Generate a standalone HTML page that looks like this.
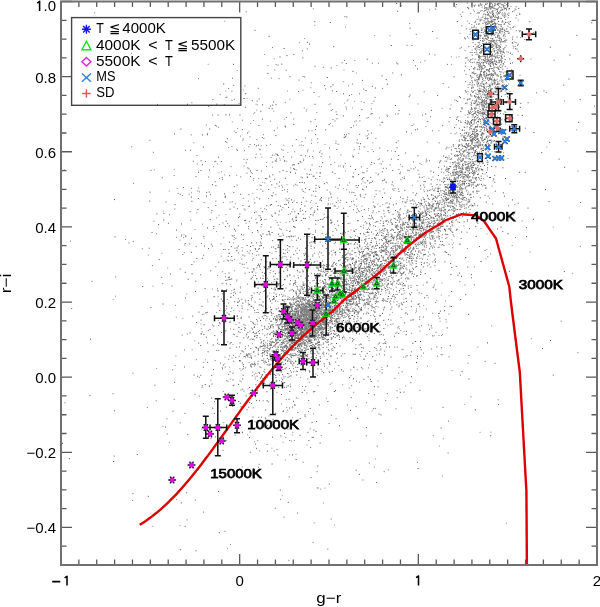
<!DOCTYPE html>
<html><head><meta charset="utf-8"><style>
html,body{margin:0;padding:0;background:#fff;overflow:hidden;}
svg{display:block;font-family:"Liberation Sans",sans-serif;will-change:transform;}
</style></head><body>
<svg width="600" height="607" viewBox="0 0 600 607">
<path d="M349.6 254.9h1M426.6 262.7h1M403.7 224.6h1M447.4 195.3h1M351.8 294.5h1M478.3 79.4h1M356.7 273.5h1M437.9 230.0h1M476.6 94.5h1M444.4 193.9h1M480.6 156.6h1M298.3 323.1h1M450.0 207.2h1M285.3 320.9h1M500.7 26.0h1M355.4 296.4h1M493.4 26.4h1M468.7 113.0h1M472.5 33.9h1M490.5 33.7h1M443.5 245.6h1M471.5 147.8h1M291.1 329.6h1M478.7 42.3h1M455.0 165.0h1M477.7 110.9h1M489.3 140.2h1M294.9 336.3h1M497.8 58.0h1M359.8 291.9h1M393.7 218.5h1M306.3 328.6h1M461.5 109.0h1M491.2 32.0h1M488.2 53.4h1M364.8 268.4h1M342.1 297.9h1M436.2 204.9h1M499.6 38.4h1M463.6 221.8h1M332.4 295.5h1M500.3 53.2h1M510.0 63.4h1M449.0 179.3h1M465.9 133.7h1M421.8 223.6h1M356.1 297.4h1M346.5 299.6h1M388.9 268.0h1M395.0 249.1h1M502.0 20.9h1M492.2 94.0h1M374.1 252.9h1M385.3 260.1h1M364.6 284.3h1M380.6 264.3h1M339.3 297.7h1M390.5 267.4h1M317.8 334.7h1M346.6 310.2h1M462.0 168.4h1M382.4 225.9h1M485.9 70.1h1M484.5 139.4h1M477.8 112.6h1M345.0 266.2h1M332.9 312.3h1M294.9 338.3h1M354.0 312.1h1M466.6 176.5h1M302.5 325.8h1M479.6 102.7h1M383.7 269.2h1M302.1 314.3h1M349.4 300.2h1M490.7 68.6h1M501.8 28.2h1M320.7 325.5h1M292.8 319.7h1M282.5 342.4h1M419.2 225.0h1M303.7 305.1h1M325.6 310.6h1M498.6 45.6h1M275.2 375.4h1M283.6 306.6h1M390.4 271.8h1M358.3 281.8h1M401.4 228.7h1M296.7 318.4h1M313.5 325.6h1M296.6 327.9h1M463.7 140.7h1M480.5 149.3h1M306.8 356.6h1M484.1 65.7h1M489.6 7.9h1M331.5 311.7h1M387.3 257.8h1M467.2 166.9h1M455.4 166.7h1M450.3 229.1h1M489.1 177.5h1M465.6 144.0h1M485.5 18.4h1M334.1 331.2h1M490.0 63.7h1M336.1 296.8h1M444.2 229.1h1M451.1 209.8h1M501.8 58.2h1M360.1 275.7h1M329.0 310.8h1M379.2 258.1h1M453.1 196.1h1M492.2 55.7h1M277.1 324.9h1M482.4 68.9h1M303.4 329.7h1M401.2 274.1h1M322.1 314.3h1M381.8 240.4h1M454.5 208.2h1M303.4 310.1h1M499.6 12.4h1M400.1 263.5h1M352.4 288.6h1M391.7 256.8h1M489.5 16.2h1M410.6 235.8h1M379.0 277.8h1M374.4 297.6h1M491.5 11.6h1M348.0 310.7h1M358.7 264.1h1M401.9 245.5h1M386.2 246.8h1M487.0 121.5h1M419.6 237.2h1M476.2 75.9h1M330.4 310.3h1M446.9 199.5h1M372.0 268.6h1M450.9 149.9h1M308.4 319.4h1M455.4 173.2h1M328.1 289.0h1M312.0 315.4h1M484.2 90.4h1M482.8 84.3h1M492.0 47.2h1M474.7 152.1h1M493.8 51.6h1M466.7 3.1h1M492.2 38.7h1M478.5 97.5h1M487.5 110.8h1M360.5 285.0h1M476.8 117.8h1M436.5 184.7h1M421.5 242.9h1M362.1 268.3h1M477.2 97.3h1M458.0 120.8h1M469.6 98.9h1M436.2 203.5h1M360.3 318.0h1M386.5 285.7h1M315.6 288.5h1M313.8 346.9h1M448.6 193.5h1M285.7 328.7h1M461.8 192.7h1M459.5 189.6h1M506.7 31.3h1M395.7 257.5h1M470.4 194.2h1M490.4 38.6h1M513.6 10.9h1M493.8 50.4h1M385.3 260.9h1M457.0 195.1h1M336.7 292.2h1M487.0 51.9h1M492.5 112.2h1M295.2 282.2h1M392.8 263.4h1M330.2 310.4h1M483.5 87.8h1M497.6 17.7h1M321.8 287.1h1M465.1 169.0h1M468.2 207.0h1M464.1 37.9h1M325.1 284.0h1M475.4 93.2h1M292.2 313.2h1M497.0 86.8h1M454.7 189.9h1M466.7 152.3h1M407.5 255.3h1M304.5 317.3h1M439.6 202.3h1M490.6 73.9h1M339.8 311.6h1M480.5 48.8h1M320.8 311.6h1M475.4 151.6h1M323.1 268.8h1M472.3 72.5h1M329.4 302.0h1M392.3 237.3h1M481.8 101.5h1M438.8 216.5h1M472.9 148.3h1M487.0 148.7h1M487.1 53.3h1M368.4 289.6h1M489.2 33.5h1M402.2 230.4h1M352.0 263.4h1M294.9 338.9h1M288.3 322.2h1M296.9 351.6h1M497.7 30.1h1M338.2 260.7h1M361.4 281.5h1M488.9 74.3h1M490.2 104.6h1M393.2 273.6h1M495.8 48.0h1M480.8 32.4h1M394.4 266.2h1M297.6 326.8h1M466.5 57.8h1M492.8 63.0h1M313.4 321.8h1M454.2 196.5h1M474.1 172.7h1M309.1 341.5h1M464.8 66.2h1M375.0 319.1h1M296.5 335.6h1M479.7 63.8h1M425.4 213.5h1M322.5 329.7h1M479.6 38.2h1M282.0 347.8h1M267.5 348.4h1M480.4 56.6h1M373.8 248.1h1M485.5 38.7h1M342.7 287.7h1M489.2 7.2h1M352.0 298.6h1M298.5 314.6h1M303.2 341.7h1M473.4 27.2h1M431.5 226.6h1M308.2 323.3h1M484.0 6.0h1M422.2 228.0h1M280.5 347.2h1M469.5 34.2h1M480.8 104.4h1M298.4 348.4h1M477.3 105.0h1M371.8 275.3h1M308.1 330.2h1M487.4 121.6h1M243.7 356.5h1M460.7 187.7h1M486.5 36.3h1M295.5 344.8h1M279.8 340.1h1M444.2 194.7h1M341.2 296.7h1M369.3 293.6h1M488.5 34.8h1M497.1 84.6h1M398.2 264.8h1M356.9 293.1h1M357.0 281.6h1M443.1 219.2h1M456.7 172.1h1M503.2 114.0h1M299.7 316.6h1M301.5 336.3h1M493.7 61.4h1M393.2 256.9h1M485.6 110.2h1M470.7 122.0h1M498.5 40.4h1M264.4 348.2h1M461.8 146.1h1M390.2 301.1h1M454.2 198.2h1M502.5 51.1h1M301.7 335.5h1M331.9 306.9h1M491.8 34.8h1M366.6 270.4h1M475.0 49.1h1M458.5 148.4h1M461.4 188.6h1M398.9 258.4h1M433.8 209.8h1M464.7 181.7h1M475.9 177.8h1M497.1 52.9h1M499.5 3.0h1M471.7 152.4h1M484.4 49.2h1M316.0 319.0h1M475.4 136.4h1M302.2 343.9h1M380.7 267.2h1M483.0 117.3h1M375.2 238.9h1M445.4 194.1h1M489.3 52.1h1M491.1 55.6h1M313.6 280.4h1M462.9 155.9h1M431.2 194.9h1M399.2 248.4h1M474.2 95.7h1M330.2 283.5h1M452.9 213.3h1M281.9 336.7h1M443.0 215.1h1M284.9 333.9h1M356.6 281.6h1M320.2 291.3h1M479.8 91.4h1M440.1 241.4h1M448.7 168.6h1M518.2 8.4h1M494.3 19.3h1M438.0 191.6h1M420.2 213.5h1M480.0 137.8h1M492.0 14.4h1M484.1 139.3h1M467.4 146.4h1M496.2 32.8h1M327.8 304.4h1M337.8 273.5h1M340.7 286.7h1M490.7 32.1h1M310.7 309.4h1M449.3 229.0h1M503.1 35.3h1M399.5 264.0h1M400.4 250.3h1M420.5 228.5h1M337.3 303.2h1M471.2 108.3h1M479.8 197.9h1M278.3 338.9h1M306.1 294.2h1M417.8 217.2h1M482.2 133.6h1M286.5 337.3h1M437.5 203.1h1M491.8 44.4h1M472.8 184.0h1M478.8 88.9h1M471.1 122.5h1M476.7 62.3h1M350.5 304.9h1M459.9 186.6h1M367.4 248.3h1M481.5 10.6h1M352.4 311.1h1M483.3 133.8h1M465.9 143.7h1M461.3 171.0h1M496.4 67.5h1M409.2 258.0h1M481.3 103.1h1M321.0 332.4h1M367.9 313.3h1M351.3 296.4h1M360.7 309.0h1M434.6 243.7h1M474.6 59.2h1M475.5 177.5h1M306.9 330.9h1M460.3 193.0h1M280.3 331.3h1M283.7 350.6h1M485.4 152.8h1M437.1 215.0h1M284.0 325.8h1M266.4 352.2h1M457.5 214.4h1M486.4 24.4h1M437.0 203.1h1M295.0 336.5h1M474.7 161.8h1M323.1 298.0h1M474.0 108.1h1M483.8 87.9h1M306.6 314.9h1M325.4 275.6h1M486.0 102.3h1M451.7 203.6h1M500.9 91.4h1M352.3 331.1h1M330.6 297.6h1M275.7 356.1h1M464.4 179.8h1M472.6 42.6h1M430.8 179.8h1M495.0 57.9h1M275.4 341.2h1M291.4 307.0h1M490.4 13.2h1M480.5 126.7h1M504.1 119.8h1M415.2 195.2h1M306.7 333.5h1M492.5 41.4h1M329.5 313.1h1M385.9 240.3h1M377.4 259.5h1M441.7 224.4h1M481.4 86.5h1M273.7 342.6h1M337.0 308.8h1M294.8 315.1h1M400.4 265.5h1M492.3 119.7h1M460.3 168.3h1M292.4 347.4h1M423.3 216.1h1M300.7 330.7h1M487.1 120.1h1M372.0 264.1h1M450.4 180.9h1M341.0 325.7h1M461.9 195.4h1M242.8 364.6h1M341.5 316.5h1M448.3 168.9h1M273.1 374.1h1M469.5 113.5h1M495.8 45.3h1M349.1 300.2h1M341.9 281.9h1M497.1 113.0h1M455.5 197.6h1M261.6 375.2h1M328.4 311.3h1M400.7 275.3h1M346.7 304.2h1M461.9 129.9h1M488.0 90.8h1M465.3 138.2h1M493.8 104.5h1M456.7 174.5h1M410.2 218.5h1M295.2 343.2h1M487.6 60.0h1M487.9 92.3h1M342.5 301.4h1M371.9 252.8h1M482.2 104.9h1M310.9 319.7h1M343.0 320.5h1M307.9 296.3h1M294.6 347.6h1M446.4 147.2h1M499.8 60.4h1M414.0 213.5h1M330.8 316.0h1M497.1 36.1h1M379.2 283.3h1M469.3 163.3h1M366.4 244.8h1M490.3 43.4h1M462.3 165.2h1M423.4 254.6h1M391.5 235.8h1M313.4 306.4h1M351.5 330.4h1M502.7 5.0h1M436.6 218.9h1M496.6 94.7h1M485.2 33.1h1M290.6 307.9h1M461.7 185.0h1M480.8 28.1h1M282.3 313.6h1M420.9 243.4h1M311.9 302.1h1M257.6 361.3h1M498.7 60.6h1M348.1 316.9h1M444.8 196.6h1M311.3 325.0h1M314.8 314.9h1M466.4 204.0h1M330.5 278.7h1M468.7 168.3h1M477.2 121.4h1M328.3 303.6h1M371.6 238.6h1M351.7 259.1h1M490.9 131.1h1M351.7 269.1h1M484.8 19.0h1M378.5 286.3h1M492.1 4.9h1M409.2 241.9h1M312.5 329.4h1M464.4 174.6h1M270.8 345.4h1M482.3 109.3h1M479.6 113.4h1M473.6 129.0h1M382.3 250.5h1M374.2 279.4h1M338.1 297.9h1M278.3 370.1h1M276.5 340.0h1M477.8 83.2h1M298.0 324.1h1M292.3 348.2h1M413.0 229.8h1M324.4 299.6h1M433.6 226.4h1M335.6 288.0h1M368.5 257.2h1M337.2 300.6h1M312.5 324.5h1M497.2 37.2h1M345.1 272.0h1M465.8 92.1h1M474.0 135.9h1M300.3 312.2h1M485.8 137.6h1M493.7 127.3h1M487.1 167.9h1M307.4 301.0h1M395.8 275.7h1M478.0 174.0h1M297.3 338.5h1M332.4 291.9h1M484.1 71.5h1M312.5 294.0h1M267.9 326.9h1M494.5 67.2h1M357.0 277.2h1M482.3 101.7h1M366.3 254.1h1M464.3 181.4h1M412.3 219.4h1M446.2 161.2h1M478.5 57.4h1M340.6 297.5h1M317.8 347.8h1M397.3 232.9h1M383.7 271.0h1M376.3 302.3h1M373.8 273.1h1M308.6 318.8h1M503.7 75.8h1M417.9 211.1h1M346.8 295.1h1M302.0 336.5h1M456.3 201.1h1M494.4 73.8h1M415.0 213.6h1M498.3 143.9h1M485.0 4.2h1M470.2 166.0h1M487.4 77.7h1M497.7 76.2h1M380.1 294.4h1M429.0 226.5h1M342.9 293.3h1M487.4 14.5h1M470.5 109.8h1M458.6 166.6h1M472.2 133.4h1M475.2 168.8h1M328.6 296.7h1M376.2 255.3h1M305.9 355.8h1M475.5 155.7h1M300.5 332.7h1M323.6 305.5h1M385.1 239.4h1M462.1 168.8h1M494.1 80.2h1M413.0 228.5h1M448.4 203.0h1M442.2 244.6h1M500.3 64.7h1M480.5 85.4h1M462.8 159.8h1M310.3 337.0h1M456.3 199.7h1M322.1 297.4h1M505.2 40.0h1M323.8 328.9h1M474.1 73.9h1M336.1 296.0h1M317.4 337.7h1M371.4 270.9h1M342.3 285.6h1M306.2 308.9h1M264.1 326.3h1M481.7 112.4h1M473.9 129.7h1M471.0 120.4h1M419.7 203.8h1M321.1 334.3h1M381.6 280.2h1M346.0 288.2h1M485.6 4.3h1M459.1 151.6h1M434.8 208.2h1M344.7 294.6h1M467.4 117.3h1M315.7 306.5h1M483.9 102.1h1M354.1 265.9h1M470.1 162.1h1M487.0 12.6h1M293.2 323.1h1M492.6 93.9h1M461.9 168.7h1M333.5 284.7h1M481.5 140.1h1M295.3 367.3h1M482.4 43.4h1M479.6 155.8h1M371.2 289.2h1M316.0 307.6h1M490.2 41.3h1M468.2 163.7h1M368.9 269.8h1M423.5 207.1h1M443.4 207.3h1M468.3 143.5h1M482.5 163.2h1M389.8 260.8h1M277.8 342.4h1M489.2 96.7h1M481.9 150.5h1M341.2 301.1h1M381.3 265.9h1M312.4 310.3h1M504.7 59.6h1M415.7 205.2h1M457.4 163.0h1M302.1 320.0h1M479.2 126.8h1M324.6 328.6h1M314.4 334.8h1M484.2 91.1h1M452.8 208.2h1M464.9 38.9h1M484.9 31.0h1M354.2 248.2h1M360.6 259.5h1M384.7 274.4h1M491.5 80.1h1M416.1 240.1h1M328.1 339.4h1M349.7 322.6h1M471.7 141.9h1M468.5 167.2h1M318.3 342.4h1M398.1 234.0h1M477.6 185.3h1M468.8 180.7h1M512.5 27.5h1M392.9 252.2h1M408.5 262.0h1M490.5 27.8h1M340.3 295.1h1M342.1 288.9h1M379.9 269.2h1M495.2 73.9h1M472.4 138.6h1M450.6 201.4h1M358.7 282.9h1M369.8 272.0h1M413.5 227.7h1M498.5 35.8h1M486.8 96.7h1M390.8 284.4h1M464.5 197.4h1M309.2 329.1h1M291.3 321.1h1M487.6 124.7h1M310.2 309.6h1M387.6 267.5h1M421.9 227.2h1M338.6 307.1h1M483.8 67.9h1M475.6 101.8h1M441.4 204.6h1M467.2 194.4h1M405.2 241.0h1M481.6 118.4h1M304.6 354.5h1M323.6 322.5h1M345.4 300.7h1M339.4 326.0h1M279.3 335.0h1M313.8 315.0h1M439.0 236.7h1M489.7 56.2h1M331.8 323.7h1M322.3 337.1h1M480.1 74.8h1M330.9 291.5h1M488.2 70.9h1M471.0 107.8h1M450.3 185.5h1M450.1 200.6h1M319.2 337.8h1M486.5 9.1h1M430.3 218.0h1M447.4 187.3h1M498.4 69.6h1M390.2 281.7h1M463.6 197.6h1M413.4 220.7h1M290.4 350.2h1M374.7 251.5h1M439.7 161.2h1M343.4 288.9h1M477.2 135.1h1M497.5 94.7h1M376.8 268.9h1M362.2 299.3h1M436.4 237.0h1M499.8 49.9h1M488.6 93.5h1M302.0 339.9h1M291.5 350.6h1M485.1 14.7h1M337.9 284.6h1M488.4 117.1h1M476.5 46.5h1M447.5 169.3h1M474.2 96.3h1M326.4 284.3h1M303.8 321.9h1M278.8 340.7h1M502.4 21.9h1M371.6 264.8h1M377.8 259.8h1M461.8 183.7h1M448.7 209.9h1M379.9 265.4h1M478.9 67.7h1M279.2 319.2h1M412.2 228.1h1M322.4 310.0h1M305.7 321.9h1M486.7 162.3h1M449.1 223.4h1M478.9 76.4h1M347.2 303.1h1M345.8 306.4h1M501.0 56.4h1M466.9 219.8h1M279.8 336.6h1M471.7 114.6h1M498.8 37.1h1M309.4 296.5h1M284.3 341.8h1M389.8 252.7h1M469.0 173.5h1M323.8 310.8h1M321.6 333.4h1M497.0 57.1h1M378.3 270.0h1M451.0 195.3h1M448.3 228.9h1M381.5 269.0h1M491.8 33.3h1M429.3 226.0h1M282.7 332.4h1M464.9 90.9h1M474.7 44.3h1M466.0 198.8h1M286.1 329.3h1M345.5 254.6h1M498.1 12.7h1M301.1 346.6h1M472.6 138.1h1M497.0 4.3h1M489.2 78.2h1M375.0 265.1h1M323.1 307.1h1M335.9 306.3h1M478.8 145.2h1M502.3 15.7h1M300.3 344.2h1M330.3 291.8h1M308.0 327.2h1M360.7 273.8h1M490.9 20.7h1M398.5 231.8h1M420.7 226.4h1M297.4 338.0h1M435.1 216.3h1M439.6 223.9h1M489.5 31.9h1M345.0 258.2h1M371.8 288.3h1M470.7 172.7h1M403.7 272.0h1M477.9 45.9h1M289.7 331.3h1M475.6 185.8h1M328.1 344.8h1M447.6 206.1h1M414.0 254.6h1M415.5 223.5h1M293.0 363.1h1M448.3 172.5h1M301.1 332.8h1M469.1 185.7h1M515.0 48.8h1M346.2 285.2h1M476.7 136.3h1M433.5 221.5h1M490.9 21.9h1M432.5 226.3h1M483.4 112.3h1M491.0 47.3h1M424.7 235.7h1M261.0 376.9h1M285.6 341.3h1M398.7 246.5h1M377.0 233.5h1M478.2 140.4h1M490.7 22.0h1M336.7 322.3h1M352.7 299.5h1M485.1 45.2h1M341.4 278.7h1M313.9 313.5h1M286.4 328.5h1M478.3 57.0h1M291.9 332.7h1M485.9 126.2h1M472.2 92.3h1M317.9 283.5h1M491.0 110.7h1M302.2 335.5h1M262.5 306.2h1M489.1 85.5h1M423.7 254.6h1M506.7 73.7h1M337.3 310.1h1M473.1 172.7h1M347.4 292.4h1M365.4 238.8h1M476.8 146.5h1M312.1 325.0h1M287.3 338.6h1M253.1 352.0h1M319.3 304.3h1M366.8 321.6h1M364.5 258.7h1M295.1 314.7h1M303.3 320.2h1M471.9 82.2h1M458.2 176.7h1M490.1 92.6h1M286.1 309.9h1M355.1 267.8h1M437.2 220.0h1M485.7 137.0h1M463.9 133.2h1M500.7 124.5h1M480.7 69.9h1M322.3 318.6h1M487.1 141.5h1M436.9 191.4h1M286.9 299.4h1M477.8 147.4h1M427.1 191.0h1M330.7 319.5h1M494.1 60.0h1M483.5 106.8h1M504.1 30.7h1M323.3 317.6h1M415.4 214.0h1M452.5 203.1h1M423.6 229.3h1M451.7 190.3h1M457.9 175.1h1M358.7 269.0h1M458.8 141.2h1M453.2 216.7h1M358.0 275.7h1M257.9 349.1h1M471.4 109.3h1M450.3 197.1h1M310.0 322.4h1M306.6 315.2h1M300.7 322.7h1M308.7 333.7h1M348.3 294.9h1M341.7 328.2h1M479.1 75.7h1M431.1 194.9h1M491.3 6.8h1M396.1 239.9h1M477.8 101.9h1M498.2 107.4h1M429.0 205.8h1M483.2 127.0h1M323.0 301.4h1M283.4 330.1h1M437.3 224.2h1M296.2 375.0h1M287.1 336.8h1M365.2 304.0h1M492.6 15.2h1M483.2 84.1h1M316.1 311.5h1M375.2 277.7h1M479.5 21.0h1M340.5 311.2h1M270.5 344.7h1M459.0 191.8h1M467.0 140.6h1M496.8 14.0h1M481.6 100.6h1M323.6 288.2h1M470.1 135.6h1M271.0 358.8h1M482.2 173.7h1M335.0 313.0h1M419.6 203.2h1M412.5 230.1h1M497.4 55.2h1M373.0 256.3h1M288.7 340.8h1M381.0 235.4h1M411.8 242.4h1M410.9 260.8h1M494.8 63.4h1M459.4 175.5h1M352.1 285.5h1M473.1 155.8h1M496.0 98.7h1M473.6 69.0h1M310.2 316.4h1M275.8 322.3h1M299.7 341.5h1M461.0 192.3h1M336.0 353.9h1M488.9 92.6h1M422.2 233.1h1M491.9 62.6h1M482.9 105.4h1M345.6 298.8h1M478.7 49.7h1M321.6 318.0h1M309.5 316.6h1M374.5 268.7h1M481.0 127.1h1M491.3 97.0h1M335.0 304.2h1M480.9 51.9h1M503.2 87.3h1M502.8 63.5h1M491.4 107.7h1M481.0 169.8h1M287.7 325.4h1M251.9 364.2h1M321.9 339.2h1M501.7 85.5h1M320.6 329.4h1M288.4 316.3h1M482.7 45.9h1M497.3 51.8h1M405.2 232.0h1M332.5 294.2h1M307.5 297.3h1M432.9 217.5h1M492.5 83.9h1M285.5 346.2h1M493.1 93.3h1M471.1 141.1h1M305.9 332.5h1M312.0 319.5h1M399.6 237.3h1M297.6 314.8h1M493.0 15.8h1M472.4 119.5h1M334.0 326.2h1M490.6 30.0h1M325.5 274.2h1M328.9 320.9h1M455.6 148.8h1M430.3 216.2h1M487.3 78.7h1M486.0 73.2h1M388.4 276.6h1M390.3 261.8h1M318.5 326.6h1M476.7 133.6h1M446.4 200.2h1M390.5 248.3h1M509.2 58.9h1M437.9 213.5h1M387.8 268.2h1M475.1 116.7h1M292.8 355.8h1M305.4 350.7h1M413.2 247.9h1M435.6 230.9h1M361.5 278.6h1M477.1 174.5h1M416.4 258.2h1M425.6 210.1h1M350.0 264.7h1M406.6 257.6h1M330.0 320.7h1M279.8 324.6h1M300.0 323.2h1M492.7 129.5h1M407.3 231.1h1M388.1 252.0h1M469.3 124.4h1M498.2 99.3h1M475.5 171.3h1M304.5 306.0h1M459.6 194.6h1M328.9 307.3h1M493.2 141.1h1M488.7 127.9h1M254.8 364.7h1M462.3 173.1h1M459.9 157.7h1M462.7 165.7h1M464.2 127.4h1M501.0 96.3h1M287.6 377.2h1M468.1 8.7h1M493.9 120.0h1M325.1 313.5h1M315.2 338.1h1M254.2 363.6h1M484.5 71.8h1M393.2 240.0h1M288.4 350.8h1M291.0 342.0h1M490.3 129.5h1M413.0 269.2h1M484.0 129.1h1M278.6 314.5h1M476.2 168.9h1M489.7 6.5h1M411.3 258.5h1M472.8 163.6h1M287.6 321.4h1M474.7 155.5h1M494.3 17.2h1M287.2 334.7h1M273.2 346.1h1M488.1 131.3h1M451.0 154.0h1M439.5 200.7h1M307.8 349.2h1M301.5 334.6h1M289.0 324.6h1M489.8 17.6h1M426.8 209.2h1M417.5 227.2h1M481.0 45.6h1M391.4 250.5h1M341.9 309.9h1M484.3 29.9h1M349.4 264.7h1M349.2 287.0h1M415.5 229.2h1M499.8 46.7h1M378.9 248.0h1M493.2 33.6h1M501.4 4.6h1M429.2 226.9h1M356.3 270.3h1M503.8 56.2h1M489.2 44.5h1M310.0 306.0h1M474.0 6.1h1M330.1 310.3h1M481.7 81.6h1M500.9 39.4h1M481.6 138.1h1M334.1 307.4h1M449.3 194.0h1M354.2 293.6h1M466.3 169.0h1M350.4 283.1h1M429.4 204.6h1M390.4 258.5h1M351.7 328.8h1M416.7 204.7h1M371.9 270.4h1M472.0 173.6h1M440.7 214.3h1M453.6 188.8h1M488.2 74.6h1M300.9 328.9h1M269.9 374.1h1M275.2 344.3h1M285.7 345.7h1M506.4 4.6h1M474.1 26.0h1M359.8 309.6h1M476.4 191.0h1M474.5 22.4h1M335.8 288.9h1M482.8 50.2h1M482.2 169.5h1M392.2 272.3h1M486.5 74.4h1M482.7 64.0h1M403.1 272.7h1M461.5 166.8h1M478.3 24.4h1M473.5 39.1h1M483.7 130.8h1M325.7 330.6h1M432.1 247.9h1M484.5 122.8h1M493.3 45.1h1M490.1 21.8h1M373.5 280.7h1M475.4 96.9h1M388.5 263.2h1M454.1 127.6h1M377.7 261.1h1M465.7 212.2h1M326.0 295.8h1M323.5 321.8h1M477.4 110.4h1M280.7 372.1h1M460.7 136.0h1M368.4 288.9h1M427.9 203.0h1M477.0 139.3h1M355.4 298.9h1M333.3 295.2h1M342.0 290.5h1M494.7 126.4h1M263.6 344.7h1M478.0 121.5h1M494.5 56.6h1M485.4 122.8h1M313.4 321.2h1M470.7 102.2h1M490.3 66.4h1M467.6 177.3h1M471.1 134.6h1M317.6 342.8h1M422.7 197.8h1M280.6 329.8h1M478.5 13.1h1M356.5 304.9h1M381.6 279.7h1M470.9 165.3h1M448.9 190.5h1M493.8 40.3h1M497.0 11.6h1M459.5 154.8h1M463.8 184.8h1M482.0 113.7h1M476.8 126.6h1M352.5 258.8h1M487.4 59.3h1M489.6 140.1h1M487.8 151.8h1M292.0 341.2h1M366.9 248.4h1M278.9 357.7h1M471.2 88.3h1M443.9 166.1h1M411.8 260.3h1M325.8 300.4h1M483.7 118.5h1M386.8 284.1h1M498.0 21.5h1M494.5 82.1h1M477.5 165.7h1M291.3 341.2h1M338.4 308.0h1M505.0 22.6h1M464.9 146.5h1M322.8 291.3h1M334.5 320.6h1M471.4 182.6h1M497.3 47.4h1M492.1 21.6h1M306.9 292.6h1M412.4 236.9h1M512.1 39.2h1M443.0 156.1h1M483.2 86.3h1M358.2 268.9h1M339.8 298.7h1M358.8 301.8h1M299.6 356.1h1M246.4 355.3h1M482.0 38.2h1M464.0 137.1h1M304.5 340.5h1M330.7 295.0h1M318.5 325.0h1M458.9 96.6h1M484.5 122.7h1M495.4 53.8h1M339.4 308.9h1M493.7 35.2h1M486.7 26.8h1M425.0 239.1h1M295.3 337.4h1M499.6 51.2h1M368.5 262.8h1M279.1 361.7h1M420.7 228.7h1M391.9 257.6h1M348.0 280.8h1M456.9 181.2h1M502.3 82.2h1M418.9 224.7h1M400.4 267.0h1M425.9 214.5h1M463.9 183.5h1M269.9 333.8h1M485.8 35.5h1M301.0 335.2h1M474.6 173.0h1M495.7 27.8h1M460.0 97.7h1M491.6 63.9h1M345.5 280.0h1M489.1 92.1h1M464.5 162.9h1M462.5 214.5h1M483.4 112.4h1M456.1 119.4h1M339.9 297.3h1M400.4 227.9h1M466.9 168.3h1M347.3 309.2h1M404.9 251.3h1M482.2 132.7h1M397.6 235.4h1M478.6 168.8h1M371.7 274.5h1M469.2 184.2h1M512.8 78.0h1M281.2 350.1h1M299.2 344.8h1M490.9 51.8h1M500.4 24.6h1M364.3 303.2h1M478.8 77.3h1M447.8 193.0h1M493.5 28.0h1M350.6 290.6h1M343.1 286.6h1M468.0 185.8h1M266.3 329.1h1M330.1 302.8h1M282.1 379.8h1M489.1 148.7h1M393.1 250.7h1M490.2 126.2h1M481.3 50.3h1M496.7 9.4h1M374.3 238.3h1M444.0 229.5h1M350.1 293.0h1M431.0 229.6h1M471.8 55.1h1M290.8 357.4h1M275.8 370.7h1M454.2 177.8h1M398.2 214.9h1M416.5 285.5h1M390.5 236.7h1M365.2 241.1h1M478.4 62.6h1M474.6 112.2h1M456.6 200.9h1M346.7 307.8h1M512.2 36.9h1M479.7 66.6h1M328.6 310.0h1M407.0 241.3h1M410.2 243.8h1M478.4 113.9h1M469.5 29.3h1M491.1 79.0h1M480.0 73.8h1M424.9 235.9h1M492.4 28.6h1M463.3 137.5h1M476.7 84.8h1M292.5 339.4h1M327.3 323.7h1M305.4 330.1h1M346.1 303.5h1M303.8 324.8h1M402.2 258.9h1M362.7 300.5h1M462.6 177.0h1M447.2 234.6h1M291.0 319.9h1M472.9 91.7h1M482.6 41.4h1M492.4 10.9h1M507.6 3.1h1M410.1 217.6h1M492.9 16.4h1M327.5 298.3h1M466.8 100.0h1M411.9 215.2h1M486.8 27.0h1M373.7 269.3h1M507.0 96.9h1M389.4 241.6h1M258.5 372.6h1M453.7 179.1h1M486.0 75.7h1M456.3 155.3h1M285.0 323.9h1M500.5 51.7h1M490.5 46.3h1M499.2 32.8h1M432.8 218.6h1M486.2 50.6h1M284.9 352.3h1M484.1 103.3h1M479.7 36.1h1M334.5 299.0h1M448.3 192.4h1M317.6 331.5h1M493.5 117.6h1M415.8 232.4h1M333.8 311.0h1M399.6 214.8h1M287.5 318.1h1M323.6 327.7h1M327.4 296.6h1M363.9 300.2h1M330.5 296.4h1M469.4 122.8h1M285.9 348.1h1M480.5 158.1h1M305.9 355.3h1M507.2 14.2h1M448.7 218.7h1M432.7 231.4h1M477.5 104.5h1M422.8 223.1h1M491.1 89.1h1M295.7 333.7h1M453.5 192.2h1M432.1 199.2h1M486.2 142.7h1M482.0 40.8h1M292.7 315.3h1M486.3 8.0h1M357.1 305.0h1M339.2 293.6h1M290.1 321.5h1M492.4 30.1h1M315.1 311.2h1M269.2 349.3h1M487.4 53.6h1M287.1 316.5h1M456.2 151.3h1M350.2 301.3h1M278.9 328.4h1M475.8 105.1h1M336.5 311.2h1M357.9 282.3h1M490.1 140.6h1M363.9 280.9h1M300.0 324.2h1M489.6 145.8h1M488.7 69.4h1M477.9 96.3h1M334.4 323.7h1M316.1 317.2h1M479.1 52.7h1M480.6 91.3h1M329.8 302.7h1M335.5 297.5h1M477.7 47.5h1M318.1 297.9h1M402.6 233.7h1M340.9 314.7h1M405.1 238.9h1M292.1 316.5h1M326.3 311.1h1M388.4 240.4h1M480.9 71.2h1M368.3 253.4h1M318.6 347.7h1M453.8 177.9h1M427.0 226.7h1M468.3 183.6h1M495.4 80.3h1M326.1 290.2h1M427.4 211.5h1M473.9 164.3h1M491.7 88.7h1M341.8 315.3h1M361.5 256.1h1M491.9 83.9h1M311.0 345.4h1M380.6 252.0h1M490.7 40.6h1M276.7 339.2h1M286.8 310.8h1M297.4 328.4h1M450.1 166.8h1M473.2 165.5h1M335.7 307.4h1M435.6 207.8h1M475.8 160.8h1M481.1 69.1h1M286.0 346.7h1M363.6 270.6h1M473.1 68.8h1M386.5 239.2h1M456.0 197.9h1M386.3 234.3h1M299.3 330.4h1M483.0 72.7h1M423.3 185.0h1M431.4 205.9h1M478.4 98.6h1M388.2 222.0h1M469.8 111.6h1M495.8 61.2h1M479.1 47.4h1M306.0 324.5h1M490.7 75.6h1M476.6 133.6h1M488.6 106.2h1M300.3 351.2h1M470.5 140.2h1M444.9 231.0h1M411.5 253.4h1M494.3 5.6h1M323.4 286.6h1M445.8 187.5h1M494.3 123.2h1M370.8 249.7h1M434.7 240.7h1M468.8 99.0h1M474.4 52.5h1M391.1 236.6h1M361.0 283.9h1M474.4 119.5h1M285.1 363.7h1M444.9 186.7h1M500.9 62.7h1M497.9 3.7h1M262.1 374.7h1M380.1 264.7h1M481.2 76.9h1M330.5 306.2h1M459.6 195.2h1M445.1 213.5h1M356.4 314.8h1M469.2 201.3h1M304.1 335.2h1M490.1 127.4h1M284.6 353.9h1M483.5 20.8h1M309.2 310.2h1M394.3 258.9h1M496.1 64.6h1M419.3 234.5h1M273.9 351.4h1M410.7 237.0h1M447.1 179.5h1M485.4 7.8h1M495.9 99.8h1M428.9 212.3h1M476.7 145.3h1M482.6 89.6h1M482.6 92.8h1M488.6 70.9h1M449.0 187.4h1M325.0 279.9h1M311.7 319.9h1M273.0 361.0h1M499.7 28.6h1M491.7 34.5h1M482.4 23.3h1M348.4 322.1h1M412.8 233.2h1M481.4 4.8h1M352.4 298.2h1M361.9 253.7h1M332.6 277.3h1M285.3 351.0h1M303.2 320.5h1M469.4 127.4h1M494.4 23.5h1M409.9 271.9h1M336.4 273.4h1M480.8 148.3h1M477.4 54.7h1M314.8 329.6h1M489.2 78.8h1M383.4 265.5h1M449.0 179.2h1M497.4 103.7h1M507.6 31.7h1M492.7 106.6h1M368.8 255.2h1M318.2 314.9h1M313.3 317.5h1M273.1 335.7h1M344.0 280.9h1M349.1 290.2h1M396.1 225.7h1M296.3 321.1h1M492.9 64.9h1M309.5 310.8h1M365.7 278.7h1M331.8 303.6h1M335.6 305.5h1M457.0 155.0h1M479.0 91.1h1M457.2 197.7h1M344.5 259.1h1M475.6 28.0h1M471.4 96.0h1M483.5 87.0h1M474.4 90.3h1M295.2 328.4h1M396.6 257.7h1M359.1 291.7h1M318.3 327.7h1M329.7 308.2h1M396.7 238.4h1M388.8 291.9h1M478.0 35.8h1M483.0 62.7h1M473.5 138.0h1M429.1 248.8h1M423.3 229.6h1M368.3 284.3h1M357.6 296.9h1M416.4 233.3h1M464.7 122.4h1M475.3 111.6h1M485.8 107.4h1M380.5 279.1h1M376.7 255.4h1M475.9 131.6h1M453.6 210.6h1M480.8 134.6h1M421.2 225.7h1M375.2 275.0h1M429.0 215.4h1M495.6 46.5h1M488.0 60.8h1M412.1 228.9h1M364.5 254.7h1M482.3 48.8h1M459.6 172.2h1M466.6 123.9h1M498.7 62.2h1M434.7 208.1h1M485.2 57.7h1M479.1 118.8h1M501.5 86.4h1M338.7 305.6h1M497.9 88.3h1M432.3 235.7h1M486.0 82.7h1M368.3 269.6h1M401.6 248.6h1M325.8 304.1h1M454.3 183.9h1M299.7 321.5h1M376.5 284.1h1M284.4 345.6h1M403.9 251.6h1M445.6 234.4h1M353.0 296.1h1M339.1 306.1h1M313.6 318.3h1M318.4 315.1h1M269.5 345.4h1M392.9 238.5h1M425.2 232.2h1M396.4 236.5h1M455.8 169.3h1M354.9 310.5h1M301.6 311.0h1M358.5 260.9h1M478.1 91.1h1M468.3 112.8h1M458.7 145.1h1M395.4 227.4h1M277.8 347.2h1M272.0 342.0h1M488.4 97.4h1M267.3 346.1h1M469.2 169.1h1M440.7 216.2h1M471.0 140.1h1M479.3 75.0h1M481.5 83.1h1M367.6 292.6h1M354.1 289.5h1M495.8 84.7h1M490.9 142.0h1M401.8 273.7h1M490.8 43.0h1M418.3 226.2h1M381.6 263.6h1M247.4 332.5h1M277.6 370.6h1M497.5 67.1h1M483.7 114.0h1M294.9 325.9h1M327.1 310.0h1M492.3 33.4h1M476.1 129.8h1M487.2 69.7h1M369.6 244.9h1M398.6 254.0h1M506.9 71.7h1M484.8 114.3h1M490.4 46.8h1M283.6 326.5h1M296.6 331.9h1M290.1 354.0h1M308.4 307.4h1M471.2 90.9h1M444.3 178.3h1M509.0 8.4h1M498.9 100.3h1M480.6 52.3h1M326.0 328.0h1M389.5 254.1h1M505.2 8.5h1M478.5 59.8h1M302.7 283.9h1M485.0 23.1h1M498.5 111.3h1M463.5 204.6h1M284.6 333.6h1M395.5 226.4h1M403.9 252.5h1M483.3 122.5h1M495.7 12.8h1M383.7 300.1h1M470.8 123.3h1M297.8 304.2h1M340.2 298.2h1M511.9 62.9h1M350.9 295.4h1M313.9 309.4h1M304.1 345.0h1M465.8 150.1h1M315.8 329.9h1M355.6 311.8h1M461.6 181.5h1M379.2 247.6h1M425.8 234.0h1M492.3 103.1h1M488.3 157.2h1M348.8 301.4h1M484.2 74.8h1M412.7 226.7h1M476.5 191.3h1M470.1 60.0h1M495.8 62.3h1M431.3 231.9h1M496.6 9.1h1M474.1 146.0h1M407.1 252.6h1M467.4 164.2h1M444.9 198.5h1M478.5 92.3h1M467.6 122.6h1M471.4 80.7h1M472.3 163.3h1M491.5 41.3h1M491.7 68.5h1M311.0 350.7h1M293.3 321.3h1M410.5 238.0h1M347.3 305.5h1M289.8 304.3h1M307.3 321.9h1M447.3 185.1h1M361.0 263.4h1M361.0 309.5h1M471.4 144.0h1M476.2 139.3h1M483.0 150.6h1M481.5 148.6h1M298.6 344.2h1M291.7 323.8h1M335.3 306.0h1M504.4 3.1h1M473.4 131.6h1M484.7 36.1h1M330.3 317.9h1M322.1 289.9h1M499.1 6.9h1M276.2 355.7h1M352.7 286.3h1M424.5 241.9h1M474.4 137.2h1M286.5 337.9h1M336.3 313.9h1M378.9 266.6h1M470.1 94.3h1M483.9 106.8h1M437.4 207.9h1M502.4 138.4h1M445.1 209.7h1M458.8 222.4h1M457.1 181.1h1M255.2 347.3h1M482.1 127.9h1M481.7 99.7h1M300.0 329.9h1M337.5 314.6h1M280.8 353.7h1M352.0 315.5h1M445.7 194.0h1M410.1 247.9h1M476.5 142.1h1M323.5 283.0h1M491.8 84.9h1M475.0 140.5h1M302.5 332.9h1M331.7 266.5h1M306.2 314.2h1M401.7 225.8h1M489.5 44.4h1M356.6 304.5h1M300.1 329.8h1M480.0 72.0h1M480.5 154.5h1M394.0 258.2h1M337.3 284.4h1M349.4 301.7h1M356.5 291.3h1M360.3 294.5h1M262.8 345.6h1M334.0 290.9h1M430.1 232.0h1M302.9 309.5h1M379.6 231.1h1M484.5 56.3h1M339.1 282.8h1M490.4 89.5h1M474.5 146.1h1M490.7 56.4h1M497.1 100.4h1M515.5 42.7h1M405.0 222.4h1M386.0 250.1h1M425.8 205.6h1M420.5 230.8h1M504.7 41.9h1M474.9 108.9h1M422.3 222.4h1M432.0 206.0h1M314.9 308.3h1M510.0 53.2h1M390.0 254.2h1M445.5 148.8h1M456.0 214.3h1M498.3 18.1h1M358.5 268.1h1M363.7 292.6h1M360.2 280.4h1M464.1 150.8h1M454.5 180.1h1M469.2 61.2h1M332.9 312.1h1M367.8 285.8h1M353.3 270.9h1M279.1 316.9h1M488.9 61.3h1M359.3 277.7h1M494.5 27.5h1M461.2 161.0h1M461.6 172.3h1M443.2 200.9h1M392.0 258.9h1M445.9 200.4h1M488.4 86.5h1M345.6 284.4h1M418.1 232.9h1M445.8 186.8h1M478.2 56.9h1M449.9 173.8h1M382.4 235.9h1M490.8 60.3h1M494.6 151.9h1M297.2 338.4h1M458.7 181.1h1M508.5 22.0h1M488.9 103.5h1M300.4 315.3h1M348.8 315.9h1M319.5 308.9h1M471.2 185.0h1M334.6 269.7h1M480.8 66.1h1M473.5 113.5h1M483.4 142.3h1M308.3 316.1h1M384.3 216.2h1M323.8 307.0h1M495.7 56.1h1M315.5 357.7h1M354.6 272.6h1M410.6 256.3h1M324.3 317.1h1M475.3 73.6h1M468.5 156.0h1M460.7 172.6h1M453.6 76.8h1M502.5 88.3h1M450.2 190.8h1M394.8 268.4h1M290.9 341.4h1M322.2 297.6h1M316.2 316.8h1M246.8 355.0h1M401.1 241.1h1M303.7 325.6h1M499.2 32.2h1M489.8 66.1h1M286.3 322.8h1M502.9 41.7h1M503.2 6.3h1M479.6 35.2h1M494.9 23.3h1M293.6 355.5h1M472.4 167.4h1M500.3 72.0h1M467.2 7.5h1M479.5 58.4h1M505.6 8.0h1M304.6 337.2h1M311.7 312.4h1M351.8 304.3h1M444.2 209.6h1M493.4 41.0h1M373.2 266.2h1M478.2 177.6h1M440.9 219.6h1M477.0 157.2h1M355.1 292.2h1M291.8 306.1h1M456.5 229.3h1M402.7 223.1h1M479.7 111.6h1M282.4 356.1h1M478.1 78.7h1M456.8 191.7h1M435.0 216.3h1M283.9 313.5h1M473.0 187.9h1M283.7 353.0h1M390.8 298.6h1M422.6 233.6h1M299.2 351.8h1M487.9 21.3h1M492.9 13.4h1M488.3 23.2h1M343.3 317.7h1M499.9 47.3h1M437.6 189.9h1M462.6 151.5h1M491.2 7.2h1M462.8 158.5h1M328.6 314.3h1M491.1 166.6h1M297.7 314.4h1M280.9 331.5h1M454.7 175.0h1M489.8 61.7h1M478.8 56.1h1M325.1 286.7h1M472.1 131.8h1M407.4 212.7h1M315.1 301.3h1M485.6 24.4h1M489.8 52.6h1M453.2 194.9h1M487.2 18.4h1M504.4 47.4h1M469.6 194.3h1M491.3 62.6h1M492.0 54.2h1M485.4 45.5h1M391.9 278.1h1M418.7 234.6h1M454.4 169.6h1M328.0 322.4h1M488.0 38.0h1M463.7 206.1h1M289.9 346.9h1M485.4 92.6h1M325.5 271.7h1M415.9 257.9h1M285.8 312.1h1M487.7 91.4h1M472.6 192.1h1M465.5 74.3h1M434.8 196.3h1M503.5 48.9h1M287.9 333.1h1M432.1 238.2h1M485.9 42.7h1M454.0 155.7h1M272.5 363.2h1M314.1 345.9h1M421.1 204.2h1M285.3 359.2h1M444.9 215.3h1M504.2 13.0h1M485.5 112.0h1M307.1 330.3h1M404.4 236.9h1M476.9 141.9h1M284.0 328.1h1M452.8 146.1h1M372.1 261.0h1M470.1 159.3h1M422.7 212.6h1M501.2 10.1h1M431.2 208.3h1M404.8 241.3h1M474.1 117.4h1M330.6 285.2h1M467.6 140.7h1M493.9 119.0h1M447.7 199.2h1M482.9 140.2h1M322.1 288.4h1M465.9 191.0h1M492.4 70.8h1M493.0 124.5h1M264.5 346.5h1M499.2 107.1h1M301.4 343.9h1M385.0 249.1h1M491.8 38.9h1M335.5 319.5h1M428.1 218.7h1M386.3 236.7h1M519.8 107.4h1M467.9 149.9h1M472.0 170.1h1M400.2 268.8h1M339.7 314.5h1M490.3 89.0h1M354.7 288.9h1M284.5 347.0h1M456.5 177.2h1M288.6 327.6h1M497.2 102.6h1M355.0 274.1h1M371.6 293.0h1M487.5 140.7h1M382.8 247.7h1M380.2 252.5h1M492.2 59.3h1M298.2 340.6h1M491.7 74.7h1M471.7 136.5h1M486.0 117.9h1M488.7 95.1h1M483.3 72.0h1M486.0 100.7h1M460.2 174.6h1M305.8 311.7h1M491.5 58.0h1M337.1 291.1h1M500.7 90.6h1M410.4 258.2h1M468.2 153.7h1M480.7 135.4h1M436.4 220.6h1M498.1 8.0h1M489.1 71.9h1M478.2 146.2h1M485.9 117.7h1M309.1 289.2h1M338.7 282.5h1M474.4 182.2h1M319.0 344.8h1M477.7 83.0h1M478.1 5.1h1M290.5 363.5h1M355.1 283.5h1M441.8 234.8h1M419.6 235.0h1M467.4 99.3h1M287.3 329.3h1M493.4 67.9h1M477.8 34.9h1M492.0 24.5h1M265.7 362.5h1M400.5 227.8h1M476.8 69.2h1M315.0 330.0h1M483.7 40.2h1M332.5 280.1h1M473.8 84.8h1M461.6 174.9h1M421.0 203.6h1M380.7 250.2h1M358.4 251.2h1M321.4 304.3h1M494.0 79.1h1M347.2 289.9h1M435.4 197.5h1M488.7 90.5h1M387.8 261.6h1M355.3 271.2h1M296.9 270.4h1M270.1 326.3h1M446.3 194.6h1M267.1 350.7h1M262.7 301.9h1M392.9 204.9h1M417.0 229.4h1M420.8 262.3h1M410.6 211.6h1M322.8 314.4h1M276.0 350.8h1M346.2 300.7h1M395.8 203.8h1M390.4 309.2h1M294.0 342.6h1M324.8 316.8h1M313.9 308.8h1M307.9 286.3h1M385.3 279.8h1M439.2 162.8h1M355.4 290.7h1M256.3 337.6h1M334.2 347.7h1M474.4 213.8h1M478.4 191.2h1M326.7 273.5h1M395.5 257.8h1M330.6 315.9h1M302.2 310.3h1M297.2 364.4h1M295.5 347.4h1M292.5 323.3h1M339.3 312.4h1M273.0 336.6h1M364.3 276.7h1M289.3 391.4h1M360.1 263.5h1M300.9 356.4h1M303.9 255.3h1M361.4 284.7h1M301.6 311.6h1M309.3 305.2h1M369.1 297.5h1M477.8 66.2h1M278.8 319.6h1M362.7 274.8h1M432.7 253.8h1M529.3 21.7h1M342.1 263.3h1M308.4 358.7h1M341.6 321.2h1M253.3 364.5h1M371.7 246.6h1M316.0 308.7h1M317.0 292.3h1M491.9 129.1h1M426.4 160.7h1M316.4 280.2h1M351.9 290.1h1M317.5 326.7h1M322.1 297.4h1M339.7 264.7h1M334.9 242.3h1M351.5 290.6h1M304.9 278.1h1M322.6 313.2h1M370.0 278.8h1M499.6 99.0h1M506.3 102.9h1M261.9 329.8h1M444.4 261.9h1M323.3 332.2h1M329.8 275.5h1M430.6 184.0h1M406.2 226.7h1M417.8 245.0h1M283.3 364.6h1M319.0 287.1h1M353.3 298.3h1M382.7 247.0h1M357.4 316.7h1M381.0 289.7h1M422.0 244.8h1M298.0 350.1h1M335.8 293.0h1M271.7 351.0h1M318.8 299.7h1M402.9 283.4h1M341.7 274.6h1M453.5 211.4h1M367.6 283.2h1M330.6 313.1h1M348.9 321.1h1M388.1 241.6h1M451.6 201.6h1M313.7 326.3h1M451.8 196.3h1M377.5 268.3h1M345.7 302.6h1M306.9 325.6h1M383.0 257.9h1M422.8 266.9h1M363.9 287.1h1M333.9 305.5h1M296.2 332.2h1M335.0 390.7h1M379.4 325.0h1M382.6 250.4h1M495.4 166.8h1M266.8 358.4h1M339.1 249.1h1M366.1 263.7h1M348.8 276.0h1M345.3 258.2h1M400.2 224.7h1M368.5 282.2h1M350.3 304.2h1M476.5 153.5h1M314.6 332.6h1M335.1 276.7h1M381.8 300.6h1M323.4 283.5h1M489.2 68.6h1M353.1 302.5h1M352.0 263.3h1M334.9 252.1h1M312.7 305.7h1M404.3 190.4h1M348.7 296.6h1M282.2 300.1h1M344.3 299.0h1M344.0 265.3h1M325.3 335.7h1M412.2 232.3h1M438.3 232.9h1M374.4 297.2h1M254.1 336.5h1M301.1 352.3h1M395.3 257.5h1M402.8 288.5h1M352.7 272.4h1M483.7 185.2h1M312.1 297.1h1M355.7 261.6h1M374.9 254.8h1M291.5 353.9h1M330.5 356.3h1M282.3 335.7h1M338.7 321.2h1M296.4 337.5h1M318.7 328.6h1M292.6 328.9h1M433.0 172.2h1M494.0 140.7h1M409.1 255.0h1M399.6 234.3h1M374.3 316.5h1M380.4 286.1h1M268.5 268.0h1M337.2 286.4h1M275.1 289.6h1M457.4 159.9h1M297.3 367.4h1M345.2 272.3h1M422.1 259.1h1M275.0 352.5h1M330.5 289.4h1M392.6 214.3h1M456.3 202.9h1M407.6 278.2h1M297.5 338.4h1M389.4 255.9h1M382.7 260.2h1M392.1 283.1h1M377.2 282.4h1M472.0 205.5h1M309.5 282.9h1M293.4 326.6h1M290.6 290.1h1M349.6 277.2h1M475.8 186.3h1M353.8 275.1h1M359.0 297.2h1M360.1 288.4h1M343.1 279.6h1M405.2 234.1h1M268.5 365.4h1M309.4 287.4h1M382.0 313.4h1M399.1 216.2h1M272.4 324.4h1M425.3 219.7h1M348.8 289.8h1M358.6 267.7h1M500.6 227.0h1M364.4 268.0h1M357.9 297.6h1M359.0 277.7h1M358.3 240.5h1M335.2 362.0h1M384.8 288.5h1M505.0 178.5h1M323.6 339.1h1M358.8 294.7h1M367.3 303.8h1M433.6 211.0h1M307.3 337.7h1M408.6 226.1h1M413.9 207.8h1M337.8 286.7h1M284.9 360.6h1M402.2 201.8h1M334.9 302.9h1M448.2 254.6h1M354.7 295.8h1M464.4 174.7h1M353.9 313.2h1M341.8 275.6h1M348.8 310.0h1M419.2 235.6h1M374.4 206.4h1M433.2 225.1h1M336.8 335.9h1M484.0 113.5h1M373.9 262.0h1M256.4 348.2h1M358.5 303.5h1M375.6 235.4h1M299.6 363.1h1M347.4 257.7h1M326.9 317.5h1M277.5 346.9h1M314.3 288.9h1M295.0 348.3h1M368.5 304.6h1M367.0 267.1h1M396.3 266.3h1M331.7 289.5h1M366.0 302.6h1M392.5 271.9h1M320.8 269.9h1M322.9 318.5h1M255.5 333.6h1M451.9 206.4h1M350.3 267.7h1M359.9 287.9h1M423.9 202.0h1M321.4 337.8h1M408.9 258.4h1M335.8 321.6h1M374.3 273.0h1M369.0 270.5h1M334.4 315.9h1M310.3 353.1h1M373.2 256.8h1M331.7 308.1h1M449.4 166.5h1M323.1 271.2h1M359.4 267.2h1M409.3 271.7h1M395.0 210.5h1M313.6 294.7h1M355.5 267.7h1M262.4 360.5h1M380.8 247.3h1M291.6 330.6h1M376.8 245.4h1M291.6 346.8h1M432.8 236.8h1M321.3 314.2h1M366.7 229.5h1M252.4 322.6h1M480.6 176.1h1M411.1 250.9h1M253.8 327.2h1M318.5 308.3h1M441.2 169.1h1M386.2 277.8h1M398.3 271.8h1M320.0 325.1h1M365.7 292.5h1M329.3 305.7h1M496.9 10.9h1M280.2 316.8h1M366.0 279.8h1M390.9 159.1h1M319.6 308.4h1M365.9 258.4h1M351.0 291.8h1M349.5 303.3h1M366.2 260.7h1M432.0 205.8h1M363.8 255.4h1M390.2 220.9h1M327.8 349.7h1M365.4 278.3h1M399.9 273.0h1M386.7 301.5h1M438.2 188.6h1M373.6 284.5h1M520.3 103.3h1M287.3 328.3h1M398.8 305.8h1M275.8 330.7h1M239.5 342.9h1M305.8 316.0h1M283.2 312.5h1M263.1 343.3h1M402.5 285.9h1M341.4 271.5h1M385.4 301.0h1M405.8 254.2h1M374.5 312.2h1M363.1 255.4h1M344.3 268.1h1M298.7 345.2h1M403.8 237.9h1M257.8 350.6h1M409.7 200.9h1M384.4 228.5h1M256.1 400.4h1M358.0 257.8h1M369.8 265.9h1M305.4 309.9h1M318.7 276.6h1M314.0 337.7h1M373.7 256.2h1M371.0 262.8h1M295.3 361.5h1M452.7 218.4h1M359.1 270.5h1M273.5 355.0h1M369.9 301.2h1M343.0 285.9h1M373.3 310.9h1M383.3 210.8h1M335.0 300.6h1M290.1 386.8h1M438.1 223.0h1M295.3 325.2h1M399.0 290.5h1M358.9 272.8h1M393.6 255.1h1M361.5 251.6h1M339.7 279.1h1M348.3 292.6h1M298.0 345.3h1M303.0 298.3h1M361.1 271.4h1M475.0 150.6h1M354.5 304.1h1M441.3 210.6h1M259.0 373.2h1M346.7 259.7h1M322.8 282.0h1M443.0 221.1h1M284.6 368.7h1M281.9 300.2h1M324.1 288.1h1M367.0 232.4h1M367.9 276.8h1M323.7 307.3h1M319.6 321.6h1M324.6 338.6h1M519.3 14.3h1M350.4 243.8h1M331.0 277.8h1M354.8 295.6h1M352.3 259.0h1M390.7 258.0h1M282.9 355.9h1M372.6 246.2h1M344.1 311.1h1M315.5 276.3h1M290.9 311.5h1M436.9 223.8h1M320.1 358.3h1M281.4 358.0h1M378.2 256.0h1M459.5 214.9h1M378.3 292.1h1M327.2 340.0h1M372.2 275.3h1M305.9 327.6h1M438.4 228.5h1M274.9 353.7h1M317.9 287.1h1M390.1 269.9h1M332.9 288.5h1M439.4 180.0h1M340.3 233.5h1M360.0 233.8h1M299.3 272.2h1M291.5 316.9h1M281.0 381.8h1M328.5 312.4h1M458.3 168.1h1M354.2 243.8h1M448.7 195.4h1M443.4 191.1h1M362.9 348.1h1M395.5 258.3h1M354.1 316.7h1M315.8 267.3h1M424.7 273.7h1M305.7 322.8h1M401.6 235.6h1M289.4 345.9h1M391.7 257.3h1M311.6 313.3h1M322.9 297.2h1M282.8 351.2h1M321.2 328.0h1M308.2 327.0h1M308.3 340.8h1M317.9 339.9h1M388.1 234.9h1M392.7 251.8h1M431.4 217.3h1M334.7 267.9h1M289.6 355.0h1M356.7 247.7h1M322.6 238.7h1M291.2 349.6h1M324.6 335.6h1M376.5 283.4h1M411.6 125.6h1M292.1 331.0h1M311.1 301.6h1M296.4 311.3h1M452.2 232.4h1M351.2 299.8h1M282.4 369.4h1M260.6 304.9h1M370.2 260.6h1M379.3 266.2h1M306.4 306.2h1M317.2 332.9h1M400.4 230.4h1M352.0 341.1h1M360.9 307.6h1M315.8 304.0h1M406.1 215.9h1M316.8 304.4h1M300.8 334.1h1M461.1 232.0h1M390.7 222.6h1M361.7 271.6h1M354.7 287.9h1M451.0 158.9h1M459.9 170.4h1M321.7 319.5h1M397.8 229.6h1M354.1 268.7h1M369.6 224.5h1M386.3 241.7h1M266.4 391.8h1M328.5 306.5h1M309.8 345.6h1M367.1 285.3h1M462.5 181.6h1M340.0 241.9h1M400.1 239.2h1M441.3 218.2h1M299.7 353.1h1M263.5 371.2h1M271.4 360.4h1M424.0 199.7h1M302.4 326.2h1M429.3 226.1h1M278.0 335.0h1M435.0 261.8h1M451.7 225.0h1M412.8 218.1h1M308.8 300.6h1M375.1 246.1h1M438.6 270.5h1M284.0 323.3h1M309.1 305.9h1M298.1 344.1h1M309.5 336.7h1M308.1 318.8h1M311.4 317.7h1M290.8 304.3h1M317.2 326.4h1M289.8 328.4h1M293.8 337.7h1M295.3 302.5h1M307.6 300.6h1M295.0 319.5h1M290.3 328.1h1M308.3 305.9h1M328.9 292.0h1M306.3 312.8h1M341.1 300.1h1M315.4 300.7h1M281.8 327.2h1M313.3 294.3h1M288.8 315.3h1M293.5 322.6h1M295.8 333.8h1M322.7 298.6h1M282.9 335.0h1M302.5 322.7h1M323.4 297.9h1M298.7 334.6h1M303.2 312.2h1M284.1 322.6h1M295.1 323.4h1M323.1 313.5h1M312.3 305.9h1M293.7 311.6h1M304.4 323.1h1M302.9 325.3h1M305.7 303.2h1M312.0 311.0h1M295.4 328.7h1M294.7 334.7h1M297.5 331.4h1M309.4 321.7h1M319.9 323.6h1M313.1 319.6h1M300.0 343.6h1M304.0 307.7h1M321.0 318.4h1M297.8 337.4h1M322.9 320.5h1M302.0 308.9h1M301.4 324.5h1M276.4 331.6h1M297.6 298.6h1M294.6 330.7h1M295.6 308.9h1M310.3 324.8h1M314.1 320.1h1M297.9 336.0h1M294.8 315.1h1M292.0 324.4h1M284.4 323.3h1M308.9 317.1h1M323.8 325.2h1M328.4 310.8h1M276.5 317.2h1M323.4 313.8h1M290.8 330.4h1M298.7 316.4h1M296.5 297.7h1M296.1 294.9h1M325.5 307.1h1M289.6 336.5h1M296.6 308.3h1M295.0 348.7h1M310.8 315.7h1M276.2 309.1h1M289.6 331.3h1M301.3 302.9h1M320.4 311.6h1M274.1 316.7h1M323.8 319.0h1M303.8 335.2h1M298.7 324.0h1M309.5 304.6h1M291.3 331.9h1M322.2 320.4h1M288.4 320.2h1M297.3 346.9h1M304.1 343.0h1M294.6 332.6h1M324.1 297.1h1M315.0 344.1h1M343.7 315.8h1M296.4 332.7h1M300.5 317.8h1M315.8 339.9h1M285.2 330.3h1M303.3 316.5h1M305.4 326.5h1M312.0 304.7h1M305.6 337.3h1M311.7 321.3h1M316.5 316.9h1M261.7 316.9h1M301.8 299.6h1M305.2 309.8h1M278.0 328.1h1M301.5 332.8h1M322.4 322.4h1M306.7 302.9h1M289.9 317.8h1M293.3 299.7h1M316.2 313.6h1M333.8 306.2h1M316.4 330.6h1M303.2 293.6h1M289.6 302.9h1M300.4 325.8h1M301.5 316.2h1M304.8 336.7h1M301.8 326.2h1M273.4 357.1h1M284.3 339.2h1M324.0 312.5h1M253.6 351.9h1M309.7 317.6h1M305.9 336.5h1M304.5 314.9h1M342.9 305.6h1M327.4 310.0h1M290.5 326.7h1M318.2 290.0h1M298.3 320.0h1M285.4 328.8h1M318.2 310.1h1M309.9 328.7h1M320.5 293.6h1M333.8 285.7h1M309.7 302.3h1M309.8 304.5h1M314.0 339.7h1M312.9 308.5h1M290.4 313.8h1M309.3 304.8h1M300.5 330.6h1M301.8 323.3h1M286.9 347.7h1M275.6 325.1h1M286.5 325.5h1M289.8 335.9h1M311.9 315.9h1M322.4 333.1h1M302.3 335.0h1M310.4 328.5h1M284.7 326.5h1M292.4 325.4h1M300.6 318.4h1M288.5 299.6h1M307.5 323.0h1M324.0 320.1h1M304.1 315.3h1M311.9 326.1h1M303.8 319.7h1M301.6 303.9h1M305.8 319.3h1M313.7 322.0h1M301.7 319.1h1M313.2 316.0h1M306.1 312.7h1M305.7 335.8h1M289.5 348.4h1M310.5 325.2h1M311.1 335.5h1M298.3 323.3h1M295.8 338.3h1M276.5 349.2h1M302.5 299.2h1M295.9 306.1h1M293.8 331.8h1M313.0 296.4h1M288.2 333.1h1M303.7 309.0h1M269.2 343.4h1M302.9 303.3h1M306.4 310.8h1M323.3 310.9h1M284.8 311.0h1M308.9 319.5h1M317.2 316.7h1M310.5 308.6h1M291.2 309.8h1M311.8 329.8h1M288.1 331.4h1M293.5 340.8h1M304.5 307.9h1M282.6 312.7h1M278.6 311.4h1M292.4 311.2h1M324.2 306.0h1M316.7 321.8h1M299.5 318.4h1M290.9 317.0h1M309.4 340.2h1M310.8 309.0h1M294.2 342.2h1M314.6 293.8h1M313.6 290.5h1M321.4 307.6h1M326.3 314.8h1M305.1 297.7h1M309.1 334.5h1M289.3 323.8h1M304.8 326.7h1M300.1 334.0h1M285.3 319.7h1M308.8 315.3h1M303.1 316.2h1M290.8 323.4h1M318.2 310.8h1M306.7 328.6h1M327.3 302.6h1M325.6 321.3h1M301.9 329.5h1M300.1 325.5h1M298.6 305.4h1M286.0 348.6h1M320.0 287.1h1M298.1 318.3h1M302.1 338.0h1M336.9 300.6h1M312.9 328.6h1M310.6 311.7h1M322.7 322.1h1M289.5 333.7h1M308.1 290.0h1M325.6 317.8h1M309.7 306.8h1M305.7 319.1h1M294.5 331.5h1M304.5 319.0h1M286.4 319.1h1M321.8 288.7h1M315.3 317.5h1M291.2 331.4h1M300.8 320.7h1M291.2 320.1h1M307.3 328.6h1M310.1 328.0h1M284.9 314.3h1M279.3 324.9h1M280.8 344.4h1M317.2 313.5h1M293.7 313.4h1M315.3 306.2h1M273.4 333.5h1M308.5 288.9h1M300.8 340.1h1M301.6 321.4h1M303.2 320.9h1M303.7 300.2h1M308.7 321.9h1M317.4 309.3h1M302.3 331.7h1M305.4 305.1h1M292.5 306.4h1M294.0 328.7h1M300.6 330.1h1M304.9 321.0h1M281.3 326.2h1M320.5 300.7h1M309.6 313.9h1M300.6 304.5h1M303.6 330.9h1M308.3 304.8h1M345.4 287.3h1M300.2 328.5h1M318.6 317.8h1M308.6 299.5h1M321.9 321.7h1M275.6 340.3h1M301.4 330.9h1M324.7 324.0h1M299.2 329.8h1M295.2 340.8h1M290.3 305.6h1M315.2 312.5h1M286.3 329.2h1M317.5 310.5h1M303.6 313.8h1M298.5 337.0h1M288.2 325.7h1M295.0 335.5h1M326.9 298.2h1M322.6 302.8h1M314.0 313.3h1M296.2 309.7h1M306.1 341.2h1M311.2 314.1h1M312.5 298.7h1M290.0 304.0h1M279.4 315.0h1M290.2 311.0h1M301.4 309.8h1M297.7 334.4h1M282.2 321.2h1M313.0 323.5h1M307.9 338.4h1M318.1 295.6h1M302.5 289.3h1M298.2 301.6h1M289.9 328.0h1M326.6 320.8h1M292.0 314.6h1M290.4 341.9h1M286.3 332.9h1M299.0 316.0h1M275.7 315.9h1M295.2 318.0h1M295.6 299.4h1M299.0 320.4h1M310.0 333.7h1M316.1 325.5h1M304.8 314.5h1M301.5 301.2h1M311.3 324.6h1M326.0 319.6h1M303.7 343.3h1M320.9 301.8h1M304.7 314.7h1M321.3 307.3h1M287.2 318.7h1M317.1 311.2h1M315.3 310.8h1M313.3 300.5h1M299.7 332.8h1M291.1 308.1h1M291.8 331.2h1M313.2 315.7h1M300.7 334.9h1M313.2 313.5h1M298.9 306.7h1M315.0 308.1h1M281.9 319.8h1M312.7 322.4h1M301.0 312.8h1M295.9 332.8h1M315.4 330.4h1M302.6 306.1h1M331.2 314.6h1M297.1 318.6h1M297.7 308.7h1M311.6 320.1h1M311.8 326.7h1M299.1 340.8h1M297.0 330.7h1M311.0 327.3h1M294.7 315.1h1M304.8 306.3h1M289.3 311.7h1M300.2 320.5h1M309.8 301.0h1M316.4 317.6h1M338.3 317.1h1M319.9 301.6h1M321.5 304.7h1M309.2 332.3h1M310.6 327.3h1M308.7 314.0h1M301.1 308.8h1M302.8 315.1h1M315.4 324.6h1M302.5 328.0h1M312.8 320.4h1M286.4 321.6h1M306.7 326.1h1M281.5 330.0h1M324.8 310.9h1M300.7 320.6h1M304.0 313.7h1M317.1 310.2h1M305.6 309.5h1M316.7 318.2h1M310.2 293.9h1M310.9 306.3h1M292.0 310.2h1M349.0 328.3h1M270.2 327.5h1M301.5 336.7h1M308.3 324.3h1M282.1 320.2h1M325.3 317.0h1M310.2 319.5h1M315.4 306.5h1M306.9 318.4h1M281.6 321.8h1M304.2 311.8h1M280.5 346.8h1M297.1 321.3h1M316.0 312.1h1M296.3 311.8h1M309.2 315.2h1M325.7 332.5h1M322.6 322.2h1M310.9 320.6h1M315.1 319.8h1M313.3 305.8h1M309.5 330.0h1M300.2 336.1h1M329.8 297.8h1M330.0 328.2h1M315.0 304.2h1M288.1 335.8h1M332.1 309.5h1M296.2 340.4h1M310.1 313.3h1M302.4 289.0h1M312.6 307.5h1M318.6 326.7h1M319.1 317.1h1M299.2 325.9h1M287.5 332.7h1M320.6 309.7h1M314.6 318.0h1M311.5 315.6h1M312.5 326.4h1M291.8 316.1h1M309.2 313.8h1M295.9 325.1h1M286.1 311.1h1M291.8 324.6h1M318.0 296.6h1M298.9 326.2h1M300.3 343.2h1M305.3 315.7h1M293.6 324.8h1M315.5 343.5h1M307.4 312.3h1M309.1 330.5h1M319.0 309.0h1M293.8 319.3h1M306.8 319.6h1M312.7 311.4h1M315.4 329.3h1M327.8 301.2h1M290.3 328.5h1M315.8 303.9h1M314.6 321.1h1M286.1 336.7h1M285.5 322.6h1M291.4 327.8h1M278.7 310.7h1M323.2 304.5h1M315.8 311.0h1M301.0 316.4h1M303.4 309.6h1M323.8 319.1h1M298.0 327.8h1M300.1 301.2h1M314.5 333.1h1M298.5 316.6h1M294.8 308.3h1M301.9 329.5h1M324.0 285.7h1M307.3 313.2h1M305.8 320.5h1M293.6 304.2h1M290.8 332.2h1M338.6 293.2h1M303.8 310.9h1M310.5 318.3h1M326.5 300.7h1M288.2 320.1h1M305.4 311.8h1M313.0 311.6h1M309.2 326.7h1M285.7 305.6h1M297.3 346.5h1M294.9 320.1h1M287.8 328.9h1M331.7 317.6h1M306.7 322.6h1M279.1 310.7h1M284.5 299.6h1M334.2 275.2h1M332.4 289.4h1M311.8 301.3h1M296.9 315.7h1M309.1 334.9h1M319.4 317.4h1M308.8 340.3h1M297.4 312.8h1M308.4 319.2h1M302.6 322.1h1M299.9 293.3h1M298.6 327.4h1M295.8 311.9h1M299.0 305.7h1M278.4 328.8h1M303.4 307.9h1M309.0 303.1h1M291.1 343.6h1M284.6 309.9h1M311.1 318.0h1M295.2 319.8h1M309.6 312.9h1M331.1 321.7h1M288.6 326.2h1M283.7 323.9h1M274.0 333.7h1M314.5 311.1h1M300.0 312.4h1M323.1 324.6h1M293.1 340.8h1M294.6 335.3h1M314.2 306.4h1M305.4 324.6h1M318.1 318.9h1M301.3 313.4h1M288.6 317.3h1M313.8 319.0h1M321.6 332.2h1M314.7 324.6h1M310.2 316.5h1M320.0 313.9h1M308.1 311.3h1M323.9 313.3h1M320.8 306.0h1M278.3 337.5h1M396.2 3.6h1M455.9 4.4h1M434.9 9.1h1M397.2 11.3h1M346.3 16.9h1M314.3 21.7h1M456.8 21.5h1M329.8 22.5h1M591.3 22.8h1M409.6 28.2h1M254.5 30.4h1M432.2 31.5h1M470.3 31.6h1M268.6 36.3h1M576.4 35.3h1M194.8 44.3h1M306.9 42.3h1M309.1 44.1h1M390.8 45.5h1M494.4 43.0h1M517.1 45.3h1M283.6 48.5h1M333.2 46.7h1M516.5 49.0h1M549.8 47.2h1M517.6 51.2h1M279.5 56.9h1M286.5 55.6h1M302.3 57.9h1M428.8 54.0h1M465.3 58.0h1M569.4 55.0h1M366.7 59.2h1M487.0 61.1h1M233.0 64.3h1M277.6 65.1h1M281.3 64.1h1M345.8 63.4h1M396.2 62.9h1M397.2 63.9h1M465.1 63.0h1M330.7 67.9h1M417.0 68.9h1M267.4 73.4h1M352.5 71.4h1M289.5 76.7h1M304.3 77.0h1M326.8 77.5h1M381.5 75.9h1M400.9 74.9h1M362.1 80.4h1M385.7 79.6h1M568.5 79.0h1M223.2 83.9h1M332.5 84.8h1M386.9 84.2h1M563.3 85.1h1M257.7 88.3h1M330.3 86.8h1M371.8 86.3h1M374.9 88.0h1M245.2 93.7h1M313.6 92.4h1M336.2 91.5h1M343.0 93.8h1M365.5 90.6h1M543.5 90.9h1M226.3 97.2h1M409.6 95.0h1M212.4 99.6h1M243.7 98.5h1M251.8 100.7h1M258.7 98.9h1M579.7 99.4h1M187.0 104.3h1M216.3 104.2h1M262.1 104.8h1M269.9 106.0h1M272.2 105.1h1M275.5 104.7h1M314.5 104.3h1M394.9 105.5h1M527.6 102.8h1M268.6 108.4h1M271.7 108.7h1M449.7 108.8h1M260.4 111.3h1M290.5 112.8h1M397.6 113.8h1M430.9 110.4h1M460.3 111.6h1M217.6 115.0h1M225.5 114.9h1M229.0 114.8h1M239.5 114.9h1M336.4 114.4h1M342.9 115.9h1M359.0 115.6h1M386.5 115.1h1M425.2 114.1h1M488.8 117.8h1M521.8 115.4h1M261.9 119.1h1M310.4 121.8h1M336.5 118.8h1M359.4 120.9h1M427.3 121.5h1M214.8 125.3h1M293.3 124.4h1M328.6 124.7h1M460.5 122.4h1M578.2 122.4h1M180.4 129.1h1M209.2 129.0h1M241.8 129.6h1M284.6 126.1h1M284.9 126.8h1M316.0 126.3h1M314.9 129.5h1M350.6 127.5h1M414.9 129.9h1M417.1 129.2h1M486.8 129.7h1M173.9 133.9h1M206.9 133.9h1M235.5 132.6h1M247.1 133.0h1M273.8 130.7h1M308.3 130.8h1M367.3 130.9h1M406.0 131.8h1M533.4 132.6h1M201.9 134.9h1M275.4 135.6h1M315.1 134.6h1M344.6 137.0h1M343.9 134.7h1M343.7 137.5h1M345.9 134.8h1M225.2 141.6h1M226.8 138.8h1M242.6 139.0h1M295.8 139.6h1M366.8 138.6h1M258.0 145.1h1M335.4 143.1h1M337.6 144.2h1M360.0 143.7h1M395.8 142.7h1M458.4 145.2h1M467.4 145.3h1M473.3 145.5h1M549.2 142.4h1M202.9 147.0h1M259.6 149.8h1M358.8 146.6h1M363.6 146.8h1M396.5 147.8h1M189.9 150.2h1M236.8 150.3h1M275.4 153.9h1M307.5 150.1h1M319.2 152.2h1M387.3 150.8h1M394.8 151.6h1M405.2 153.0h1M541.3 152.6h1M218.1 157.2h1M276.7 154.4h1M277.6 155.4h1M283.1 156.8h1M300.6 155.4h1M305.1 155.9h1M398.2 155.5h1M445.6 157.0h1M192.8 161.3h1M200.6 160.8h1M220.8 161.5h1M275.8 159.0h1M274.9 160.9h1M299.7 161.6h1M397.5 159.6h1M412.9 161.9h1M558.6 159.1h1M202.0 164.8h1M293.7 164.9h1M300.4 162.2h1M298.2 163.5h1M311.6 165.0h1M322.2 162.7h1M330.4 164.7h1M370.5 164.7h1M373.9 163.3h1M487.2 164.3h1M247.3 167.9h1M293.2 168.6h1M293.8 169.3h1M310.0 169.9h1M343.0 167.0h1M355.0 169.5h1M413.3 168.9h1M502.4 167.8h1M564.1 167.3h1M208.9 170.1h1M250.0 170.9h1M256.6 170.4h1M282.5 170.3h1M295.0 173.1h1M319.5 172.8h1M332.2 172.1h1M362.3 172.7h1M366.5 171.0h1M381.8 171.8h1M392.3 170.5h1M399.4 173.7h1M408.6 170.4h1M430.4 171.1h1M452.4 173.1h1M161.7 177.8h1M229.2 175.7h1M250.0 176.4h1M272.3 174.8h1M306.9 177.6h1M312.6 176.2h1M313.5 176.2h1M319.3 176.5h1M352.3 176.7h1M358.1 174.5h1M370.2 177.3h1M419.0 177.2h1M490.0 177.4h1M266.3 178.8h1M274.2 179.2h1M279.1 182.0h1M315.2 178.4h1M338.6 178.4h1M367.2 180.7h1M383.4 180.4h1M391.9 182.0h1M403.8 178.4h1M423.6 181.5h1M212.1 184.7h1M215.4 185.7h1M271.3 184.8h1M276.4 183.9h1M299.3 182.5h1M301.7 182.4h1M315.6 185.3h1M323.9 183.7h1M355.7 185.7h1M369.1 183.0h1M370.6 182.5h1M439.6 184.9h1M481.0 184.4h1M494.3 182.2h1M268.2 189.4h1M278.7 186.1h1M301.6 189.8h1M308.8 189.7h1M362.0 189.2h1M366.0 186.9h1M392.3 189.0h1M398.2 189.0h1M485.4 188.0h1M545.0 189.6h1M149.6 192.2h1M208.7 192.0h1M206.2 192.4h1M224.1 193.8h1M262.3 191.2h1M315.4 191.1h1M330.2 193.9h1M351.4 192.3h1M384.3 193.0h1M393.4 190.2h1M494.8 191.2h1M502.9 192.9h1M179.7 194.3h1M191.0 197.0h1M206.0 196.1h1M225.1 196.2h1M271.9 195.9h1M302.8 197.8h1M315.2 196.3h1M330.8 197.2h1M354.6 195.5h1M382.0 197.5h1M407.2 197.2h1M461.0 194.7h1M503.9 196.2h1M114.0 199.6h1M149.3 201.1h1M191.4 201.3h1M197.8 198.5h1M231.7 201.8h1M259.1 198.9h1M286.6 200.2h1M291.0 199.9h1M320.4 198.8h1M321.0 200.8h1M328.4 198.1h1M390.1 198.3h1M402.6 198.7h1M413.6 201.1h1M427.7 198.3h1M432.9 198.3h1M512.0 199.9h1M174.5 204.6h1M254.3 202.9h1M266.3 205.8h1M270.9 204.5h1M269.9 205.1h1M277.7 205.7h1M284.4 204.6h1M288.0 202.8h1M292.1 202.4h1M296.4 202.6h1M304.4 206.0h1M301.1 202.3h1M327.8 203.9h1M333.7 205.9h1M346.2 202.4h1M389.1 204.0h1M404.6 202.1h1M405.5 202.8h1M430.6 205.8h1M458.9 204.2h1M485.8 202.2h1M517.7 203.3h1M197.4 209.6h1M207.7 207.7h1M229.5 209.1h1M249.1 206.2h1M280.0 206.2h1M288.1 207.4h1M299.9 208.8h1M310.3 208.9h1M317.2 206.5h1M356.8 208.9h1M363.8 209.6h1M374.3 207.4h1M388.4 207.7h1M386.8 207.7h1M399.5 209.8h1M527.5 208.1h1M156.4 213.9h1M189.6 211.7h1M211.5 210.4h1M261.9 211.7h1M278.9 211.1h1M289.8 213.9h1M294.3 211.8h1M297.8 213.8h1M297.8 213.4h1M299.8 211.1h1M305.2 211.7h1M313.8 212.3h1M378.4 211.4h1M397.0 211.9h1M406.6 212.0h1M422.2 213.3h1M444.7 212.3h1M477.1 212.2h1M239.4 214.0h1M239.2 216.8h1M260.3 217.8h1M271.8 216.4h1M295.4 217.7h1M310.3 214.6h1M327.5 216.9h1M362.0 216.6h1M371.8 217.7h1M371.0 215.9h1M399.6 217.9h1M408.4 217.3h1M419.0 214.6h1M419.2 214.3h1M419.6 215.1h1M449.8 215.8h1M454.7 217.3h1M163.3 219.9h1M209.7 219.6h1M225.7 221.1h1M245.1 220.4h1M260.2 220.3h1M261.0 219.5h1M292.2 218.8h1M295.6 220.4h1M295.9 220.3h1M304.7 218.4h1M302.9 218.3h1M315.3 220.5h1M319.9 219.4h1M317.6 220.4h1M330.5 220.1h1M337.2 221.1h1M343.4 218.1h1M357.2 220.7h1M377.3 221.7h1M380.2 220.8h1M385.6 220.4h1M396.9 220.2h1M417.6 219.1h1M532.9 219.3h1M158.1 224.6h1M167.9 223.3h1M181.0 224.0h1M330.5 223.3h1M331.5 222.2h1M330.8 222.4h1M342.0 223.5h1M369.0 223.3h1M383.3 225.4h1M406.8 222.9h1M426.8 225.8h1M434.2 223.4h1M207.0 228.0h1M213.3 226.6h1M234.0 229.2h1M270.4 227.1h1M280.6 229.6h1M293.1 226.6h1M293.9 227.0h1M308.4 228.8h1M360.4 226.6h1M408.4 227.7h1M407.8 227.1h1M496.9 228.9h1M525.9 227.7h1M176.0 230.0h1M235.0 231.0h1M257.1 230.5h1M262.5 233.9h1M271.6 232.5h1M315.1 232.1h1M336.2 230.1h1M343.8 231.2h1M354.1 231.5h1M363.1 233.8h1M371.0 232.1h1M383.4 231.0h1M386.8 230.7h1M394.3 232.5h1M399.3 231.4h1M444.9 230.1h1M114.5 236.9h1M185.3 235.9h1M241.0 234.7h1M261.0 236.2h1M266.5 234.7h1M269.6 234.8h1M278.0 234.3h1M282.8 235.2h1M288.4 236.6h1M286.3 236.9h1M292.7 236.3h1M290.8 236.3h1M312.5 234.5h1M311.6 237.7h1M341.7 234.1h1M376.1 234.6h1M384.8 236.4h1M399.7 234.8h1M408.2 234.9h1M413.6 237.9h1M413.6 235.5h1M420.5 234.2h1M475.7 236.4h1M526.1 236.6h1M191.0 238.2h1M272.2 240.7h1M297.9 238.0h1M312.9 241.6h1M313.9 239.0h1M316.4 239.6h1M341.6 238.7h1M368.5 238.4h1M415.0 239.3h1M184.8 243.6h1M203.9 246.0h1M210.8 244.2h1M228.8 242.2h1M237.9 246.0h1M246.6 245.4h1M259.9 242.1h1M260.9 245.4h1M260.4 245.3h1M309.3 242.9h1M340.4 244.0h1M342.7 243.8h1M383.4 243.7h1M385.5 242.6h1M419.8 242.0h1M425.4 243.1h1M230.8 246.6h1M250.1 246.5h1M254.8 248.6h1M258.7 248.6h1M277.8 247.3h1M288.7 246.6h1M305.0 248.2h1M313.9 247.9h1M322.2 246.0h1M325.8 248.4h1M360.7 249.1h1M363.6 249.8h1M368.1 249.8h1M433.9 247.1h1M190.9 252.3h1M228.9 253.3h1M236.3 250.6h1M248.6 253.1h1M256.5 251.4h1M275.5 251.7h1M282.9 253.2h1M287.0 252.3h1M296.6 253.3h1M328.4 253.0h1M335.0 252.8h1M351.7 250.9h1M355.2 252.6h1M379.3 250.8h1M415.0 251.0h1M418.2 252.1h1M446.1 252.4h1M231.2 256.5h1M242.4 255.1h1M258.4 254.8h1M279.3 255.7h1M290.3 257.2h1M305.4 254.2h1M307.4 256.2h1M328.4 254.3h1M331.5 254.9h1M365.5 256.1h1M376.1 254.4h1M465.2 257.5h1M158.7 259.6h1M228.1 260.9h1M231.7 260.7h1M260.8 259.7h1M272.2 258.7h1M279.8 261.8h1M300.4 261.0h1M309.8 259.3h1M322.1 261.2h1M355.1 262.0h1M385.6 260.1h1M396.0 258.7h1M480.6 261.5h1M191.4 264.5h1M241.8 264.2h1M258.7 265.5h1M258.1 264.3h1M257.2 265.7h1M274.7 264.6h1M288.5 265.9h1M286.9 265.7h1M299.5 264.2h1M299.9 265.4h1M304.0 265.4h1M313.6 265.2h1M319.6 263.0h1M324.1 265.7h1M335.0 264.2h1M360.8 264.8h1M403.5 264.8h1M421.0 264.7h1M450.2 263.5h1M253.6 269.0h1M259.1 266.9h1M263.9 267.7h1M268.1 266.7h1M285.6 267.3h1M322.8 267.1h1M326.5 269.8h1M350.8 269.5h1M353.5 269.6h1M353.8 267.8h1M388.9 266.3h1M388.1 266.2h1M416.2 266.5h1M451.3 267.5h1M455.7 266.4h1M467.3 267.0h1M184.7 272.3h1M191.6 273.8h1M210.2 270.8h1M228.5 273.0h1M264.0 273.3h1M274.8 273.8h1M307.0 271.2h1M305.8 270.0h1M314.0 273.8h1M320.5 271.6h1M319.5 273.6h1M318.0 270.1h1M317.3 273.6h1M327.2 271.3h1M332.9 273.3h1M334.4 271.6h1M382.8 271.1h1M397.0 273.1h1M409.2 270.0h1M459.1 273.1h1M508.9 271.4h1M563.9 271.6h1M228.6 277.4h1M228.2 277.6h1M251.8 277.3h1M254.9 275.6h1M293.6 276.0h1M298.1 277.8h1M315.4 277.5h1M327.9 277.2h1M338.2 277.4h1M376.9 275.6h1M420.2 274.4h1M450.4 274.4h1M457.4 275.2h1M461.0 276.3h1M470.9 274.6h1M91.4 281.3h1M187.7 279.3h1M228.5 279.4h1M226.6 280.1h1M230.7 279.0h1M229.5 279.4h1M262.5 278.4h1M277.3 279.1h1M284.0 279.7h1M294.7 280.6h1M319.6 280.3h1M322.1 281.0h1M346.0 282.0h1M350.8 278.2h1M378.4 279.3h1M382.6 279.0h1M400.7 278.1h1M255.5 285.6h1M255.1 285.7h1M264.3 284.5h1M264.3 285.6h1M261.3 285.0h1M261.2 285.0h1M276.1 282.3h1M277.7 283.6h1M278.1 284.1h1M293.0 283.8h1M302.5 285.0h1M303.0 285.3h1M317.1 284.1h1M344.8 284.8h1M346.8 284.2h1M353.3 285.6h1M358.6 283.3h1M357.2 282.3h1M381.9 283.8h1M388.0 283.6h1M404.6 285.8h1M142.2 286.6h1M204.6 288.6h1M226.3 289.6h1M234.1 289.2h1M257.6 288.1h1M271.2 288.4h1M303.9 287.7h1M325.2 289.6h1M331.7 288.4h1M337.0 287.0h1M360.9 287.5h1M410.5 287.3h1M432.7 287.7h1M217.4 290.7h1M222.4 293.8h1M239.6 292.3h1M256.8 292.6h1M264.0 290.9h1M292.9 290.6h1M295.6 293.5h1M304.7 291.6h1M308.2 292.7h1M316.7 290.5h1M338.7 293.5h1M341.5 293.9h1M354.5 293.5h1M375.9 293.6h1M418.6 292.9h1M451.2 291.5h1M184.9 297.9h1M230.4 297.2h1M251.4 295.6h1M266.5 297.1h1M276.0 296.4h1M273.1 296.5h1M275.6 294.2h1M282.2 296.3h1M293.0 296.7h1M308.5 295.5h1M322.6 296.7h1M351.3 296.9h1M357.9 295.8h1M375.5 295.7h1M387.9 296.5h1M393.6 296.3h1M409.9 294.8h1M424.1 297.8h1M426.5 295.5h1M465.2 294.7h1M222.7 301.5h1M222.3 301.0h1M234.2 301.8h1M239.0 301.0h1M247.8 300.6h1M259.3 299.2h1M270.0 301.0h1M271.9 299.7h1M275.0 301.0h1M273.2 298.6h1M273.4 299.5h1M291.6 299.0h1M315.6 300.5h1M330.1 300.0h1M359.0 299.4h1M367.6 300.9h1M460.2 299.6h1M162.5 304.0h1M237.1 305.6h1M237.1 302.3h1M242.3 303.2h1M249.1 304.4h1M254.6 302.1h1M258.8 304.9h1M284.5 303.4h1M284.8 304.4h1M325.3 305.6h1M337.5 303.3h1M342.5 302.5h1M367.5 304.6h1M403.3 302.4h1M401.3 303.9h1M401.9 304.8h1M201.6 306.3h1M226.1 306.1h1M231.2 308.0h1M241.7 308.3h1M241.5 306.0h1M252.9 308.1h1M250.7 306.4h1M271.1 309.7h1M270.4 309.8h1M270.0 307.2h1M280.9 308.5h1M300.7 308.1h1M319.1 306.0h1M358.5 306.9h1M383.8 307.8h1M410.9 306.7h1M450.8 306.5h1M198.4 312.1h1M206.7 312.3h1M205.3 312.8h1M219.2 310.5h1M264.1 311.1h1M270.9 312.8h1M281.3 311.5h1M307.3 310.1h1M313.8 311.8h1M342.4 313.5h1M353.9 313.2h1M363.1 313.9h1M405.6 312.9h1M415.8 311.0h1M438.7 313.3h1M439.9 311.1h1M192.3 316.0h1M236.7 315.8h1M236.7 316.4h1M240.8 317.3h1M248.5 317.0h1M287.0 318.0h1M294.2 317.3h1M332.1 315.6h1M379.7 315.5h1M379.4 316.0h1M419.3 316.9h1M422.9 317.0h1M468.0 314.3h1M200.6 320.1h1M227.1 318.7h1M240.5 318.3h1M256.2 319.6h1M260.0 320.6h1M263.2 318.4h1M270.3 321.4h1M286.9 320.5h1M288.0 319.6h1M306.6 319.2h1M321.1 321.9h1M349.8 318.4h1M353.3 319.1h1M383.3 320.4h1M388.1 319.4h1M410.5 320.2h1M439.3 318.1h1M219.1 322.6h1M219.6 323.7h1M223.3 322.3h1M254.5 324.3h1M286.5 324.6h1M310.0 322.9h1M335.8 322.0h1M360.7 322.8h1M359.7 323.1h1M404.1 322.9h1M430.9 325.8h1M209.5 329.4h1M213.2 326.0h1M241.0 329.4h1M252.1 329.0h1M253.9 327.2h1M264.2 328.1h1M305.3 328.7h1M311.0 326.7h1M320.7 328.6h1M331.7 327.8h1M356.7 327.4h1M364.2 329.0h1M365.5 328.8h1M383.4 328.6h1M397.4 327.9h1M429.0 329.2h1M446.7 327.9h1M189.6 332.9h1M200.7 333.6h1M221.1 332.4h1M225.4 330.8h1M252.6 332.2h1M253.0 332.2h1M279.3 333.7h1M287.5 331.0h1M290.1 330.5h1M305.6 331.5h1M356.1 332.3h1M373.8 333.6h1M379.8 331.3h1M203.4 334.6h1M205.9 337.2h1M214.3 335.6h1M236.5 336.4h1M246.2 334.3h1M248.0 336.9h1M307.4 337.0h1M311.9 335.0h1M321.2 334.9h1M333.0 336.6h1M337.5 335.4h1M342.2 337.5h1M382.9 335.0h1M394.1 336.2h1M405.7 334.7h1M431.9 335.9h1M90.0 339.2h1M260.3 339.4h1M291.8 339.0h1M298.8 341.7h1M297.8 338.4h1M313.3 338.0h1M353.2 339.8h1M414.9 341.5h1M420.0 341.5h1M550.0 340.5h1M200.2 345.6h1M198.2 343.1h1M207.1 342.9h1M212.7 345.0h1M217.2 343.2h1M230.5 342.5h1M260.5 342.9h1M261.0 342.0h1M274.5 345.8h1M306.2 346.0h1M311.1 342.5h1M327.3 342.3h1M336.0 343.5h1M360.5 344.4h1M379.1 343.0h1M384.3 343.1h1M412.3 343.3h1M449.8 345.7h1M487.0 342.9h1M229.5 348.2h1M250.3 348.6h1M259.5 347.0h1M266.5 347.6h1M270.3 347.7h1M282.4 348.9h1M297.1 346.4h1M303.5 347.9h1M355.4 348.5h1M361.3 347.6h1M374.2 347.6h1M389.0 347.0h1M420.7 349.7h1M419.9 347.6h1M207.6 351.8h1M242.1 351.1h1M248.4 353.6h1M245.9 354.0h1M284.6 352.4h1M301.4 350.1h1M303.5 353.4h1M326.1 353.3h1M361.2 351.7h1M366.7 353.4h1M232.9 355.3h1M235.3 357.3h1M247.2 356.9h1M250.7 357.4h1M266.5 355.6h1M280.1 356.3h1M288.6 354.8h1M286.8 357.3h1M304.7 355.8h1M319.7 356.7h1M323.2 354.1h1M372.2 356.7h1M383.9 355.0h1M390.5 357.0h1M406.6 355.7h1M410.2 355.6h1M417.0 356.3h1M468.5 355.5h1M239.1 360.5h1M239.3 361.1h1M268.0 361.2h1M288.3 358.7h1M289.5 361.3h1M319.8 361.3h1M363.4 359.2h1M374.7 360.8h1M207.1 362.3h1M222.9 365.0h1M241.8 362.9h1M251.3 363.9h1M266.7 364.7h1M280.9 362.6h1M290.4 362.3h1M323.6 363.9h1M386.9 366.0h1M416.0 362.6h1M202.8 367.2h1M222.0 368.9h1M243.1 366.6h1M250.4 366.4h1M260.4 367.4h1M305.1 369.9h1M323.9 366.2h1M341.0 369.8h1M353.1 367.1h1M361.2 367.7h1M232.5 373.2h1M267.9 372.4h1M271.9 373.5h1M309.2 372.0h1M323.2 372.6h1M328.8 372.0h1M331.8 371.4h1M381.6 373.0h1M461.5 371.7h1M193.6 375.0h1M211.2 375.3h1M242.7 375.2h1M256.6 376.2h1M265.5 374.8h1M270.1 374.2h1M275.4 377.3h1M290.4 375.8h1M349.1 377.6h1M367.6 376.8h1M411.0 376.7h1M552.8 375.1h1M232.5 379.9h1M242.2 379.0h1M275.7 381.8h1M276.3 380.8h1M353.0 378.9h1M370.7 381.5h1M369.9 379.4h1M468.4 378.9h1M174.2 382.4h1M204.7 384.6h1M211.6 384.1h1M237.9 384.4h1M262.0 384.9h1M262.7 383.2h1M272.1 382.9h1M284.2 382.6h1M410.4 382.7h1M242.2 389.2h1M249.1 387.5h1M278.1 387.3h1M284.1 387.3h1M373.9 386.7h1M377.6 386.9h1M236.9 393.4h1M256.4 392.8h1M304.2 390.3h1M301.7 392.5h1M314.2 391.4h1M313.1 391.8h1M333.8 391.5h1M399.9 392.3h1M89.5 395.7h1M245.6 396.0h1M211.1 398.0h1M238.2 401.4h1M266.6 400.7h1M267.7 401.9h1M288.5 399.3h1M293.0 401.3h1M327.4 401.5h1M318.8 405.0h1M498.1 404.4h1M212.3 408.2h1M225.9 407.1h1M240.5 406.9h1M292.2 407.0h1M309.7 408.6h1M355.7 406.4h1M442.6 407.3h1M474.9 409.8h1M114.1 410.8h1M172.5 411.2h1M213.8 413.4h1M265.1 410.0h1M275.3 413.2h1M350.0 410.4h1M252.5 417.0h1M304.6 416.8h1M304.5 415.0h1M330.8 415.2h1M380.4 414.8h1M260.1 420.4h1M264.9 418.0h1M272.5 419.4h1M271.6 421.3h1M294.0 421.9h1M299.7 418.6h1M316.0 421.6h1M357.2 418.4h1M273.7 425.3h1M282.7 423.9h1M311.6 422.4h1M339.0 425.8h1M165.0 427.0h1M365.9 427.6h1M440.6 428.0h1M235.8 431.0h1M241.9 432.7h1M249.5 432.0h1M283.9 433.4h1M307.4 432.3h1M315.5 431.4h1M313.3 430.0h1M380.4 433.4h1M208.9 436.2h1M214.9 436.9h1M249.0 437.6h1M272.0 437.2h1M280.3 435.9h1M299.5 435.3h1M311.7 437.4h1M312.8 437.4h1M490.2 435.7h1M225.5 440.6h1M308.4 440.6h1M62.0 443.3h1M319.6 443.1h1M256.0 448.3h1M266.9 451.1h1M113.7 456.1h1M136.8 454.6h1M219.3 455.7h1M292.0 455.0h1M68.9 458.7h1M113.1 461.5h1M204.8 458.2h1M295.6 459.5h1M271.6 464.0h1M317.3 466.0h1M417.6 468.6h1M355.7 470.2h1M288.7 477.0h1M310.5 477.6h1M358.9 474.3h1M328.8 484.1h1M376.1 482.6h1M279.8 490.0h1M317.6 488.0h1M132.4 493.7h1M177.7 490.7h1M186.2 492.8h1M218.2 491.5h1M147.8 496.3h1M194.8 500.1h1M180.8 502.9h1M287.7 502.3h1M184.7 526.3h1M218.8 532.7h1M195.4 550.8h1" stroke="#505050" stroke-width="1" fill="none"/><path d="M450.0 203.0h1M483.4 91.2h1M391.1 277.2h1M436.6 228.5h1M292.2 315.2h1M339.7 329.0h1M494.7 8.7h1M384.9 290.7h1M299.1 305.0h1M318.8 341.4h1M473.8 154.1h1M480.4 83.3h1M424.4 216.3h1M471.7 142.9h1M458.8 202.2h1M330.2 326.7h1M459.5 48.3h1M489.9 59.9h1M353.6 299.3h1M348.2 331.0h1M307.9 341.1h1M492.9 42.0h1M291.9 364.9h1M495.0 86.7h1M501.0 57.9h1M353.1 258.3h1M351.8 303.5h1M480.1 64.2h1M429.6 243.6h1M254.5 356.1h1M509.4 24.4h1M487.0 46.9h1M382.7 260.0h1M330.5 312.2h1M412.2 231.6h1M263.3 379.3h1M315.3 308.1h1M382.0 250.9h1M492.7 96.3h1M476.5 135.7h1M345.3 293.7h1M327.1 283.8h1M344.2 292.2h1M478.9 104.1h1M475.9 122.8h1M318.2 322.8h1M391.8 256.7h1M386.3 234.6h1M352.1 280.8h1M357.4 276.8h1M457.9 178.1h1M500.0 113.5h1M314.7 339.1h1M450.7 193.9h1M359.2 267.7h1M480.0 90.9h1M296.1 331.5h1M403.4 223.1h1M352.0 286.8h1M309.2 323.8h1M408.5 260.9h1M334.3 318.6h1M488.9 128.5h1M481.1 135.8h1M441.7 202.1h1M348.0 295.3h1M446.3 177.7h1M267.4 329.3h1M439.6 210.7h1M497.4 17.7h1M426.4 226.5h1M341.4 286.3h1M273.0 362.2h1M480.9 30.2h1M478.1 145.1h1M389.7 266.4h1M495.3 26.7h1M458.0 146.5h1M500.7 59.1h1M486.2 63.1h1M465.3 123.1h1M297.0 331.1h1M483.6 107.7h1M303.7 335.0h1M283.3 382.9h1M294.2 309.7h1M359.8 233.5h1M468.3 146.6h1M315.6 283.4h1M500.7 102.3h1M467.7 121.5h1M378.1 267.5h1M311.4 326.5h1M400.7 244.3h1M426.6 219.3h1M366.5 275.0h1M465.1 81.6h1M315.6 325.3h1M488.1 88.8h1M357.9 279.2h1M488.0 29.2h1M486.8 160.6h1M474.5 132.4h1M274.3 350.8h1M507.2 5.5h1M469.4 152.8h1M500.7 102.7h1M361.5 290.9h1M467.9 166.1h1M456.1 194.3h1M491.9 75.1h1M299.2 334.3h1M413.3 227.1h1M495.4 4.6h1M316.6 289.6h1M290.4 334.4h1M274.3 334.0h1M461.6 154.2h1M279.4 336.0h1M286.7 341.9h1M452.3 175.2h1M507.8 52.2h1M353.1 280.9h1M369.3 287.3h1M495.1 64.6h1M488.1 63.3h1M312.7 308.5h1M508.4 9.0h1M434.9 201.5h1M283.8 324.5h1M491.7 74.3h1M469.2 129.2h1M474.8 127.3h1M395.8 225.9h1M477.8 77.2h1M488.4 64.2h1M415.9 214.5h1M474.4 131.2h1M324.3 315.1h1M297.5 341.4h1M444.8 234.2h1M473.1 147.7h1M374.9 292.5h1M457.3 186.3h1M478.7 12.7h1M335.0 310.2h1M489.3 42.6h1M298.8 350.5h1M467.3 202.1h1M314.8 311.8h1M430.4 189.8h1M470.3 13.4h1M327.1 319.7h1M399.3 271.0h1M309.2 324.4h1M453.6 179.4h1M488.1 103.6h1M397.0 235.6h1M315.6 290.7h1M381.0 255.5h1M388.0 241.7h1M471.6 161.1h1M245.8 355.5h1M311.0 303.5h1M390.0 271.3h1M355.6 272.1h1M493.8 94.4h1M489.6 78.5h1M504.8 90.9h1M367.8 266.6h1M310.9 337.3h1M413.1 217.6h1M505.8 29.1h1M362.8 268.5h1M282.7 346.5h1M481.6 67.0h1M285.7 367.8h1M345.2 267.4h1M389.5 272.5h1M446.6 198.6h1M405.3 246.5h1M477.5 38.6h1M342.2 312.8h1M483.1 59.4h1M479.6 68.0h1M300.7 355.9h1M349.4 304.9h1M298.8 328.8h1M354.6 296.2h1M476.7 80.0h1M403.0 268.7h1M310.7 334.2h1M380.9 239.5h1M360.9 268.4h1M472.6 191.5h1M494.8 103.9h1M410.7 239.6h1M417.3 220.6h1M447.9 210.5h1M403.5 242.4h1M481.9 136.9h1M438.9 193.6h1M470.4 148.6h1M307.7 324.5h1M468.8 23.3h1M472.2 62.5h1M492.9 40.3h1M479.9 96.2h1M476.8 160.5h1M336.1 292.8h1M485.7 98.2h1M483.8 56.3h1M463.4 146.6h1M406.5 269.8h1M350.7 299.5h1M285.7 345.0h1M300.4 338.4h1M291.3 323.7h1M470.6 197.7h1M410.6 236.8h1M488.8 99.4h1M475.6 47.9h1M407.7 252.5h1M478.0 154.6h1M472.2 100.3h1M501.6 31.3h1M348.6 271.3h1M383.6 250.4h1M298.8 354.5h1M381.0 261.5h1M316.5 315.3h1M494.3 157.3h1M466.3 167.8h1M287.0 353.5h1M310.4 333.0h1M479.3 57.6h1M355.5 302.8h1M472.7 149.8h1M438.3 207.8h1M460.8 156.0h1M318.8 307.1h1M312.7 323.7h1M457.7 183.8h1M493.3 63.9h1M488.2 31.1h1M415.5 240.2h1M335.9 303.0h1M487.8 9.7h1M353.6 264.8h1M299.4 317.1h1M388.3 241.8h1M496.6 23.3h1M437.5 210.2h1M485.8 107.5h1M488.8 23.2h1M494.0 51.4h1M363.5 256.7h1M326.2 264.5h1M497.3 81.7h1M486.5 119.5h1M487.3 44.5h1M366.7 281.6h1M300.2 338.4h1M483.2 90.2h1M362.3 252.8h1M416.0 261.1h1M330.5 275.3h1M289.4 331.5h1M495.0 116.2h1M474.5 100.9h1M489.1 79.9h1M465.1 120.7h1M378.1 294.0h1M292.4 318.7h1M466.4 147.6h1M476.9 138.5h1M300.5 333.2h1M461.6 189.0h1M341.6 308.6h1M488.2 13.9h1M487.4 48.9h1M461.7 135.2h1M494.3 19.9h1M492.7 74.3h1M472.3 133.9h1M486.7 54.5h1M415.8 234.6h1M484.4 22.2h1M285.2 345.2h1M324.5 327.1h1M473.2 10.1h1M381.2 272.4h1M489.9 65.6h1M452.4 222.7h1M335.8 320.2h1M395.0 222.5h1M408.1 242.2h1M463.9 176.6h1M494.5 34.6h1M452.5 188.5h1M269.5 353.4h1M415.6 246.7h1M353.8 280.1h1M471.6 73.1h1M348.6 295.8h1M476.0 114.4h1M472.9 114.9h1M499.6 89.4h1M492.9 114.6h1M390.7 230.0h1M370.0 260.3h1M403.3 260.7h1M497.3 35.7h1M312.2 322.4h1M345.1 307.3h1M460.5 144.9h1M380.3 271.7h1M405.9 234.7h1M308.8 311.8h1M350.5 273.3h1M359.7 299.5h1M277.7 339.2h1M331.8 289.3h1M369.8 260.8h1M449.9 186.1h1M483.3 14.2h1M483.6 121.3h1M347.6 300.6h1M493.5 56.1h1M515.5 18.0h1M472.1 139.3h1M349.1 264.0h1M417.0 256.3h1M323.1 322.6h1M342.7 299.4h1M325.0 315.3h1M505.1 14.2h1M345.0 262.0h1M489.6 74.4h1M295.0 345.1h1M353.2 297.9h1M304.6 325.3h1M382.5 271.9h1M362.8 261.0h1M456.1 219.8h1M468.9 69.7h1M329.3 299.0h1M371.3 274.7h1M490.4 117.5h1M271.4 338.4h1M415.4 227.5h1M485.1 17.1h1M465.3 140.9h1M474.8 152.4h1M477.7 142.9h1M447.7 175.1h1M361.6 268.6h1M468.1 178.9h1M387.1 232.0h1M481.7 30.0h1M458.4 175.5h1M426.4 226.9h1M476.6 115.3h1M327.0 306.0h1M333.5 330.5h1M362.9 280.2h1M284.8 338.7h1M466.0 143.9h1M409.9 229.4h1M254.5 335.9h1M485.9 103.1h1M386.0 273.0h1M484.1 35.5h1M293.7 323.6h1M494.9 37.1h1M353.5 278.2h1M428.0 205.7h1M466.4 164.5h1M379.4 274.5h1M398.4 214.0h1M496.6 79.2h1M469.6 82.5h1M444.7 187.6h1M352.4 299.3h1M337.1 271.9h1M477.4 69.3h1M332.6 330.3h1M382.5 285.1h1M499.8 60.3h1M368.4 288.6h1M322.0 303.4h1M500.2 91.7h1M464.8 161.7h1M402.7 273.2h1M473.3 103.3h1M402.4 225.0h1M477.2 104.3h1M332.9 318.3h1M304.6 318.6h1M492.3 7.8h1M351.5 280.9h1M359.3 303.2h1M498.9 31.2h1M310.7 337.5h1M409.8 245.0h1M467.6 59.9h1M468.9 123.9h1M494.7 57.9h1M319.3 298.0h1M498.9 40.8h1M485.3 117.0h1M289.8 311.8h1M446.4 202.7h1M409.6 248.8h1M484.4 125.7h1M445.8 192.7h1M327.2 319.7h1M385.9 248.6h1M423.8 237.2h1M463.5 151.0h1M501.3 8.0h1M429.8 225.3h1M312.0 332.8h1M481.2 139.1h1M282.8 342.7h1M480.7 168.9h1M345.6 283.7h1M455.3 178.4h1M423.9 237.0h1M435.2 208.7h1M499.4 11.2h1M320.8 321.2h1M463.8 155.1h1M472.6 87.8h1M323.8 309.9h1M330.8 316.4h1M330.7 337.6h1M482.2 144.5h1M334.8 337.6h1M338.8 297.7h1M357.4 284.3h1M490.0 31.2h1M462.8 169.3h1M279.8 355.4h1M494.6 3.7h1M297.3 336.3h1M453.7 172.1h1M450.5 205.8h1M466.3 148.0h1M471.5 143.9h1M473.5 120.8h1M281.3 350.9h1M451.7 193.4h1M486.7 54.7h1M373.6 280.9h1M438.4 217.3h1M500.9 40.8h1M397.6 226.2h1M262.8 348.6h1M308.7 326.0h1M406.0 259.8h1M372.5 273.0h1M381.8 246.2h1M396.8 261.3h1M464.0 146.1h1M506.2 9.3h1M502.0 29.1h1M496.3 28.3h1M407.3 210.1h1M314.8 327.4h1M324.7 311.0h1M279.9 329.5h1M469.7 209.4h1M484.5 195.3h1M483.0 109.3h1M363.9 266.8h1M345.9 273.5h1M395.0 246.1h1M470.1 126.1h1M324.2 291.9h1M413.8 217.8h1M504.1 17.4h1M333.2 314.3h1M300.0 351.4h1M462.2 160.7h1M496.6 52.6h1M336.1 289.7h1M300.3 312.7h1M503.7 9.1h1M480.2 11.0h1M342.0 282.3h1M414.9 223.1h1M405.4 249.6h1M301.0 329.8h1M321.9 317.1h1M289.0 337.3h1M324.5 299.5h1M468.4 183.6h1M458.0 158.2h1M298.7 307.0h1M375.1 252.6h1M424.1 246.9h1M459.5 202.4h1M293.0 342.6h1M320.6 315.2h1M293.7 303.2h1M466.1 183.6h1M470.9 180.3h1M424.9 211.8h1M469.3 84.4h1M472.3 77.3h1M429.6 228.8h1M497.6 53.3h1M356.8 244.1h1M429.3 208.6h1M319.4 327.5h1M443.3 172.8h1M472.6 149.0h1M291.0 345.9h1M475.7 142.8h1M458.9 197.5h1M434.3 220.4h1M456.5 193.6h1M500.3 18.2h1M289.4 329.4h1M489.4 131.6h1M330.4 330.0h1M322.0 305.8h1M491.0 22.1h1M495.2 99.0h1M287.7 360.1h1M456.9 199.2h1M313.5 331.7h1M342.3 294.1h1M349.0 328.7h1M339.4 289.3h1M276.5 342.7h1M472.6 161.8h1M347.6 289.6h1M318.4 329.8h1M334.5 326.5h1M481.9 79.5h1M515.7 6.8h1M380.7 216.8h1M469.9 145.6h1M478.1 169.6h1M502.8 51.9h1M485.3 56.3h1M462.0 164.5h1M413.0 247.3h1M489.6 56.3h1M323.6 322.2h1M490.7 127.9h1M423.5 223.0h1M485.8 130.6h1M472.7 173.5h1M488.7 84.3h1M459.9 133.6h1M289.2 329.4h1M337.3 311.8h1M257.0 321.1h1M465.1 165.0h1M274.8 344.6h1M439.2 195.3h1M282.1 350.5h1M496.5 124.2h1M287.4 330.0h1M482.1 141.0h1M449.9 185.7h1M373.4 299.1h1M403.8 242.7h1M461.0 171.8h1M365.7 264.1h1M376.2 285.5h1M467.2 120.8h1M329.3 313.8h1M265.8 362.4h1M384.2 263.5h1M472.0 120.0h1M483.2 178.8h1M494.8 43.7h1M493.3 121.7h1M486.3 129.9h1M368.8 264.9h1M502.8 52.2h1M462.3 197.2h1M446.9 212.0h1M327.0 323.0h1M488.7 113.1h1M345.0 292.5h1M311.1 326.3h1M486.0 172.5h1M309.2 339.0h1M414.8 225.9h1M510.1 21.6h1M412.7 221.5h1M491.5 51.3h1M315.0 325.2h1M301.5 337.1h1M294.9 340.6h1M287.4 351.8h1M398.5 191.5h1M476.7 130.8h1M470.8 66.4h1M342.9 277.4h1M452.3 201.3h1M316.5 293.7h1M320.9 313.7h1M497.1 30.0h1M486.9 23.5h1M461.3 201.6h1M400.4 246.6h1M329.3 302.8h1M495.6 57.7h1M495.4 91.9h1M361.9 278.9h1M493.5 6.9h1M472.7 140.0h1M462.2 140.2h1M333.0 269.3h1M480.0 74.6h1M361.2 310.7h1M400.2 258.0h1M462.7 176.4h1M332.4 284.9h1M278.8 375.2h1M346.0 297.4h1M493.6 129.1h1M495.1 91.7h1M418.9 238.1h1M498.5 50.7h1M443.9 214.9h1M272.5 368.6h1M393.3 261.0h1M295.0 322.1h1M404.4 217.8h1M416.1 193.3h1M410.6 226.7h1M433.5 210.0h1M500.0 10.2h1M437.7 226.0h1M417.6 230.1h1M456.3 132.9h1M376.0 243.2h1M339.7 276.0h1M499.4 80.8h1M393.7 257.7h1M429.2 237.2h1M471.5 27.3h1M296.1 323.8h1M343.4 295.0h1M494.1 23.3h1M480.1 166.4h1M338.8 281.7h1M301.9 326.3h1M455.6 180.9h1M482.8 108.8h1M406.3 229.6h1M467.9 201.2h1M480.9 102.4h1M477.7 38.3h1M494.6 61.0h1M478.3 141.1h1M293.6 350.5h1M494.2 5.5h1M469.4 136.2h1M418.0 213.5h1M493.7 79.8h1M283.7 305.2h1M410.5 233.5h1M485.5 91.6h1M451.7 193.9h1M488.6 11.1h1M471.7 114.8h1M491.7 100.2h1M273.3 342.4h1M443.4 222.2h1M366.3 299.9h1M507.7 17.8h1M462.2 183.0h1M471.6 4.0h1M467.3 114.5h1M406.5 277.7h1M490.0 92.6h1M475.3 167.9h1M338.5 297.2h1M412.6 249.3h1M476.0 133.9h1M366.8 289.3h1M490.2 102.0h1M494.5 23.6h1M381.5 232.4h1M488.7 124.9h1M450.6 179.6h1M264.7 345.3h1M279.4 345.0h1M421.1 200.7h1M470.5 76.4h1M433.1 223.9h1M470.7 164.2h1M501.0 129.1h1M399.2 269.6h1M480.7 129.4h1M516.1 15.3h1M477.4 138.8h1M380.1 270.5h1M492.9 129.2h1M480.2 75.8h1M442.2 220.4h1M483.8 127.5h1M481.0 151.9h1M493.1 65.9h1M358.8 300.9h1M285.4 346.8h1M445.4 184.5h1M306.7 330.7h1M309.5 334.3h1M505.3 16.2h1M476.7 81.2h1M409.8 254.1h1M481.0 97.6h1M426.4 213.1h1M297.1 317.6h1M309.2 318.5h1M292.6 347.3h1M468.3 46.7h1M462.4 193.6h1M368.5 282.7h1M315.4 320.0h1M511.7 54.4h1M457.4 116.7h1M411.9 254.2h1M482.8 75.0h1M310.0 340.0h1M413.0 239.8h1M480.5 35.6h1M512.0 11.7h1M422.2 216.0h1M403.7 266.3h1M482.3 56.2h1M484.1 94.2h1M494.8 19.5h1M454.4 204.8h1M467.6 171.9h1M491.5 40.9h1M381.6 289.5h1M490.3 97.5h1M440.6 208.7h1M454.9 209.8h1M452.4 199.3h1M504.6 71.9h1M503.4 7.6h1M313.4 330.1h1M445.0 157.5h1M313.1 296.0h1M439.0 204.2h1M354.7 299.1h1M441.5 207.3h1M338.8 289.2h1M488.9 140.6h1M306.2 337.4h1M449.9 191.3h1M355.1 242.5h1M488.6 121.8h1M440.9 210.4h1M290.1 339.6h1M502.7 52.5h1M340.7 291.7h1M457.4 184.1h1M465.1 172.1h1M250.1 364.6h1M377.4 271.1h1M281.5 337.6h1M344.8 312.8h1M284.0 346.8h1M454.6 133.9h1M282.3 342.6h1M363.6 296.4h1M336.6 324.1h1M490.3 24.6h1M456.4 178.9h1M398.7 254.6h1M448.8 206.0h1M383.5 251.4h1M317.6 305.1h1M492.3 11.0h1M493.5 81.0h1M420.0 227.8h1M319.5 329.7h1M304.3 335.0h1M497.0 74.9h1M336.9 280.2h1M491.0 73.4h1M505.9 93.0h1M308.5 332.2h1M308.9 336.8h1M295.7 327.3h1M459.7 168.1h1M458.0 196.8h1M375.2 251.8h1M501.1 51.1h1M277.6 334.4h1M486.8 21.9h1M490.2 79.5h1M482.3 114.1h1M485.1 185.6h1M270.6 339.5h1M485.9 145.4h1M343.9 249.6h1M494.4 132.4h1M472.2 173.4h1M500.9 90.4h1M329.0 287.5h1M284.0 323.7h1M371.6 261.5h1M310.8 340.9h1M264.3 335.2h1M414.8 244.5h1M492.9 119.2h1M451.3 182.0h1M451.7 182.2h1M446.0 169.3h1M327.6 287.4h1M335.3 288.1h1M489.5 87.7h1M479.0 32.0h1M490.2 26.0h1M366.9 271.5h1M503.7 24.5h1M390.6 234.1h1M474.2 67.6h1M300.6 332.9h1M445.9 171.2h1M306.8 306.6h1M457.4 163.8h1M480.6 5.3h1M444.1 181.4h1M486.9 93.8h1M309.1 329.1h1M329.3 310.3h1M479.3 65.6h1M500.5 7.3h1M425.6 222.7h1M318.7 309.6h1M363.3 287.7h1M483.3 113.8h1M481.3 148.9h1M431.6 207.3h1M299.8 320.1h1M482.9 114.7h1M494.8 94.7h1M503.6 84.3h1M394.5 251.1h1M269.8 359.3h1M471.1 182.4h1M418.9 211.8h1M394.8 262.3h1M392.5 237.5h1M488.0 54.0h1M441.8 226.5h1M414.9 223.2h1M370.8 310.5h1M457.3 160.0h1M407.9 224.4h1M483.1 124.2h1M493.6 80.2h1M361.8 276.1h1M409.9 236.0h1M283.4 378.1h1M321.0 314.2h1M475.2 127.4h1M478.5 170.9h1M504.1 53.0h1M392.7 264.2h1M364.9 259.4h1M495.7 47.0h1M369.1 272.8h1M367.7 295.2h1M359.8 279.0h1M438.7 223.2h1M500.2 76.3h1M519.5 75.2h1M475.1 80.6h1M366.7 282.9h1M312.7 300.6h1M346.3 300.6h1M458.7 144.9h1M428.9 190.4h1M354.4 292.0h1M483.8 60.4h1M502.3 29.5h1M466.6 126.9h1M477.0 152.2h1M295.1 355.0h1M462.1 145.4h1M494.2 80.3h1M346.8 244.5h1M472.2 148.5h1M506.2 40.2h1M383.4 242.9h1M490.0 32.6h1M451.0 186.7h1M289.3 330.2h1M272.9 334.0h1M339.6 273.3h1M392.0 296.2h1M443.4 210.6h1M517.8 44.1h1M391.8 224.1h1M389.3 276.4h1M385.3 265.4h1M477.0 156.6h1M269.4 354.5h1M410.8 230.0h1M336.2 318.6h1M486.3 61.8h1M316.1 294.1h1M298.8 335.3h1M495.1 99.3h1M297.0 317.2h1M328.0 310.7h1M310.6 310.4h1M425.4 229.8h1M354.2 289.0h1M498.2 86.8h1M375.9 279.3h1M469.2 177.2h1M481.0 75.1h1M508.7 33.0h1M346.7 330.3h1M473.6 123.7h1M493.9 82.8h1M354.8 278.8h1M305.4 306.9h1M482.3 108.5h1M401.9 224.1h1M490.3 44.9h1M401.2 249.6h1M416.1 207.8h1M490.9 79.4h1M476.6 62.5h1M499.1 66.1h1M486.6 35.7h1M398.2 280.7h1M339.2 313.1h1M453.1 172.9h1M481.2 62.7h1M311.7 322.2h1M307.8 275.7h1M472.5 184.9h1M476.1 100.1h1M461.6 198.9h1M328.8 307.9h1M440.5 226.4h1M485.2 54.7h1M349.1 288.1h1M277.6 318.3h1M433.2 190.7h1M328.3 326.3h1M480.9 178.4h1M390.2 243.3h1M312.0 337.3h1M475.2 135.6h1M488.0 52.8h1M302.4 314.3h1M283.1 354.1h1M484.0 99.6h1M469.0 158.8h1M446.8 215.8h1M432.8 204.6h1M351.3 297.4h1M491.6 130.2h1M493.2 23.9h1M501.4 61.6h1M329.6 322.8h1M324.7 306.3h1M491.5 17.4h1M431.8 186.6h1M482.0 100.9h1M505.0 22.3h1M470.7 112.6h1M469.0 180.8h1M416.3 248.5h1M393.6 236.8h1M317.6 353.9h1M473.6 5.6h1M392.3 246.3h1M452.7 234.9h1M483.3 97.5h1M435.2 188.1h1M458.0 201.2h1M405.7 232.1h1M463.0 178.0h1M425.4 230.2h1M413.5 248.7h1M486.2 69.6h1M486.1 63.2h1M308.4 329.3h1M465.3 175.3h1M437.0 179.7h1M311.4 340.1h1M315.7 313.6h1M377.5 301.6h1M474.4 48.9h1M487.4 136.3h1M486.9 138.8h1M313.5 293.7h1M327.6 284.7h1M504.5 111.8h1M476.4 52.8h1M303.8 347.9h1M290.6 331.3h1M495.4 43.1h1M333.3 312.7h1M274.6 352.9h1M353.1 294.5h1M308.8 312.7h1M490.8 75.2h1M429.6 242.3h1M334.8 299.1h1M296.6 342.1h1M416.1 246.1h1M387.0 280.3h1M444.5 202.4h1M460.8 198.9h1M464.4 156.3h1M469.4 132.9h1M492.5 109.6h1M446.1 197.5h1M484.1 101.0h1M426.4 228.1h1M312.4 302.5h1M480.0 119.8h1M366.5 259.8h1M334.8 285.9h1M320.4 299.9h1M397.4 245.6h1M478.6 65.8h1M490.1 77.1h1M471.3 129.0h1M410.1 241.5h1M406.2 262.2h1M280.5 323.3h1M454.6 175.3h1M308.9 346.5h1M314.9 324.4h1M375.8 258.7h1M485.3 59.5h1M364.7 275.4h1M493.0 75.5h1M302.4 332.2h1M452.6 171.1h1M407.6 224.7h1M492.5 56.3h1M418.1 206.8h1M379.1 281.7h1M479.2 78.3h1M498.3 69.1h1M456.6 209.6h1M500.7 56.6h1M470.3 95.8h1M320.6 327.6h1M316.2 321.1h1M497.5 34.8h1M307.2 303.7h1M319.5 328.9h1M456.8 181.7h1M294.9 305.4h1M493.2 108.9h1M497.0 83.0h1M453.7 166.4h1M453.8 191.2h1M321.6 314.9h1M478.5 162.3h1M476.9 89.9h1M509.6 27.6h1M477.7 34.5h1M412.4 219.2h1M501.3 119.8h1M370.5 305.5h1M291.0 329.3h1M309.3 334.0h1M492.0 77.1h1M321.3 324.3h1M379.3 280.2h1M269.3 341.2h1M387.8 232.8h1M302.3 322.4h1M471.7 165.9h1M484.3 62.0h1M375.6 258.1h1M502.6 5.7h1M328.3 296.6h1M258.1 348.9h1M482.3 68.5h1M461.1 16.3h1M501.3 77.2h1M496.2 17.4h1M505.2 19.6h1M399.2 237.9h1M478.6 23.5h1M490.6 62.5h1M476.5 126.4h1M399.2 236.2h1M492.0 61.7h1M311.5 319.3h1M476.7 19.3h1M487.4 98.5h1M335.4 289.8h1M497.5 62.4h1M463.1 136.2h1M471.9 139.1h1M382.7 233.5h1M467.6 87.4h1M490.1 17.1h1M404.0 249.9h1M492.6 46.3h1M299.6 324.1h1M384.1 278.7h1M498.0 16.4h1M324.9 307.2h1M352.3 278.5h1M317.4 345.5h1M452.4 192.5h1M432.4 199.7h1M288.2 317.3h1M514.7 46.4h1M373.4 255.2h1M502.6 136.3h1M495.3 24.5h1M460.6 207.7h1M326.3 306.9h1M272.5 313.7h1M502.9 138.1h1M300.0 292.8h1M310.5 349.6h1M332.7 266.1h1M344.5 307.9h1M392.3 243.2h1M356.4 305.2h1M304.3 325.1h1M438.9 230.3h1M479.0 69.7h1M485.9 27.7h1M337.2 284.0h1M476.4 137.2h1M463.6 150.9h1M321.6 299.5h1M330.0 313.0h1M470.6 149.6h1M300.4 330.1h1M474.6 147.3h1M482.6 163.1h1M468.1 175.9h1M408.5 249.2h1M411.9 268.2h1M466.4 175.7h1M452.8 207.0h1M493.7 71.0h1M296.9 332.8h1M393.0 230.2h1M292.1 348.8h1M409.4 246.2h1M321.6 327.3h1M292.0 346.7h1M460.1 209.4h1M269.5 371.3h1M461.6 159.7h1M394.0 256.3h1M471.7 84.2h1M483.7 56.6h1M504.0 8.3h1M461.4 139.4h1M331.6 282.0h1M300.0 329.3h1M458.4 163.6h1M479.9 40.5h1M437.7 230.9h1M498.8 48.8h1M307.7 330.0h1M494.0 108.2h1M325.6 320.9h1M274.9 366.4h1M497.7 88.9h1M498.9 47.0h1M419.6 230.6h1M488.2 75.7h1M348.7 286.7h1M457.6 177.8h1M464.8 164.5h1M348.6 296.6h1M323.0 339.5h1M337.8 291.1h1M459.4 206.2h1M377.1 277.1h1M307.4 319.4h1M305.8 326.4h1M478.9 90.5h1M298.7 329.6h1M474.6 113.3h1M432.0 237.2h1M459.7 150.0h1M399.3 247.6h1M479.0 55.8h1M300.7 324.7h1M349.8 279.1h1M472.5 167.7h1M448.3 202.6h1M490.3 108.9h1M504.1 40.6h1M344.2 290.5h1M503.6 38.2h1M489.5 158.2h1M324.2 302.1h1M326.2 266.8h1M504.2 15.6h1M338.3 284.9h1M354.3 281.0h1M345.8 269.7h1M490.0 99.9h1M488.6 40.5h1M287.1 310.7h1M479.8 131.5h1M497.8 5.3h1M469.1 153.7h1M470.0 75.6h1M411.0 218.7h1M474.8 113.0h1M273.8 374.5h1M421.7 177.5h1M428.5 204.1h1M393.2 262.5h1M383.9 281.0h1M443.0 182.4h1M499.2 31.1h1M399.1 232.3h1M452.8 144.6h1M353.2 277.1h1M346.9 273.6h1M271.2 342.5h1M472.8 139.0h1M485.1 38.2h1M469.8 140.2h1M313.1 321.1h1M362.1 272.7h1M382.0 276.0h1M410.3 252.2h1M358.2 279.7h1M411.4 274.0h1M370.1 267.9h1M288.2 351.8h1M481.1 67.7h1M495.0 29.5h1M272.9 331.0h1M315.9 305.4h1M486.4 98.4h1M484.2 105.7h1M421.8 211.8h1M472.2 58.9h1M315.1 330.3h1M328.9 298.2h1M456.6 117.7h1M312.8 326.8h1M474.3 152.6h1M424.5 210.8h1M323.8 316.1h1M484.3 36.4h1M324.7 316.9h1M485.6 109.0h1M500.8 26.7h1M488.7 62.9h1M382.5 267.3h1M400.9 238.0h1M329.3 306.2h1M459.2 164.6h1M502.0 9.7h1M287.4 305.9h1M348.6 319.0h1M473.9 117.9h1M495.4 92.2h1M471.0 78.0h1M373.5 259.8h1M448.1 198.2h1M478.1 5.9h1M470.1 121.6h1M493.3 71.4h1M318.8 305.7h1M490.5 34.4h1M390.8 240.3h1M471.6 52.5h1M493.7 28.8h1M478.3 64.4h1M483.2 110.1h1M283.1 330.2h1M405.4 247.2h1M491.0 97.1h1M436.5 213.9h1M467.6 174.7h1M376.7 268.7h1M339.3 309.5h1M395.5 266.9h1M485.9 118.3h1M355.8 285.4h1M376.8 254.8h1M269.2 334.6h1M368.2 266.5h1M459.3 182.9h1M335.9 272.2h1M284.9 329.2h1M442.4 199.3h1M468.2 133.1h1M468.5 145.8h1M440.8 172.2h1M362.1 281.2h1M465.7 28.9h1M450.3 218.0h1M464.8 187.3h1M309.0 320.8h1M298.0 345.1h1M269.7 344.5h1M474.1 135.1h1M493.2 92.9h1M458.5 175.5h1M364.2 239.6h1M366.8 290.0h1M498.3 24.4h1M309.2 327.8h1M336.1 310.0h1M315.8 319.5h1M476.4 82.9h1M485.9 22.4h1M458.3 171.8h1M439.4 225.5h1M338.0 318.5h1M375.8 293.4h1M471.4 140.2h1M357.7 290.6h1M433.8 210.7h1M464.1 70.8h1M442.9 178.9h1M487.1 32.4h1M448.3 193.7h1M489.9 95.2h1M303.5 333.7h1M507.4 26.1h1M457.9 155.5h1M398.5 212.2h1M467.3 145.9h1M444.4 192.7h1M301.4 340.0h1M488.7 15.7h1M377.2 291.1h1M266.9 345.3h1M465.8 145.0h1M504.5 5.6h1M357.7 284.3h1M463.1 152.3h1M460.0 180.5h1M255.3 384.6h1M348.7 310.8h1M403.5 224.4h1M376.7 298.0h1M312.9 344.8h1M464.5 139.0h1M499.7 102.5h1M314.9 331.9h1M489.5 149.5h1M333.9 316.7h1M367.3 286.8h1M359.6 274.5h1M485.7 122.4h1M468.2 165.9h1M450.8 175.8h1M473.0 175.2h1M489.7 85.7h1M441.6 219.7h1M501.8 66.0h1M442.7 193.6h1M494.7 83.2h1M329.1 292.7h1M448.2 188.4h1M305.9 329.9h1M395.6 227.3h1M467.8 199.3h1M493.9 82.8h1M465.2 147.3h1M329.9 283.8h1M309.8 335.3h1M433.5 198.3h1M458.8 209.6h1M507.8 33.4h1M330.3 331.5h1M266.9 343.9h1M514.6 8.9h1M292.1 343.5h1M282.0 374.5h1M315.6 322.0h1M493.4 129.3h1M481.7 133.8h1M488.0 51.8h1M445.3 238.4h1M483.9 85.0h1M376.0 243.7h1M507.4 74.3h1M466.8 176.8h1M313.9 302.8h1M323.2 305.4h1M475.2 126.9h1M399.1 221.1h1M339.1 294.0h1M302.1 323.5h1M513.3 26.3h1M302.0 339.0h1M485.2 78.4h1M454.6 148.5h1M320.4 310.1h1M399.6 219.4h1M470.8 147.2h1M317.2 302.5h1M501.6 80.3h1M440.0 226.9h1M357.1 292.7h1M470.6 141.3h1M496.4 94.7h1M492.7 131.9h1M353.3 272.4h1M252.6 339.2h1M335.1 288.2h1M482.6 78.6h1M272.0 347.4h1M465.2 158.1h1M487.9 37.1h1M456.2 196.4h1M503.8 23.7h1M373.7 286.5h1M266.5 355.5h1M447.9 199.5h1M409.6 264.0h1M316.4 333.4h1M499.4 4.0h1M495.3 16.9h1M422.4 241.1h1M317.5 338.1h1M455.9 205.9h1M488.4 147.6h1M474.1 103.6h1M350.9 282.2h1M487.4 15.5h1M307.5 320.5h1M499.8 42.7h1M471.1 103.7h1M372.2 292.2h1M455.1 172.5h1M302.8 339.4h1M389.9 262.7h1M418.9 228.6h1M489.3 12.4h1M460.9 149.9h1M345.0 293.3h1M469.9 140.4h1M296.2 309.9h1M365.2 276.1h1M473.9 153.9h1M438.0 205.2h1M443.8 205.0h1M416.7 216.8h1M472.4 141.8h1M440.9 195.1h1M300.2 344.7h1M488.2 96.3h1M420.0 228.4h1M490.5 54.2h1M305.9 341.2h1M383.5 213.7h1M430.7 218.0h1M327.7 297.0h1M504.0 32.8h1M319.9 298.7h1M421.6 222.2h1M394.7 243.5h1M352.8 282.8h1M433.3 203.6h1M304.5 325.4h1M453.4 197.7h1M419.0 226.4h1M400.2 231.9h1M420.3 212.9h1M381.6 280.5h1M475.8 108.4h1M490.4 107.5h1M352.4 311.0h1M372.3 275.4h1M418.8 229.4h1M509.5 91.6h1M487.7 162.1h1M467.7 161.7h1M510.4 29.0h1M462.3 178.3h1M489.8 86.1h1M455.8 165.9h1M458.4 192.1h1M475.2 21.3h1M479.2 163.8h1M485.9 90.6h1M399.5 283.1h1M448.5 191.1h1M481.9 116.2h1M466.3 167.4h1M499.8 29.8h1M454.9 193.7h1M487.6 28.0h1M274.5 332.1h1M343.3 285.6h1M464.5 135.6h1M342.2 281.8h1M499.7 129.8h1M320.9 336.4h1M512.1 42.5h1M467.8 134.5h1M311.8 322.0h1M482.9 48.4h1M391.1 247.8h1M376.2 283.8h1M307.3 342.7h1M289.9 314.0h1M493.1 23.9h1M468.4 202.3h1M437.8 196.0h1M484.7 104.1h1M450.7 217.4h1M499.9 67.5h1M484.7 158.4h1M480.3 19.8h1M298.4 323.2h1M341.7 322.5h1M446.4 198.9h1M462.0 199.6h1M387.6 251.7h1M305.8 313.1h1M498.5 24.6h1M477.9 122.0h1M490.1 59.4h1M308.3 303.6h1M461.2 172.7h1M415.7 263.7h1M488.0 105.4h1M269.3 364.8h1M432.5 177.0h1M480.0 145.7h1M341.9 309.7h1M290.8 340.8h1M469.4 205.5h1M492.1 31.6h1M494.3 106.5h1M315.5 334.9h1M306.6 320.6h1M353.3 280.7h1M500.8 18.5h1M409.7 229.6h1M393.3 272.6h1M483.4 38.9h1M305.5 349.6h1M345.1 255.3h1M431.5 231.6h1M409.6 244.6h1M320.2 274.6h1M422.0 217.4h1M471.2 167.5h1M389.1 266.9h1M485.3 62.1h1M294.5 342.1h1M446.8 187.8h1M447.9 191.0h1M475.5 54.6h1M493.6 91.2h1M335.5 300.4h1M371.5 269.2h1M466.3 132.2h1M476.0 50.9h1M465.0 172.3h1M468.5 149.3h1M324.2 287.1h1M378.4 277.2h1M398.4 218.0h1M487.9 80.6h1M371.5 253.3h1M380.0 268.5h1M506.6 22.4h1M401.9 247.7h1M338.1 281.8h1M311.2 314.2h1M465.4 138.4h1M382.8 299.2h1M421.3 222.7h1M399.1 238.9h1M326.4 313.4h1M495.7 27.9h1M475.0 102.8h1M341.6 279.8h1M322.7 302.9h1M291.8 361.6h1M484.9 66.8h1M470.5 128.5h1M411.6 262.7h1M289.3 303.2h1M419.3 244.4h1M473.8 137.4h1M453.7 187.6h1M382.9 223.5h1M479.7 4.4h1M282.2 332.4h1M460.7 161.5h1M345.1 298.6h1M429.6 223.5h1M353.2 301.1h1M494.3 87.9h1M415.1 235.7h1M484.5 58.3h1M358.6 295.1h1M355.7 280.7h1M277.7 335.6h1M308.7 326.6h1M293.6 325.4h1M497.3 4.5h1M478.3 56.7h1M382.2 257.7h1M469.8 181.0h1M469.1 149.6h1M474.9 5.0h1M318.6 307.1h1M302.2 329.3h1M475.6 101.1h1M476.4 64.0h1M481.9 108.2h1M392.4 243.1h1M364.3 299.6h1M372.9 299.1h1M302.7 322.5h1M425.6 201.4h1M382.6 251.2h1M305.7 345.3h1M490.0 108.3h1M363.8 304.7h1M312.9 305.0h1M365.4 270.9h1M341.4 313.8h1M403.5 251.0h1M310.0 351.2h1M473.3 73.6h1M424.3 250.2h1M480.1 3.7h1M472.6 206.0h1M482.5 134.8h1M479.6 113.0h1M485.4 97.2h1M373.8 307.7h1M459.5 188.6h1M472.2 177.1h1M293.8 317.6h1M303.3 322.1h1M482.5 103.1h1M306.1 322.8h1M488.1 14.2h1M466.7 177.7h1M360.8 261.3h1M441.9 241.5h1M482.7 32.5h1M328.7 279.6h1M478.1 119.8h1M483.6 11.6h1M475.0 178.7h1M484.8 83.4h1M480.8 74.5h1M475.9 32.9h1M311.8 317.4h1M277.6 373.9h1M368.0 264.8h1M485.0 104.2h1M360.9 257.4h1M491.2 16.3h1M342.4 285.5h1M486.0 51.1h1M479.7 142.8h1M319.7 329.1h1M391.5 265.9h1M476.1 100.9h1M276.8 342.3h1M477.7 42.6h1M463.3 183.4h1M445.0 189.7h1M483.5 50.4h1M453.2 162.9h1M480.3 145.2h1M496.3 47.3h1M346.9 315.1h1M300.7 339.4h1M491.4 61.8h1M489.0 103.0h1M455.0 179.7h1M271.1 354.8h1M375.8 248.5h1M454.0 169.8h1M460.3 184.7h1M302.7 323.5h1M438.4 227.8h1M387.0 243.4h1M478.4 79.8h1M470.6 59.4h1M493.4 19.7h1M314.2 301.4h1M357.9 312.7h1M488.9 130.1h1M425.9 234.1h1M466.4 180.2h1M280.9 323.1h1M494.8 24.2h1M516.5 37.0h1M478.6 19.2h1M484.8 10.3h1M294.3 330.0h1M496.4 9.2h1M330.0 318.4h1M470.4 197.3h1M308.2 338.5h1M332.0 264.8h1M486.2 39.2h1M314.6 317.5h1M344.7 317.3h1M319.5 308.2h1M381.1 289.2h1M437.1 229.9h1M321.9 337.4h1M318.7 310.3h1M487.2 79.2h1M419.9 233.1h1M428.2 222.4h1M364.3 264.1h1M478.4 94.0h1M480.4 144.4h1M494.8 15.7h1M340.5 279.1h1M346.0 281.8h1M338.3 299.9h1M445.4 217.0h1M452.9 206.5h1M496.3 40.2h1M505.7 45.7h1M339.0 310.0h1M481.0 102.3h1M470.1 137.5h1M485.1 97.9h1M493.1 48.6h1M491.2 45.7h1M426.2 245.3h1M292.7 342.1h1M330.9 283.1h1M363.0 272.4h1M504.7 36.2h1M491.5 141.0h1M322.3 300.6h1M305.8 308.2h1M486.1 104.1h1M503.1 76.1h1M460.5 172.4h1M313.9 330.3h1M369.1 266.9h1M403.7 227.4h1M483.2 65.5h1M486.2 50.7h1M254.0 366.0h1M493.1 28.2h1M295.6 323.6h1M467.4 168.6h1M452.8 191.3h1M376.1 270.6h1M359.2 298.7h1M343.3 310.2h1M312.6 324.8h1M367.1 243.2h1M490.5 84.1h1M491.0 25.2h1M481.2 71.6h1M397.6 241.7h1M486.9 3.7h1M474.2 103.2h1M465.5 200.7h1M417.2 254.3h1M351.1 293.5h1M488.6 60.1h1M331.0 333.3h1M369.0 267.2h1M306.0 279.9h1M447.7 168.8h1M342.7 274.2h1M491.9 20.0h1M415.9 225.1h1M437.7 215.6h1M368.4 303.6h1M455.3 195.5h1M427.4 209.3h1M316.5 335.9h1M477.0 184.4h1M494.6 10.2h1M346.2 281.9h1M305.2 328.0h1M468.4 158.8h1M302.0 349.9h1M376.6 265.6h1M489.2 51.3h1M420.3 220.4h1M495.5 26.3h1M439.4 218.2h1M289.3 340.9h1M462.2 167.7h1M504.8 66.7h1M306.1 306.3h1M363.5 272.4h1M489.1 21.8h1M433.9 214.0h1M480.4 180.5h1M479.7 93.9h1M324.7 293.2h1M484.7 61.2h1M365.3 258.5h1M348.6 299.8h1M457.3 151.6h1M322.0 316.3h1M434.6 241.4h1M359.9 266.5h1M300.6 326.4h1M487.4 91.8h1M283.8 301.8h1M314.6 322.6h1M487.0 32.7h1M497.5 68.5h1M478.2 83.9h1M487.8 105.5h1M499.3 40.2h1M289.4 345.1h1M473.9 182.0h1M305.6 347.8h1M334.6 334.5h1M463.1 195.7h1M358.9 251.3h1M482.1 91.9h1M490.4 3.4h1M486.7 19.3h1M323.0 298.1h1M483.5 94.7h1M497.4 49.4h1M465.1 140.1h1M487.0 37.2h1M292.2 345.3h1M354.7 293.4h1M492.0 7.3h1M476.8 161.3h1M459.4 185.5h1M504.1 76.8h1M427.0 195.7h1M423.7 241.2h1M474.0 139.6h1M494.6 72.4h1M506.0 10.1h1M480.9 30.1h1M294.1 315.3h1M490.0 8.8h1M340.7 285.6h1M464.6 137.9h1M336.5 307.7h1M493.6 19.8h1M426.0 215.4h1M502.3 31.9h1M358.1 278.4h1M449.7 159.5h1M483.6 34.1h1M456.0 185.5h1M484.6 27.2h1M486.3 126.8h1M484.4 60.6h1M394.5 232.4h1M472.9 163.2h1M496.4 44.6h1M316.8 313.7h1M486.1 136.2h1M317.2 320.4h1M454.3 162.3h1M326.1 308.6h1M480.1 20.3h1M485.7 104.2h1M370.4 299.0h1M505.4 79.0h1M359.7 282.1h1M330.3 334.3h1M314.0 286.3h1M338.2 284.5h1M487.7 143.4h1M429.7 238.6h1M475.9 145.3h1M444.2 181.4h1M479.9 99.3h1M479.7 109.5h1M443.0 196.6h1M410.8 240.1h1M471.8 140.4h1M304.6 345.3h1M372.2 293.7h1M456.7 156.2h1M337.4 325.5h1M419.8 205.9h1M261.3 325.8h1M508.8 71.4h1M490.2 32.1h1M294.8 326.7h1M381.4 230.5h1M448.8 202.0h1M348.9 292.4h1M485.3 89.0h1M439.7 215.4h1M485.3 145.0h1M477.2 134.9h1M313.9 325.1h1M455.1 161.8h1M303.8 354.5h1M348.4 285.0h1M450.7 182.2h1M462.2 148.6h1M411.5 271.6h1M447.2 205.4h1M453.3 175.6h1M344.5 267.1h1M500.1 77.9h1M284.3 336.4h1M483.7 73.3h1M494.3 157.8h1M324.9 309.9h1M418.9 237.4h1M452.7 192.2h1M480.1 119.4h1M245.0 356.9h1M412.4 220.6h1M455.7 124.9h1M490.7 18.9h1M498.0 91.7h1M487.4 45.8h1M500.8 79.2h1M437.2 201.3h1M491.5 55.0h1M347.8 309.5h1M462.7 198.6h1M474.4 34.1h1M439.9 231.1h1M423.3 235.2h1M359.0 239.7h1M286.3 343.8h1M388.2 244.3h1M495.4 37.6h1M497.7 83.3h1M359.3 269.0h1M515.9 30.7h1M478.7 6.0h1M373.2 261.4h1M347.6 303.7h1M331.8 292.6h1M498.3 45.8h1M441.0 215.0h1M485.2 125.4h1M318.1 336.0h1M488.9 110.0h1M467.5 170.5h1M449.9 230.7h1M291.0 357.1h1M290.3 335.5h1M471.9 167.6h1M260.8 380.9h1M498.6 13.5h1M493.2 33.6h1M356.2 304.6h1M305.6 315.7h1M439.9 213.7h1M489.0 57.6h1M318.6 305.3h1M490.4 9.0h1M481.1 113.7h1M467.0 36.8h1M464.0 181.5h1M308.8 331.5h1M384.3 283.9h1M317.9 323.1h1M345.6 266.8h1M443.9 203.5h1M472.4 124.4h1M341.8 273.7h1M311.8 346.5h1M269.5 348.2h1M486.9 55.3h1M476.5 79.6h1M419.8 252.1h1M434.5 214.5h1M489.6 32.4h1M484.4 7.8h1M263.6 352.4h1M472.1 159.5h1M328.9 306.6h1M330.3 355.8h1M464.2 208.3h1M485.2 118.7h1M310.6 326.3h1M493.9 22.2h1M468.1 8.1h1M506.5 92.3h1M492.2 6.1h1M485.3 145.3h1M321.4 312.4h1M315.6 344.0h1M459.7 194.1h1M293.8 304.1h1M363.0 251.5h1M346.0 307.3h1M393.3 261.4h1M472.9 46.5h1M482.4 16.1h1M473.2 72.0h1M456.8 209.5h1M452.3 164.2h1M461.8 130.6h1M329.5 287.4h1M282.7 351.9h1M500.8 61.9h1M478.5 97.6h1M337.8 314.3h1M387.3 258.5h1M367.2 259.7h1M385.3 251.9h1M508.2 15.5h1M476.8 142.8h1M349.9 299.9h1M487.2 95.3h1M470.4 125.8h1M281.0 342.5h1M288.9 368.5h1M502.2 41.9h1M468.6 180.9h1M367.6 299.5h1M431.2 222.5h1M344.1 312.6h1M294.7 353.6h1M492.6 99.4h1M322.0 314.7h1M440.6 211.9h1M304.4 284.1h1M300.0 333.3h1M255.9 347.4h1M353.2 303.8h1M480.2 46.5h1M467.6 174.7h1M301.0 310.9h1M312.3 320.2h1M277.7 330.0h1M452.0 187.0h1M391.7 264.6h1M480.2 53.0h1M463.7 197.4h1M453.1 200.3h1M356.0 301.7h1M272.4 356.7h1M388.4 262.6h1M473.3 165.3h1M308.3 323.4h1M465.5 132.6h1M386.0 254.2h1M465.6 175.1h1M504.2 62.1h1M471.3 156.8h1M477.2 86.2h1M290.8 341.5h1M508.4 13.1h1M485.5 144.4h1M476.9 133.6h1M456.3 173.9h1M462.3 12.1h1M374.9 303.6h1M456.1 167.7h1M295.6 292.1h1M461.8 108.1h1M305.9 285.4h1M474.9 126.5h1M431.2 232.6h1M307.3 354.9h1M485.8 128.3h1M498.6 38.5h1M490.9 35.7h1M484.2 10.7h1M320.7 326.1h1M482.3 170.7h1M470.3 62.6h1M400.1 243.0h1M479.2 44.1h1M491.1 112.7h1M273.0 361.2h1M434.6 200.7h1M311.1 321.5h1M494.8 44.0h1M488.6 40.7h1M423.1 230.1h1M474.5 129.0h1M378.0 273.0h1M368.6 267.5h1M491.6 59.4h1M501.3 60.7h1M374.3 260.0h1M478.7 184.3h1M435.6 208.4h1M377.2 268.4h1M472.4 148.3h1M417.7 243.7h1M481.5 7.1h1M459.0 152.2h1M500.2 41.6h1M500.7 76.4h1M323.0 337.1h1M468.3 152.2h1M296.8 335.0h1M410.0 244.2h1M341.8 257.6h1M486.8 39.1h1M490.5 143.1h1M288.1 336.0h1M498.4 13.8h1M488.2 115.4h1M487.0 56.7h1M355.6 260.2h1M476.9 75.1h1M461.1 176.7h1M464.4 146.6h1M353.3 290.6h1M370.8 242.4h1M469.4 195.2h1M302.2 326.3h1M347.9 311.7h1M485.5 114.9h1M288.8 341.5h1M454.0 208.0h1M478.0 134.2h1M402.8 251.7h1M503.9 29.9h1M407.5 257.7h1M303.2 332.9h1M322.2 328.0h1M475.4 179.1h1M467.1 123.8h1M319.3 306.2h1M375.6 275.8h1M367.4 253.4h1M501.5 14.1h1M335.2 302.8h1M451.1 182.9h1M500.7 55.9h1M442.6 226.1h1M315.3 328.2h1M311.3 364.8h1M331.3 320.9h1M336.9 358.1h1M434.0 254.9h1M376.0 301.2h1M318.1 329.5h1M322.2 276.3h1M287.2 361.5h1M361.5 179.8h1M367.4 302.3h1M349.3 318.4h1M293.7 334.6h1M263.3 358.9h1M385.7 221.5h1M351.9 276.1h1M302.9 321.7h1M395.2 257.0h1M362.9 305.7h1M369.3 301.8h1M322.7 329.6h1M433.8 260.1h1M491.5 186.0h1M307.6 335.6h1M427.6 224.3h1M425.0 181.7h1M341.9 270.5h1M304.7 342.7h1M375.7 288.9h1M331.8 289.3h1M382.9 301.1h1M430.4 239.4h1M308.3 324.9h1M359.1 285.8h1M388.8 263.1h1M359.3 245.7h1M289.6 334.9h1M409.8 217.8h1M425.1 204.1h1M398.4 253.6h1M394.3 256.3h1M295.5 315.2h1M386.6 254.9h1M326.0 266.1h1M427.1 195.9h1M288.1 319.1h1M308.6 301.7h1M240.1 360.9h1M263.5 350.2h1M318.9 335.2h1M450.8 202.1h1M304.1 350.5h1M344.2 353.7h1M364.5 261.8h1M303.9 324.3h1M366.3 263.0h1M303.8 285.7h1M329.3 364.3h1M335.3 283.2h1M374.9 226.4h1M336.6 303.3h1M326.2 342.2h1M347.2 260.9h1M299.1 291.0h1M325.8 339.7h1M373.6 284.3h1M407.0 244.1h1M469.1 170.4h1M328.6 302.4h1M376.0 221.8h1M501.5 99.7h1M383.7 229.1h1M287.3 332.8h1M270.3 345.5h1M256.6 335.5h1M362.7 260.1h1M251.8 297.4h1M335.0 325.6h1M305.5 290.0h1M314.5 302.7h1M339.3 308.8h1M444.7 252.2h1M419.0 224.0h1M380.4 349.0h1M369.3 255.6h1M310.8 324.2h1M373.2 315.1h1M388.7 293.6h1M261.4 360.4h1M273.5 346.2h1M293.2 371.9h1M385.5 272.5h1M420.1 185.7h1M386.5 290.0h1M327.7 330.4h1M297.8 318.5h1M319.7 337.8h1M292.0 355.6h1M437.3 225.6h1M307.0 354.9h1M322.5 271.8h1M315.4 323.7h1M330.6 271.0h1M302.6 282.2h1M288.9 344.3h1M406.5 201.1h1M316.8 295.1h1M342.5 275.5h1M327.1 324.4h1M312.3 335.1h1M302.8 339.5h1M291.0 372.2h1M355.5 229.6h1M469.7 52.4h1M469.3 212.4h1M349.7 296.5h1M286.8 346.4h1M405.1 278.8h1M403.4 235.3h1M325.1 336.3h1M336.0 311.9h1M313.7 306.2h1M451.3 231.3h1M268.8 348.9h1M344.6 281.4h1M344.4 289.0h1M319.4 302.2h1M415.1 267.2h1M437.8 232.7h1M313.5 304.3h1M339.9 241.5h1M368.2 232.5h1M334.4 283.0h1M349.3 313.3h1M357.7 249.0h1M301.4 342.5h1M361.8 280.5h1M442.5 223.1h1M407.3 239.9h1M347.0 265.9h1M410.0 223.2h1M285.4 320.1h1M411.2 292.7h1M311.9 324.2h1M388.3 258.0h1M400.7 259.1h1M447.8 254.5h1M313.6 306.8h1M361.8 272.5h1M286.2 329.5h1M423.3 199.3h1M458.7 168.0h1M444.0 191.5h1M302.2 328.0h1M369.5 293.9h1M284.0 347.6h1M399.9 172.1h1M384.3 238.4h1M307.3 378.9h1M424.7 212.1h1M322.3 329.4h1M364.0 242.9h1M332.1 270.9h1M345.7 284.7h1M372.1 284.8h1M353.7 354.4h1M340.7 306.1h1M337.9 334.6h1M407.1 224.6h1M331.4 343.5h1M413.0 241.8h1M294.6 282.4h1M384.8 246.7h1M477.0 112.4h1M356.2 321.3h1M353.9 309.6h1M408.4 249.1h1M287.4 354.6h1M317.0 352.0h1M319.6 275.4h1M437.7 247.4h1M292.0 349.6h1M387.0 299.0h1M360.3 286.4h1M337.4 322.8h1M399.9 226.1h1M456.0 165.5h1M369.4 331.2h1M337.5 279.6h1M402.4 250.9h1M370.8 242.6h1M336.8 314.9h1M359.9 324.4h1M312.3 304.4h1M374.3 196.8h1M505.6 120.3h1M248.6 362.6h1M423.5 244.1h1M426.6 282.0h1M354.1 276.9h1M353.8 204.8h1M380.0 275.2h1M353.7 321.8h1M318.9 310.7h1M323.7 322.0h1M389.8 240.4h1M407.2 246.5h1M418.5 174.2h1M363.4 290.8h1M250.7 357.0h1M300.8 304.6h1M323.2 305.0h1M281.9 321.9h1M391.0 247.8h1M389.7 270.5h1M319.6 312.1h1M410.7 265.1h1M318.6 316.3h1M327.7 271.9h1M290.0 344.2h1M377.4 292.2h1M400.5 289.0h1M316.6 268.4h1M356.0 262.3h1M344.9 292.8h1M397.3 216.3h1M426.7 224.8h1M455.3 195.9h1M326.7 359.5h1M303.4 344.0h1M367.2 231.6h1M368.5 296.1h1M427.6 226.5h1M291.8 326.0h1M348.0 303.4h1M415.0 234.1h1M377.3 267.2h1M328.0 333.6h1M346.2 254.3h1M328.0 324.4h1M338.4 260.7h1M336.4 318.8h1M309.9 342.0h1M322.5 337.1h1M402.8 218.4h1M349.6 236.9h1M400.8 302.8h1M349.5 269.3h1M378.7 259.1h1M387.7 241.6h1M271.6 369.0h1M338.9 339.5h1M387.5 289.3h1M323.1 293.0h1M305.4 335.7h1M277.4 337.8h1M438.8 238.8h1M372.8 293.3h1M366.2 267.8h1M423.9 191.7h1M384.4 260.8h1M326.4 332.9h1M374.0 264.5h1M313.5 302.5h1M322.5 307.4h1M365.2 278.6h1M300.1 300.2h1M356.3 276.0h1M242.2 369.2h1M282.1 343.7h1M372.1 283.9h1M454.4 100.1h1M294.8 325.9h1M407.4 278.9h1M264.8 350.8h1M398.6 261.3h1M330.8 339.4h1M299.5 291.6h1M327.9 309.0h1M302.0 309.7h1M339.4 311.1h1M404.8 254.0h1M323.2 352.2h1M425.8 213.0h1M421.8 228.6h1M360.6 294.8h1M504.6 94.5h1M308.8 336.9h1M371.8 288.7h1M289.7 318.6h1M365.0 284.1h1M358.2 269.3h1M483.5 101.3h1M325.5 282.4h1M275.1 336.6h1M396.7 281.0h1M317.4 368.9h1M415.8 216.6h1M422.4 221.1h1M364.7 281.3h1M295.6 310.0h1M322.1 331.4h1M292.4 318.8h1M282.2 312.9h1M319.2 252.1h1M392.9 258.7h1M317.3 267.1h1M440.4 160.8h1M519.0 172.3h1M337.4 316.4h1M332.4 350.4h1M299.9 317.8h1M398.7 222.3h1M337.7 297.1h1M365.9 274.5h1M393.9 252.7h1M444.0 218.5h1M290.0 370.8h1M294.8 336.2h1M393.5 272.0h1M301.3 360.9h1M330.9 265.9h1M437.7 224.6h1M275.6 360.9h1M333.9 294.9h1M369.0 262.6h1M355.9 310.3h1M309.2 371.4h1M256.6 335.7h1M300.3 299.5h1M325.8 304.4h1M331.8 327.5h1M336.8 318.8h1M423.1 220.2h1M423.3 219.8h1M345.7 241.7h1M469.0 228.7h1M483.9 8.4h1M396.7 226.8h1M327.8 325.5h1M422.3 250.0h1M329.7 327.4h1M303.3 332.0h1M488.8 113.7h1M419.4 163.3h1M451.5 200.0h1M384.1 351.1h1M431.1 236.2h1M391.5 234.9h1M386.3 241.8h1M471.3 206.0h1M369.5 268.0h1M438.1 203.8h1M348.2 243.9h1M432.0 189.0h1M345.2 305.3h1M253.5 339.9h1M390.4 243.2h1M379.5 265.3h1M315.6 297.1h1M291.4 332.6h1M287.5 310.8h1M305.6 325.1h1M336.3 311.5h1M333.6 252.7h1M342.9 266.0h1M380.9 249.3h1M472.8 182.4h1M494.2 175.4h1M308.2 329.7h1M416.0 238.3h1M398.6 279.6h1M436.1 215.7h1M290.8 347.0h1M328.6 265.0h1M363.5 291.2h1M341.6 294.7h1M289.2 376.3h1M292.3 335.2h1M366.6 298.8h1M420.7 253.4h1M396.0 250.4h1M395.0 254.2h1M447.3 159.0h1M381.1 256.1h1M415.8 216.3h1M305.4 308.2h1M311.7 346.1h1M362.7 291.2h1M524.3 39.5h1M331.1 302.2h1M387.6 284.5h1M353.9 265.8h1M273.0 359.2h1M368.4 279.0h1M300.1 348.9h1M413.0 276.6h1M455.8 230.3h1M306.2 289.6h1M380.0 274.9h1M339.5 252.5h1M283.6 313.6h1M272.7 327.9h1M334.9 277.4h1M323.1 343.0h1M420.0 243.0h1M473.9 171.2h1M323.6 337.8h1M458.1 213.8h1M367.5 246.5h1M384.0 273.5h1M449.4 117.5h1M306.6 314.4h1M296.0 335.2h1M366.0 273.7h1M383.3 238.3h1M392.0 284.9h1M435.1 259.1h1M331.7 318.4h1M378.8 243.7h1M377.7 288.1h1M360.1 276.6h1M363.6 262.2h1M353.4 294.3h1M394.2 299.1h1M416.0 219.0h1M448.5 121.7h1M333.7 334.0h1M263.4 340.8h1M313.4 302.4h1M465.7 208.0h1M472.2 171.5h1M316.7 333.1h1M419.7 209.0h1M444.7 199.3h1M314.5 309.6h1M386.2 247.2h1M322.2 353.2h1M423.3 237.0h1M385.8 168.3h1M304.4 312.9h1M362.3 256.3h1M384.8 253.0h1M378.1 284.0h1M296.1 354.8h1M412.5 242.4h1M423.8 245.9h1M318.8 342.5h1M411.6 200.6h1M317.0 283.8h1M412.9 204.2h1M282.8 300.2h1M342.4 267.3h1M369.6 251.5h1M384.9 237.5h1M334.3 334.6h1M377.3 289.0h1M270.3 341.7h1M332.5 235.3h1M380.0 281.4h1M298.1 328.5h1M429.1 227.0h1M359.1 246.3h1M376.5 284.9h1M338.5 328.6h1M380.0 261.6h1M474.3 205.1h1M344.8 268.8h1M308.5 322.0h1M257.8 312.4h1M320.3 333.7h1M385.4 268.1h1M340.0 291.8h1M427.2 265.7h1M374.7 251.9h1M315.2 329.8h1M403.6 243.0h1M332.4 280.5h1M373.2 307.3h1M244.0 330.2h1M476.1 180.2h1M398.0 255.9h1M384.5 250.7h1M407.4 227.3h1M375.6 306.5h1M332.9 263.7h1M341.8 257.0h1M385.2 270.2h1M391.9 229.4h1M295.6 337.8h1M445.6 200.9h1M357.9 306.5h1M418.4 235.5h1M342.2 283.4h1M287.8 340.6h1M444.2 184.7h1M236.2 347.2h1M324.7 314.1h1M452.2 172.4h1M303.4 304.4h1M350.4 296.3h1M266.4 318.4h1M368.1 228.1h1M243.5 391.1h1M322.7 344.2h1M358.9 254.7h1M349.5 311.6h1M329.5 329.2h1M431.2 246.0h1M237.8 302.2h1M311.6 353.7h1M473.9 203.6h1M349.4 337.8h1M315.4 347.7h1M289.3 359.2h1M356.0 333.6h1M384.1 237.0h1M437.9 206.3h1M370.4 293.1h1M386.1 252.6h1M293.6 298.6h1M408.3 221.8h1M463.6 98.6h1M309.7 314.0h1M416.0 237.4h1M370.2 315.8h1M432.4 262.0h1M421.7 250.0h1M334.3 276.5h1M301.2 311.8h1M310.1 325.1h1M279.1 336.9h1M421.4 203.3h1M477.2 167.4h1M423.7 263.6h1M325.5 306.5h1M311.3 313.6h1M415.5 226.4h1M282.2 326.7h1M396.4 261.4h1M262.2 350.4h1M299.4 322.0h1M360.0 295.3h1M302.9 271.2h1M281.3 322.0h1M347.6 314.4h1M305.3 348.3h1M327.8 341.8h1M451.0 193.2h1M375.6 348.4h1M356.5 303.5h1M325.0 275.7h1M463.6 184.2h1M350.5 237.6h1M393.5 281.7h1M360.9 283.2h1M316.6 322.8h1M358.9 252.8h1M325.2 274.4h1M301.5 333.1h1M284.2 352.4h1M266.2 308.8h1M347.1 275.4h1M401.4 263.1h1M318.6 313.4h1M434.4 265.7h1M341.0 265.6h1M383.5 238.4h1M343.4 309.9h1M388.1 210.8h1M376.9 265.4h1M342.1 312.1h1M278.3 327.0h1M311.2 307.7h1M365.8 313.7h1M301.4 297.6h1M456.0 100.7h1M405.3 250.4h1M451.2 221.5h1M305.6 314.6h1M407.9 288.2h1M395.7 249.6h1M382.6 298.7h1M356.3 212.6h1M349.1 293.5h1M291.9 336.6h1M391.6 224.4h1M339.6 272.3h1M276.7 316.0h1M309.0 336.9h1M342.6 295.9h1M456.7 166.2h1M275.0 319.3h1M404.3 236.7h1M377.2 264.7h1M264.0 351.5h1M262.0 352.5h1M460.8 47.3h1M412.5 249.3h1M371.1 273.9h1M294.7 316.2h1M283.8 332.6h1M458.1 165.4h1M312.0 324.0h1M375.6 253.2h1M328.6 350.7h1M356.0 279.5h1M430.6 211.7h1M397.3 245.8h1M399.3 268.2h1M289.8 384.1h1M393.4 302.0h1M326.0 326.7h1M429.5 254.8h1M412.8 242.9h1M412.3 237.2h1M418.3 251.2h1M326.3 307.8h1M353.7 244.6h1M351.5 254.5h1M371.7 289.6h1M477.6 216.7h1M287.5 335.7h1M294.5 355.7h1M400.7 273.4h1M376.3 290.1h1M398.9 292.1h1M367.8 267.9h1M394.9 247.2h1M351.3 298.3h1M257.9 331.6h1M428.6 223.5h1M266.6 374.5h1M338.0 271.7h1M364.1 259.4h1M479.1 179.0h1M270.1 358.1h1M484.0 165.5h1M292.2 333.9h1M296.8 313.8h1M292.8 342.7h1M298.9 334.2h1M303.8 313.2h1M303.6 314.6h1M297.7 335.7h1M303.4 314.7h1M307.9 339.0h1M297.8 313.7h1M297.4 300.8h1M290.1 325.5h1M290.0 316.8h1M304.4 305.9h1M315.2 334.3h1M319.4 293.0h1M314.9 318.4h1M308.2 303.8h1M310.9 307.4h1M329.7 312.0h1M295.5 332.5h1M305.6 300.0h1M306.0 334.5h1M302.0 311.2h1M311.6 335.9h1M291.0 335.5h1M299.2 306.1h1M307.5 329.6h1M304.7 314.6h1M323.0 283.7h1M306.0 317.8h1M294.9 319.9h1M319.5 313.2h1M298.2 327.7h1M311.8 307.9h1M296.9 333.9h1M296.9 296.4h1M306.1 303.5h1M300.7 304.9h1M296.6 305.5h1M356.8 312.3h1M296.0 301.5h1M290.3 322.8h1M303.0 308.9h1M311.9 303.6h1M316.8 308.6h1M314.9 300.5h1M290.3 315.2h1M290.2 341.0h1M315.6 312.2h1M321.3 296.6h1M327.4 312.4h1M302.9 320.7h1M294.2 320.0h1M291.9 327.7h1M295.3 313.6h1M309.4 328.9h1M303.9 311.3h1M310.2 314.8h1M321.6 324.5h1M308.4 316.8h1M289.7 321.0h1M316.1 319.0h1M278.0 314.9h1M307.4 325.9h1M313.5 332.1h1M296.7 330.9h1M305.6 327.2h1M281.4 329.6h1M316.0 306.9h1M319.0 313.5h1M285.1 329.0h1M338.7 318.7h1M301.3 286.6h1M321.5 306.2h1M293.3 325.6h1M322.5 318.8h1M315.5 349.6h1M302.1 319.5h1M300.8 336.5h1M271.7 332.4h1M309.6 325.1h1M318.0 309.9h1M333.5 313.1h1M300.3 307.4h1M292.1 339.6h1M314.8 306.5h1M290.4 304.8h1M309.8 318.4h1M310.1 341.2h1M275.2 340.1h1M287.3 306.0h1M308.7 305.9h1M270.8 321.1h1M287.2 323.1h1M287.8 316.5h1M290.9 335.4h1M283.4 339.1h1M310.2 320.4h1M311.8 323.1h1M271.2 315.3h1M314.9 306.6h1M312.3 324.0h1M303.9 314.5h1M302.3 328.8h1M298.8 340.4h1M292.9 327.1h1M315.1 320.6h1M288.0 321.3h1M304.5 323.2h1M300.0 315.8h1M307.8 307.3h1M303.8 308.7h1M293.5 326.0h1M298.8 293.9h1M309.6 331.0h1M331.5 317.5h1M292.7 332.4h1M304.9 320.3h1M316.2 323.7h1M303.3 325.2h1M304.1 328.0h1M325.6 314.0h1M315.2 328.9h1M307.6 302.3h1M297.9 311.5h1M302.4 298.0h1M307.8 327.0h1M311.8 295.2h1M285.4 324.3h1M306.3 334.1h1M297.8 330.9h1M319.4 349.8h1M283.1 310.2h1M298.1 310.8h1M304.3 314.7h1M288.2 308.6h1M296.7 332.9h1M328.9 314.3h1M295.9 293.6h1M301.9 328.3h1M315.2 346.8h1M323.8 323.5h1M328.9 309.1h1M298.2 328.7h1M322.8 319.2h1M305.3 295.3h1M298.5 329.0h1M307.8 297.1h1M294.4 309.0h1M288.5 314.5h1M311.9 312.2h1M320.9 318.3h1M300.4 331.2h1M284.5 339.4h1M312.7 312.3h1M280.4 323.4h1M296.8 317.3h1M291.4 333.8h1M306.2 318.1h1M302.1 325.5h1M295.0 311.7h1M303.4 326.5h1M304.4 328.5h1M292.8 320.7h1M298.9 318.4h1M301.5 322.2h1M307.1 311.3h1M324.7 311.5h1M293.2 317.1h1M330.7 321.6h1M313.7 331.6h1M291.8 319.1h1M313.2 327.2h1M268.5 351.0h1M302.9 315.2h1M299.9 312.1h1M322.5 323.6h1M322.6 347.5h1M289.2 320.5h1M294.3 314.6h1M307.4 315.2h1M303.7 340.1h1M310.2 309.5h1M297.5 319.6h1M292.3 322.9h1M307.7 323.3h1M289.6 321.7h1M295.7 329.2h1M291.5 340.4h1M300.0 309.4h1M312.9 312.3h1M286.9 327.5h1M296.6 327.8h1M304.5 314.6h1M298.2 305.3h1M280.9 320.9h1M313.1 315.4h1M300.8 326.2h1M275.0 318.9h1M304.2 299.8h1M299.7 319.7h1M313.1 311.2h1M315.7 303.6h1M292.6 321.9h1M305.6 316.2h1M299.8 318.9h1M305.9 313.5h1M316.7 316.9h1M298.4 334.1h1M302.8 333.2h1M323.1 321.5h1M311.0 327.0h1M313.3 317.6h1M303.3 304.3h1M288.7 316.9h1M314.3 340.0h1M300.9 318.9h1M303.5 316.2h1M306.0 317.0h1M310.9 303.7h1M302.6 307.6h1M296.2 318.0h1M300.3 323.8h1M288.7 325.0h1M325.3 327.8h1M313.9 310.1h1M315.3 321.9h1M318.3 322.4h1M328.4 284.3h1M317.3 312.2h1M290.0 332.7h1M328.7 298.7h1M310.6 305.9h1M298.5 334.8h1M298.4 305.9h1M307.9 304.7h1M319.4 318.8h1M312.1 306.0h1M296.5 311.8h1M297.6 344.4h1M291.5 316.7h1M319.6 301.7h1M315.0 332.3h1M317.8 332.5h1M291.9 340.3h1M284.4 335.6h1M288.9 312.7h1M311.8 312.4h1M308.7 320.0h1M304.0 325.5h1M308.4 309.5h1M300.7 331.6h1M291.1 316.6h1M294.5 313.1h1M299.5 326.7h1M319.1 328.9h1M287.0 332.4h1M283.7 329.9h1M307.1 312.4h1M307.9 313.0h1M313.4 325.8h1M293.0 320.8h1M300.4 321.7h1M295.2 325.6h1M271.0 312.9h1M316.9 308.9h1M309.9 327.4h1M300.8 315.6h1M317.1 328.5h1M308.0 310.6h1M311.5 303.7h1M286.8 326.1h1M305.1 329.5h1M303.3 326.1h1M328.5 305.2h1M304.6 311.9h1M305.8 314.8h1M302.2 313.6h1M310.9 336.7h1M317.4 341.8h1M313.7 318.0h1M324.0 322.0h1M307.6 317.2h1M310.4 317.0h1M305.3 323.5h1M294.7 332.9h1M297.6 310.7h1M309.5 325.5h1M304.8 333.0h1M288.2 328.5h1M302.3 307.9h1M317.5 314.9h1M314.6 285.6h1M305.6 320.2h1M307.3 341.9h1M315.3 328.6h1M333.4 299.7h1M289.1 320.2h1M281.5 331.6h1M297.6 301.4h1M290.5 322.2h1M328.7 313.2h1M294.4 339.0h1M307.9 332.6h1M310.2 316.9h1M321.2 313.3h1M308.0 325.3h1M302.1 298.1h1M313.8 327.9h1M303.2 321.1h1M291.9 326.6h1M299.1 346.6h1M296.4 322.9h1M303.6 333.1h1M305.2 322.0h1M301.0 305.1h1M303.7 300.3h1M295.4 317.7h1M295.7 301.4h1M312.5 312.6h1M320.0 327.9h1M311.2 316.3h1M306.6 346.7h1M298.2 344.6h1M307.3 317.3h1M322.4 316.6h1M302.4 332.4h1M313.5 330.0h1M303.1 319.1h1M329.1 292.7h1M325.3 314.8h1M337.3 321.7h1M324.0 300.9h1M334.8 296.8h1M331.6 322.9h1M294.4 327.0h1M313.0 299.3h1M308.2 311.6h1M311.2 329.5h1M302.0 328.7h1M338.3 328.5h1M319.7 328.5h1M315.3 302.3h1M321.2 307.8h1M308.8 331.8h1M306.0 306.1h1M309.5 314.0h1M304.2 345.1h1M294.4 311.5h1M318.6 302.6h1M315.5 323.0h1M282.6 318.4h1M307.9 310.1h1M305.0 319.3h1M299.5 320.2h1M330.4 309.6h1M320.3 311.4h1M312.1 320.3h1M298.4 322.3h1M300.5 324.2h1M319.2 317.2h1M301.1 322.5h1M320.3 320.6h1M319.8 299.4h1M307.3 309.5h1M309.2 317.1h1M318.5 298.2h1M300.5 337.4h1M307.2 329.4h1M325.8 317.9h1M325.8 304.4h1M324.6 315.0h1M307.7 300.9h1M317.9 322.6h1M299.8 311.2h1M305.8 324.4h1M310.9 321.6h1M315.7 319.3h1M290.7 327.1h1M306.5 320.5h1M300.7 307.1h1M307.5 325.3h1M301.3 321.7h1M326.6 326.7h1M305.0 306.9h1M300.2 308.9h1M316.1 305.5h1M301.8 304.7h1M289.6 339.1h1M297.9 313.0h1M289.5 340.7h1M322.9 334.8h1M312.9 321.2h1M297.3 325.2h1M320.0 332.4h1M295.8 312.1h1M329.3 306.7h1M305.6 328.5h1M317.9 344.5h1M290.8 337.0h1M314.2 310.4h1M293.5 318.6h1M292.3 329.2h1M306.2 322.9h1M309.8 295.1h1M307.6 332.0h1M298.8 325.5h1M319.8 324.6h1M288.0 321.6h1M303.3 297.8h1M302.2 321.8h1M325.6 287.1h1M315.7 325.4h1M310.9 303.7h1M307.9 315.6h1M299.1 298.8h1M281.7 328.9h1M293.5 314.8h1M308.5 304.7h1M297.1 325.2h1M311.5 305.7h1M320.7 330.9h1M295.8 326.1h1M320.3 321.8h1M296.7 307.2h1M290.1 312.3h1M303.7 330.7h1M288.1 309.8h1M284.5 319.2h1M281.6 339.9h1M313.2 302.2h1M320.9 303.2h1M310.5 322.6h1M294.9 333.7h1M313.3 331.1h1M312.4 326.0h1M296.3 305.8h1M295.2 309.5h1M299.3 339.3h1M292.5 329.7h1M322.6 304.1h1M282.5 324.2h1M286.0 309.8h1M317.5 310.0h1M288.5 324.6h1M298.4 323.1h1M308.9 330.0h1M306.4 336.5h1M302.0 339.9h1M309.3 315.9h1M316.6 343.3h1M291.2 307.6h1M312.3 319.2h1M316.8 318.5h1M322.7 312.4h1M316.1 324.3h1M301.4 316.4h1M300.1 293.1h1M319.0 296.5h1M309.3 326.0h1M310.5 298.1h1M293.6 315.0h1M281.7 331.3h1M305.5 328.9h1M308.9 308.8h1M290.8 321.5h1M320.1 311.2h1M313.7 333.8h1M276.4 320.1h1M304.9 303.8h1M315.7 316.6h1M304.1 315.8h1M294.4 315.2h1M308.4 340.7h1M317.2 310.6h1M297.0 326.3h1M320.1 311.6h1M316.0 321.4h1M323.2 287.3h1M302.1 336.7h1M319.1 310.3h1M307.7 329.4h1M312.1 342.8h1M312.7 319.9h1M310.7 317.6h1M315.6 315.6h1M298.4 323.5h1M305.4 299.3h1M300.6 288.1h1M316.5 315.2h1M311.4 325.0h1M282.4 315.1h1M310.6 319.2h1M301.7 314.8h1M315.4 325.0h1M286.0 318.4h1M299.6 298.0h1M277.9 327.5h1M279.3 324.7h1M291.7 343.4h1M320.7 335.6h1M305.4 315.7h1M272.7 326.5h1M289.1 335.5h1M338.8 330.9h1M289.1 320.9h1M309.3 333.0h1M291.7 322.8h1M299.3 316.5h1M284.0 318.9h1M276.0 332.7h1M318.1 295.1h1M320.7 303.1h1M306.6 307.3h1M292.2 325.6h1M297.6 315.3h1M288.2 337.2h1M302.5 306.5h1M286.5 315.9h1M321.9 327.7h1M326.0 302.2h1M315.7 318.2h1M312.9 313.4h1M292.2 330.3h1M296.4 343.6h1M301.9 327.1h1M304.6 327.3h1M290.6 304.0h1M304.2 333.4h1M304.9 327.7h1M300.2 307.4h1M323.6 292.2h1M303.9 329.9h1M314.9 286.9h1M334.1 321.6h1M308.5 314.6h1M297.2 322.5h1M308.2 292.3h1M314.9 310.1h1M291.8 313.7h1M295.4 322.0h1M298.7 317.7h1M286.3 328.7h1M292.9 321.8h1M321.6 326.8h1M310.1 318.6h1M280.2 334.5h1M311.3 320.3h1M311.6 350.8h1M317.5 303.2h1M293.7 311.1h1M278.1 308.1h1M286.4 318.8h1M287.1 311.5h1M287.5 313.4h1M297.4 326.1h1M313.5 313.8h1M295.1 320.2h1M298.1 312.6h1M323.2 316.4h1M275.8 343.4h1M306.7 304.5h1M301.2 345.7h1M305.6 310.5h1M295.8 329.8h1M317.4 330.1h1M298.9 321.1h1M296.7 304.5h1M311.6 314.3h1M314.3 316.6h1M310.7 312.7h1M314.4 322.8h1M318.8 330.3h1M302.7 321.0h1M296.5 325.2h1M300.9 315.4h1M300.7 330.8h1M320.9 311.4h1M303.0 318.8h1M400.7 5.6h1M453.7 4.0h1M455.3 7.0h1M94.2 12.9h1M245.7 11.8h1M344.4 16.5h1M409.2 23.6h1M461.3 25.8h1M519.9 30.8h1M415.8 34.3h1M406.6 45.3h1M411.3 45.5h1M511.7 43.2h1M272.0 47.6h1M306.8 48.9h1M131.1 53.2h1M301.9 50.8h1M464.6 50.7h1M293.3 54.5h1M434.4 54.9h1M487.4 58.0h1M344.1 60.5h1M413.0 60.4h1M424.4 60.8h1M553.7 60.2h1M275.6 64.6h1M341.6 62.8h1M371.9 63.2h1M378.1 63.2h1M415.0 65.8h1M446.9 64.4h1M274.3 70.0h1M314.6 66.3h1M322.8 67.3h1M502.4 69.2h1M511.2 69.8h1M285.7 70.3h1M392.2 73.0h1M302.6 76.4h1M484.8 77.1h1M500.1 74.3h1M198.0 78.7h1M232.0 78.2h1M270.9 78.1h1M278.5 78.7h1M298.6 80.1h1M233.2 85.4h1M244.4 85.9h1M310.7 82.7h1M324.1 85.6h1M347.9 85.8h1M351.9 84.1h1M442.7 83.6h1M228.1 88.6h1M325.1 88.9h1M363.2 89.1h1M381.9 88.4h1M448.3 87.2h1M231.4 91.2h1M298.1 91.5h1M331.9 90.8h1M359.0 93.8h1M423.7 91.8h1M536.1 92.8h1M545.7 92.6h1M219.7 94.4h1M225.4 97.6h1M240.0 97.2h1M349.0 95.5h1M374.7 97.4h1M408.7 96.6h1M437.0 95.5h1M231.5 100.3h1M233.9 99.3h1M243.7 98.5h1M256.7 101.1h1M346.7 100.9h1M373.5 101.1h1M457.2 101.6h1M157.0 104.4h1M191.4 102.8h1M223.8 104.6h1M238.6 103.3h1M273.1 102.0h1M363.7 102.4h1M466.6 103.1h1M470.8 105.2h1M208.1 106.4h1M245.1 107.3h1M331.9 109.6h1M346.0 108.9h1M345.5 107.0h1M361.4 109.6h1M370.9 108.9h1M594.0 106.2h1M330.7 110.4h1M335.6 111.9h1M371.6 113.5h1M371.1 113.8h1M398.6 110.6h1M499.7 110.2h1M212.1 115.0h1M285.9 117.4h1M367.7 117.4h1M422.1 115.2h1M430.0 116.9h1M477.7 117.1h1M509.9 117.4h1M241.8 120.2h1M269.9 121.1h1M293.3 119.0h1M314.6 119.6h1M332.5 119.6h1M334.5 121.0h1M355.6 120.9h1M205.9 125.0h1M250.3 123.6h1M258.4 125.5h1M353.1 125.8h1M379.5 125.0h1M382.2 122.3h1M442.2 125.7h1M215.9 126.1h1M217.8 127.2h1M325.1 129.8h1M524.8 128.2h1M348.4 133.8h1M371.0 133.1h1M431.9 130.8h1M450.5 133.3h1M471.8 131.2h1M498.2 130.6h1M190.8 134.9h1M207.0 134.8h1M249.5 136.8h1M261.9 137.6h1M345.2 136.4h1M359.2 134.3h1M368.2 134.1h1M468.3 135.2h1M149.4 140.3h1M263.4 138.6h1M305.1 138.0h1M317.1 138.8h1M356.8 139.9h1M375.4 138.3h1M397.7 140.8h1M226.4 142.3h1M249.6 144.5h1M255.8 146.0h1M254.0 144.4h1M260.7 145.9h1M266.1 145.4h1M291.9 145.8h1M311.0 143.2h1M357.6 143.4h1M426.7 142.0h1M438.7 142.9h1M495.6 143.4h1M131.2 146.8h1M248.3 146.8h1M329.0 148.1h1M336.3 149.5h1M353.7 149.8h1M359.0 149.0h1M379.3 148.1h1M465.2 147.6h1M152.9 152.3h1M185.1 150.3h1M244.0 150.7h1M282.6 150.3h1M321.5 153.8h1M372.9 151.6h1M499.7 153.0h1M196.4 155.4h1M255.1 157.7h1M270.5 157.5h1M271.9 155.2h1M277.0 154.9h1M291.2 157.1h1M308.9 156.3h1M312.1 156.5h1M320.6 156.7h1M329.2 157.0h1M340.4 154.9h1M352.7 156.6h1M352.7 156.9h1M417.5 155.7h1M204.9 161.5h1M215.2 161.3h1M214.2 161.8h1M243.5 159.3h1M246.7 159.5h1M272.1 162.0h1M276.0 161.1h1M279.7 160.1h1M284.2 160.4h1M284.2 161.4h1M303.2 159.1h1M377.7 159.7h1M379.1 158.9h1M425.8 159.1h1M425.6 161.9h1M429.0 160.8h1M507.4 158.4h1M245.9 162.8h1M292.1 165.1h1M293.4 164.6h1M297.7 163.7h1M344.8 163.4h1M371.0 162.5h1M381.2 164.0h1M389.7 165.0h1M452.1 162.4h1M63.8 169.9h1M230.6 166.7h1M243.5 166.0h1M248.4 168.7h1M265.9 166.6h1M295.6 169.8h1M320.9 166.8h1M350.1 166.4h1M360.9 166.9h1M382.8 168.4h1M398.4 169.6h1M438.1 167.4h1M150.6 170.3h1M198.0 172.3h1M200.4 170.5h1M246.5 173.1h1M261.0 171.0h1M279.3 171.8h1M286.4 171.4h1M290.1 172.6h1M290.1 172.0h1M320.0 173.0h1M334.5 173.4h1M363.5 172.8h1M407.2 170.2h1M417.5 170.3h1M524.8 172.4h1M577.5 171.0h1M173.6 175.6h1M195.5 176.6h1M208.1 177.0h1M221.6 177.6h1M240.2 176.9h1M269.0 176.0h1M269.4 176.9h1M300.7 177.1h1M301.9 177.9h1M306.8 176.9h1M308.9 174.5h1M306.5 174.0h1M353.1 177.0h1M363.4 177.5h1M377.6 174.8h1M437.9 175.5h1M455.9 174.0h1M214.7 181.7h1M222.1 179.3h1M264.9 178.5h1M284.9 178.4h1M362.0 178.4h1M372.0 181.3h1M384.1 179.4h1M382.0 180.8h1M400.4 179.7h1M464.1 181.9h1M493.3 179.3h1M133.0 183.3h1M236.6 185.1h1M260.7 185.6h1M293.3 185.9h1M294.9 184.3h1M296.5 185.1h1M304.0 182.9h1M339.0 185.0h1M347.3 185.2h1M358.0 185.5h1M364.6 182.9h1M391.5 184.7h1M448.2 184.3h1M450.2 184.2h1M476.9 184.9h1M509.5 184.0h1M182.9 187.5h1M191.1 188.3h1M198.2 188.0h1M233.9 186.6h1M260.4 189.2h1M281.9 187.0h1M283.9 189.8h1M305.1 188.5h1M315.4 188.2h1M319.1 187.5h1M318.4 186.2h1M335.2 187.0h1M337.6 188.4h1M346.2 189.8h1M356.8 187.6h1M363.2 189.8h1M420.4 189.1h1M424.1 187.3h1M459.1 187.8h1M485.5 188.3h1M177.6 193.3h1M197.4 191.0h1M233.3 192.5h1M272.8 192.8h1M286.9 191.8h1M302.8 191.4h1M313.1 191.3h1M326.6 190.1h1M329.4 192.1h1M348.8 192.1h1M353.4 192.5h1M375.5 190.6h1M379.4 191.0h1M412.5 192.7h1M445.6 190.2h1M476.6 193.3h1M181.9 195.5h1M188.6 194.1h1M209.9 194.7h1M224.5 197.2h1M225.0 197.1h1M240.0 194.3h1M248.5 194.6h1M271.3 195.6h1M275.4 194.6h1M311.3 195.2h1M321.0 197.5h1M360.2 196.7h1M363.7 197.7h1M365.2 194.2h1M375.7 194.2h1M400.0 197.2h1M454.4 195.2h1M487.6 196.2h1M215.3 201.1h1M275.8 201.4h1M285.4 198.8h1M288.5 198.5h1M293.5 201.0h1M305.8 201.2h1M340.2 200.3h1M337.7 200.9h1M351.0 201.7h1M352.9 201.1h1M406.8 199.3h1M428.7 199.5h1M548.6 201.5h1M165.5 202.1h1M203.7 202.7h1M215.3 205.5h1M242.4 205.5h1M286.0 204.4h1M300.9 204.7h1M315.6 203.2h1M335.9 202.4h1M372.7 202.1h1M386.6 202.9h1M410.6 203.5h1M414.8 203.2h1M460.3 205.8h1M477.0 205.8h1M492.1 204.1h1M508.1 205.8h1M580.0 202.6h1M174.3 209.0h1M233.5 207.1h1M236.8 208.7h1M243.7 209.1h1M264.2 208.8h1M282.4 207.6h1M281.2 209.8h1M311.3 207.6h1M316.9 209.0h1M317.2 209.8h1M334.7 206.2h1M343.1 208.2h1M353.0 209.7h1M349.5 206.3h1M379.6 206.3h1M404.4 206.3h1M163.4 213.6h1M244.7 210.0h1M255.6 212.0h1M254.0 212.7h1M275.2 213.2h1M274.5 213.1h1M291.3 211.7h1M314.2 210.9h1M358.0 210.8h1M372.3 212.8h1M372.7 211.0h1M388.5 212.6h1M387.6 210.5h1M408.7 211.4h1M407.4 210.4h1M514.1 213.6h1M169.0 214.8h1M238.0 217.6h1M251.1 218.0h1M258.5 215.7h1M271.2 215.2h1M278.4 214.9h1M295.6 216.2h1M295.8 217.6h1M302.7 214.2h1M312.7 214.2h1M323.6 214.1h1M324.1 217.5h1M347.5 216.3h1M398.3 217.6h1M413.3 214.8h1M425.3 215.3h1M426.7 217.6h1M441.9 218.0h1M462.0 216.4h1M153.4 221.2h1M190.2 220.2h1M244.0 220.6h1M248.9 221.3h1M255.4 219.3h1M289.2 221.7h1M291.7 219.8h1M293.1 221.3h1M300.9 220.4h1M305.0 218.6h1M321.7 219.5h1M327.1 218.1h1M330.2 220.2h1M357.7 220.9h1M368.5 218.6h1M371.7 218.1h1M382.9 221.9h1M390.7 219.4h1M394.9 219.0h1M402.3 222.0h1M427.4 221.7h1M467.1 221.1h1M484.4 221.9h1M521.6 221.0h1M222.4 222.9h1M228.9 225.9h1M227.2 223.6h1M237.8 225.8h1M256.5 222.4h1M261.3 224.5h1M276.7 222.6h1M277.7 225.1h1M315.2 224.2h1M337.8 225.4h1M347.7 223.6h1M366.3 223.7h1M369.4 225.9h1M374.7 222.3h1M373.0 225.8h1M397.0 225.0h1M415.7 223.1h1M421.7 222.2h1M477.4 223.3h1M213.2 228.6h1M224.9 226.5h1M248.0 226.6h1M248.2 228.6h1M260.6 226.9h1M279.3 228.7h1M322.5 226.5h1M322.5 227.4h1M335.2 228.4h1M362.9 227.9h1M368.9 229.5h1M397.0 229.2h1M409.5 227.1h1M446.5 226.3h1M450.1 226.8h1M456.4 229.6h1M475.2 226.6h1M151.5 232.5h1M251.9 232.6h1M257.6 232.0h1M268.9 233.0h1M268.8 231.4h1M267.9 231.5h1M286.4 230.3h1M289.2 231.5h1M321.6 233.5h1M332.4 231.4h1M344.9 232.6h1M347.7 231.5h1M353.3 230.8h1M375.5 230.6h1M424.8 233.6h1M426.0 231.2h1M432.7 231.5h1M466.5 232.2h1M502.3 231.4h1M176.1 237.2h1M181.1 235.0h1M181.1 236.1h1M185.2 236.7h1M203.3 236.5h1M231.7 235.6h1M233.7 235.4h1M260.1 235.1h1M268.6 234.1h1M280.3 236.4h1M288.9 237.0h1M290.5 236.1h1M326.5 234.0h1M354.9 235.7h1M374.2 237.5h1M377.7 235.4h1M420.4 237.4h1M453.6 236.3h1M69.9 241.2h1M125.0 239.6h1M132.8 241.6h1M235.3 238.4h1M242.7 239.5h1M260.9 238.8h1M281.5 240.8h1M291.4 240.2h1M296.0 240.3h1M300.0 239.3h1M364.8 239.9h1M361.2 240.2h1M378.8 239.8h1M400.7 238.3h1M408.3 238.2h1M411.3 238.1h1M422.9 239.6h1M460.6 238.5h1M128.5 243.0h1M189.3 243.9h1M200.9 243.5h1M220.5 243.9h1M252.5 245.6h1M256.0 242.9h1M277.8 244.8h1M278.0 245.7h1M287.0 245.5h1M311.4 242.1h1M313.6 242.9h1M314.6 243.5h1M314.3 242.3h1M319.8 242.2h1M348.2 243.7h1M347.9 244.7h1M414.7 245.0h1M430.0 244.3h1M439.4 244.7h1M448.5 244.3h1M458.9 244.0h1M141.8 248.8h1M148.8 248.2h1M178.6 249.4h1M195.7 246.4h1M208.0 248.5h1M212.1 246.0h1M224.7 249.4h1M223.1 249.5h1M228.3 249.6h1M236.5 247.3h1M234.4 248.2h1M255.1 249.6h1M259.2 246.0h1M271.1 247.2h1M273.0 247.0h1M274.8 248.6h1M275.5 249.0h1M278.7 247.6h1M287.1 248.8h1M296.7 248.2h1M310.6 246.4h1M359.2 246.8h1M364.7 246.4h1M368.3 248.4h1M412.5 248.2h1M426.1 247.2h1M438.7 247.1h1M452.3 247.8h1M479.0 246.5h1M579.8 246.4h1M237.9 252.9h1M241.8 251.0h1M249.8 250.8h1M252.0 253.8h1M269.4 252.4h1M284.5 253.7h1M285.4 250.0h1M295.2 250.8h1M303.5 253.7h1M305.2 253.1h1M320.8 252.9h1M330.8 251.2h1M349.6 253.3h1M359.9 252.5h1M444.7 251.3h1M484.6 250.5h1M490.2 253.9h1M203.2 255.3h1M227.7 256.4h1M244.3 255.9h1M255.8 255.3h1M282.3 256.9h1M293.2 254.6h1M312.4 255.0h1M318.8 257.0h1M335.1 254.9h1M341.9 255.6h1M350.3 257.7h1M425.0 254.3h1M427.7 256.1h1M465.1 257.7h1M487.3 256.9h1M193.6 261.9h1M196.3 258.5h1M201.8 258.4h1M226.9 260.2h1M241.4 259.1h1M252.6 258.4h1M251.8 260.2h1M275.8 258.7h1M281.5 258.1h1M286.6 259.6h1M289.6 260.1h1M297.8 258.3h1M303.9 259.5h1M305.0 259.2h1M309.0 261.8h1M314.3 261.5h1M327.5 259.2h1M344.2 259.4h1M352.1 258.0h1M376.3 258.4h1M414.5 260.9h1M151.9 265.6h1M218.2 262.3h1M239.5 263.2h1M243.7 264.3h1M245.9 262.7h1M260.0 264.0h1M276.0 265.6h1M311.1 262.8h1M310.8 263.3h1M323.1 264.8h1M344.5 265.9h1M343.8 263.0h1M347.5 264.9h1M354.5 264.1h1M360.3 265.6h1M380.4 265.8h1M389.9 262.4h1M428.8 264.2h1M179.7 269.1h1M247.3 268.1h1M253.0 268.8h1M256.3 267.9h1M263.6 266.3h1M267.0 268.8h1M286.8 269.1h1M292.5 266.9h1M320.4 266.4h1M350.5 267.9h1M357.8 266.0h1M384.7 269.8h1M383.5 266.0h1M383.6 269.8h1M403.9 266.3h1M401.5 268.0h1M430.4 267.1h1M244.6 273.2h1M248.8 272.4h1M251.8 272.6h1M251.6 271.6h1M261.8 272.4h1M272.9 271.3h1M269.5 272.7h1M278.7 272.9h1M279.5 271.1h1M283.2 271.4h1M287.1 270.5h1M302.4 271.8h1M310.8 273.3h1M347.5 273.9h1M411.9 273.3h1M419.9 271.8h1M490.7 271.5h1M115.2 276.9h1M161.2 277.4h1M170.0 274.0h1M200.1 274.8h1M224.9 276.8h1M260.0 278.0h1M262.6 275.8h1M265.7 275.0h1M273.2 276.2h1M286.6 275.6h1M286.8 276.8h1M288.9 274.9h1M289.6 275.0h1M300.5 276.2h1M316.3 274.2h1M341.1 277.3h1M359.1 276.6h1M369.4 276.2h1M390.9 275.3h1M416.4 275.9h1M416.1 276.1h1M413.9 274.2h1M471.0 277.9h1M195.3 281.2h1M225.3 280.5h1M250.8 278.5h1M256.4 278.9h1M254.0 281.1h1M256.2 278.5h1M275.7 281.3h1M276.3 278.9h1M273.8 279.6h1M284.7 279.3h1M290.0 280.6h1M315.1 278.5h1M324.2 279.5h1M375.0 281.2h1M379.5 279.5h1M388.1 279.0h1M397.9 279.8h1M429.9 278.4h1M459.3 281.7h1M547.1 279.9h1M171.5 286.0h1M225.9 283.8h1M229.8 284.6h1M247.1 284.1h1M263.0 284.6h1M271.2 282.7h1M278.8 283.7h1M277.9 285.0h1M281.6 285.7h1M282.9 284.6h1M292.8 285.1h1M294.2 283.6h1M324.6 285.9h1M336.2 283.1h1M350.5 285.3h1M356.8 283.1h1M366.3 283.9h1M396.2 283.4h1M399.7 284.5h1M404.2 285.2h1M407.9 286.0h1M426.4 282.7h1M464.5 285.0h1M473.9 284.8h1M216.9 288.8h1M221.6 289.9h1M233.4 289.7h1M239.8 287.0h1M264.7 286.2h1M274.4 287.9h1M273.5 289.1h1M285.5 288.2h1M297.0 286.9h1M320.4 289.8h1M329.9 287.3h1M367.9 288.7h1M366.6 286.5h1M383.9 287.1h1M390.5 288.7h1M435.2 289.7h1M550.2 286.5h1M195.0 291.5h1M221.8 290.9h1M230.6 293.3h1M253.7 293.1h1M274.5 290.0h1M273.5 293.0h1M284.1 291.0h1M293.2 291.3h1M305.8 293.2h1M309.7 292.2h1M331.2 293.8h1M334.7 291.1h1M357.0 291.6h1M357.7 290.3h1M360.2 293.9h1M370.9 293.8h1M385.6 292.8h1M403.5 290.4h1M409.0 293.8h1M213.3 296.9h1M233.0 295.4h1M258.8 294.1h1M267.3 295.9h1M273.9 297.8h1M279.0 294.9h1M284.7 296.0h1M298.3 297.3h1M298.1 297.2h1M308.3 295.1h1M311.1 296.3h1M322.1 298.0h1M344.4 294.8h1M349.6 296.0h1M361.1 297.8h1M393.1 294.4h1M394.8 297.5h1M220.8 299.1h1M226.8 299.4h1M241.4 299.3h1M244.8 300.2h1M269.0 298.9h1M292.8 300.1h1M307.7 301.5h1M347.6 299.4h1M351.1 301.5h1M353.1 298.1h1M358.4 298.8h1M368.6 298.6h1M374.8 301.7h1M396.5 301.7h1M406.0 301.5h1M405.4 298.6h1M411.0 301.2h1M217.5 305.9h1M218.3 303.9h1M223.3 303.6h1M248.2 305.0h1M245.2 302.0h1M285.6 305.9h1M292.4 304.4h1M326.5 303.4h1M343.5 303.1h1M341.6 303.0h1M388.9 302.1h1M390.1 303.9h1M396.3 304.8h1M418.6 303.7h1M417.8 304.3h1M417.7 304.5h1M435.2 302.6h1M71.2 308.5h1M150.4 307.5h1M226.1 308.9h1M247.3 309.8h1M251.2 306.3h1M309.0 306.0h1M327.5 306.3h1M367.8 308.8h1M371.8 306.6h1M391.4 307.2h1M398.2 306.8h1M401.3 309.4h1M419.2 306.3h1M425.8 309.1h1M444.4 306.7h1M449.4 306.1h1M228.5 314.0h1M226.6 312.9h1M233.4 310.3h1M256.4 312.5h1M285.3 310.6h1M298.8 310.2h1M304.4 310.2h1M311.1 313.8h1M317.5 310.4h1M323.7 310.6h1M328.2 313.7h1M357.5 311.7h1M358.8 311.8h1M366.5 312.2h1M374.2 312.0h1M432.3 313.2h1M438.1 313.4h1M444.0 310.7h1M203.4 314.1h1M228.6 314.7h1M263.6 315.7h1M266.3 316.4h1M279.9 317.0h1M286.0 316.0h1M297.5 316.8h1M303.5 317.2h1M318.3 315.4h1M325.0 314.9h1M351.4 315.5h1M389.3 314.9h1M407.0 314.2h1M448.5 314.1h1M237.4 318.7h1M250.5 321.5h1M265.3 320.1h1M269.1 319.2h1M275.4 320.5h1M276.8 321.0h1M273.0 318.4h1M280.1 318.5h1M284.7 319.0h1M295.8 320.9h1M303.0 318.2h1M306.7 318.6h1M317.8 320.2h1M337.0 318.7h1M349.5 318.1h1M360.5 318.7h1M367.5 321.2h1M375.1 321.4h1M412.6 319.6h1M419.1 319.3h1M445.4 319.7h1M560.7 321.2h1M196.0 322.5h1M203.6 324.7h1M212.2 324.9h1M218.1 325.6h1M229.2 322.1h1M238.7 322.9h1M243.3 324.3h1M244.7 325.3h1M253.0 323.6h1M268.6 323.7h1M284.5 323.1h1M300.2 323.7h1M320.7 325.9h1M318.7 325.9h1M346.3 322.3h1M385.1 324.3h1M390.4 324.3h1M392.5 324.0h1M420.9 325.6h1M428.1 325.0h1M233.2 329.3h1M238.6 327.6h1M244.2 327.7h1M245.1 328.4h1M270.0 326.0h1M269.3 328.6h1M297.2 328.1h1M301.7 328.4h1M306.0 326.6h1M337.0 327.3h1M341.2 326.8h1M398.3 326.7h1M418.6 326.9h1M431.3 327.9h1M201.7 331.9h1M207.8 330.6h1M238.2 331.7h1M239.6 332.4h1M256.2 332.9h1M254.3 333.3h1M259.1 330.6h1M274.4 333.7h1M294.7 331.2h1M313.8 331.2h1M328.2 330.5h1M365.6 333.4h1M395.5 333.2h1M398.2 333.5h1M400.4 330.7h1M406.0 331.4h1M419.4 331.0h1M435.5 332.4h1M181.7 335.1h1M186.8 334.1h1M234.1 334.8h1M243.3 337.8h1M281.4 336.7h1M289.7 335.2h1M322.2 334.2h1M339.0 337.1h1M343.7 337.2h1M359.0 334.0h1M366.9 336.6h1M380.9 334.3h1M379.5 334.8h1M433.6 335.8h1M441.2 335.4h1M216.9 339.8h1M247.2 338.0h1M263.2 340.9h1M271.8 341.4h1M341.8 338.8h1M351.8 338.5h1M368.6 340.7h1M384.1 339.5h1M385.2 341.8h1M218.6 344.3h1M227.4 342.0h1M229.5 343.7h1M247.9 345.8h1M276.4 343.2h1M285.9 346.0h1M318.8 342.4h1M320.5 345.0h1M358.7 344.9h1M377.7 344.0h1M382.7 343.5h1M385.2 343.5h1M184.0 349.9h1M239.0 346.9h1M245.1 348.7h1M261.0 346.5h1M261.9 346.3h1M286.3 349.8h1M294.2 348.8h1M293.3 349.5h1M306.9 349.4h1M312.1 346.6h1M319.3 348.9h1M326.3 347.2h1M331.7 348.6h1M339.5 346.1h1M385.9 347.0h1M396.8 347.0h1M394.3 347.2h1M402.5 349.3h1M430.9 349.0h1M436.3 346.9h1M441.1 347.7h1M542.0 348.5h1M216.2 350.5h1M218.3 350.6h1M240.2 353.7h1M243.2 351.9h1M286.3 352.7h1M314.3 353.4h1M369.3 351.4h1M376.4 350.3h1M379.5 350.3h1M410.9 351.8h1M423.0 353.1h1M577.5 352.7h1M224.6 357.1h1M228.8 355.8h1M238.7 356.3h1M248.6 354.7h1M247.3 354.7h1M250.5 355.7h1M270.6 357.6h1M286.6 357.6h1M291.0 355.2h1M300.4 355.4h1M298.2 355.2h1M303.7 356.2h1M310.7 357.2h1M340.8 355.9h1M352.5 354.2h1M354.9 354.1h1M365.1 356.3h1M379.0 354.0h1M405.3 357.0h1M440.6 354.7h1M437.1 356.2h1M441.8 354.7h1M448.6 356.9h1M195.8 359.7h1M214.6 360.6h1M228.3 359.4h1M233.2 361.3h1M251.0 358.6h1M264.9 361.0h1M284.6 359.9h1M295.1 361.0h1M416.9 358.6h1M484.7 361.4h1M203.3 362.4h1M220.1 363.2h1M263.2 362.0h1M270.3 364.3h1M280.4 365.1h1M284.9 363.5h1M282.3 362.0h1M300.6 365.1h1M305.9 364.9h1M328.8 362.5h1M329.2 363.7h1M338.3 365.6h1M467.5 363.2h1M494.6 363.3h1M172.1 369.8h1M184.0 367.0h1M213.0 369.6h1M224.7 367.0h1M239.4 368.7h1M245.1 367.8h1M251.0 367.0h1M264.2 369.3h1M272.8 367.7h1M280.8 368.7h1M320.7 369.3h1M350.2 369.8h1M353.5 367.3h1M362.3 368.9h1M367.9 367.9h1M381.6 369.6h1M398.6 367.3h1M132.4 373.2h1M229.5 371.7h1M255.4 373.4h1M264.4 372.4h1M287.0 373.5h1M288.2 373.9h1M296.8 371.5h1M295.9 371.0h1M308.6 370.7h1M321.6 371.4h1M342.9 371.2h1M398.2 373.1h1M401.7 371.8h1M200.2 375.3h1M197.1 376.3h1M198.8 377.3h1M227.9 374.4h1M251.9 375.8h1M266.6 377.7h1M350.5 375.7h1M459.9 375.2h1M226.3 380.5h1M227.5 381.3h1M229.7 379.1h1M262.3 378.6h1M271.1 381.7h1M363.4 379.3h1M394.4 378.3h1M154.4 385.2h1M201.8 385.8h1M232.6 385.7h1M233.4 385.1h1M264.0 383.0h1M261.9 383.0h1M287.9 385.9h1M208.8 386.2h1M208.9 386.1h1M240.5 390.0h1M256.4 386.3h1M262.9 386.6h1M285.9 387.2h1M305.2 386.7h1M348.7 388.1h1M112.5 393.8h1M248.7 393.9h1M257.1 390.8h1M276.4 392.3h1M306.4 393.0h1M368.2 393.6h1M386.8 393.6h1M396.5 390.8h1M403.6 392.1h1M419.4 390.4h1M194.5 394.4h1M198.8 396.0h1M224.6 397.0h1M254.9 396.8h1M281.0 394.5h1M295.8 397.9h1M350.8 397.7h1M373.9 394.8h1M396.7 397.7h1M470.4 396.9h1M155.7 400.8h1M173.7 399.3h1M214.0 401.7h1M258.9 400.7h1M262.6 400.8h1M285.7 399.4h1M308.1 400.5h1M385.2 400.4h1M64.4 402.8h1M202.9 403.6h1M240.1 403.3h1M249.1 402.5h1M251.0 403.5h1M294.2 404.7h1M346.9 405.0h1M146.8 407.6h1M232.3 406.5h1M248.2 407.2h1M246.5 409.7h1M252.7 407.9h1M289.0 408.0h1M373.0 408.7h1M374.8 408.4h1M395.4 408.8h1M184.4 413.4h1M220.0 411.1h1M282.6 411.5h1M283.0 410.9h1M297.3 412.5h1M308.0 411.6h1M216.9 415.1h1M258.2 417.3h1M261.0 417.2h1M378.5 414.1h1M166.4 418.8h1M254.5 421.8h1M265.3 419.0h1M275.9 421.2h1M335.6 418.7h1M448.0 421.1h1M179.7 422.9h1M223.3 422.7h1M328.6 423.5h1M162.4 426.3h1M255.6 427.6h1M263.2 427.0h1M287.5 429.2h1M309.7 428.8h1M166.8 433.9h1M242.1 432.0h1M187.2 434.6h1M222.9 437.6h1M234.7 435.2h1M285.4 437.6h1M365.8 435.8h1M210.5 438.7h1M289.2 440.5h1M255.0 444.1h1M266.6 444.4h1M276.5 449.5h1M310.1 447.6h1M376.8 446.2h1M222.5 450.3h1M249.8 452.3h1M273.7 451.0h1M447.6 453.0h1M277.3 455.1h1M258.7 464.3h1M302.6 462.2h1M368.8 463.1h1M416.9 462.4h1M239.2 469.0h1M258.0 467.2h1M387.7 469.8h1M236.7 470.9h1M316.6 471.7h1M383.7 471.7h1M170.6 477.4h1M257.6 476.9h1M362.3 480.0h1M132.1 500.4h1M280.1 499.3h1M274.8 508.3h1M202.9 512.1h1M297.0 513.0h1M283.5 517.1h1M186.7 519.9h1M330.7 519.1h1M313.7 522.9h1M224.4 531.3h1M312.6 542.4h1M180.1 549.7h1M327.3 549.2h1M288.5 560.6h1" stroke="#6c6c6c" stroke-width="1" fill="none"/><path d="M314.0 310.5h1M474.0 11.7h1M498.7 57.4h1M445.4 175.4h1M293.8 335.0h1M408.2 235.8h1M335.7 321.0h1M467.6 91.7h1M461.2 184.8h1M467.0 170.6h1M438.1 187.1h1M460.8 107.7h1M483.9 76.5h1M379.9 273.2h1M477.5 160.1h1M416.0 229.1h1M491.7 59.1h1M333.4 300.7h1M481.5 110.6h1M342.4 291.3h1M346.8 310.5h1M489.6 122.4h1M460.2 153.7h1M401.2 245.0h1M448.1 189.2h1M301.0 349.9h1M409.7 256.3h1M479.5 113.2h1M448.7 157.8h1M485.8 77.3h1M395.7 248.1h1M291.4 318.1h1M366.0 279.5h1M454.3 190.2h1M303.8 321.9h1M502.3 66.0h1M448.7 180.0h1M483.2 27.7h1M493.3 113.3h1M495.7 44.0h1M467.2 21.1h1M327.3 271.2h1M479.4 131.6h1M397.8 247.0h1M495.9 121.8h1M477.3 125.8h1M498.9 48.7h1M484.4 95.2h1M275.3 355.9h1M451.7 220.6h1M428.6 210.3h1M450.4 183.9h1M458.6 185.1h1M318.2 319.0h1M304.4 318.5h1M461.7 204.2h1M337.7 287.3h1M466.5 186.2h1M419.8 214.8h1M497.4 137.6h1M504.9 31.2h1M362.4 287.3h1M360.8 268.4h1M471.8 141.7h1M464.0 139.6h1M284.6 376.5h1M286.9 346.4h1M324.7 323.0h1M430.7 226.7h1M499.0 71.5h1M486.8 129.7h1M307.5 338.0h1M286.9 330.2h1M324.6 293.5h1M397.0 248.7h1M411.5 254.8h1M339.0 292.0h1M461.4 144.1h1M446.6 168.2h1M273.6 331.9h1M294.7 322.8h1M264.1 381.2h1M387.9 264.0h1M372.7 280.0h1M499.2 83.8h1M294.6 312.8h1M323.2 267.4h1M478.9 152.6h1M422.7 222.0h1M453.1 189.1h1M355.7 298.6h1M367.2 258.3h1M444.7 206.2h1M488.0 137.7h1M401.9 229.1h1M427.1 259.5h1M473.0 162.8h1M468.1 111.1h1M470.8 142.0h1M379.5 267.0h1M501.4 54.8h1M423.9 225.0h1M373.4 285.1h1M491.6 92.1h1M345.4 313.9h1M467.6 154.4h1M301.1 345.4h1M305.1 340.4h1M476.6 103.8h1M388.4 237.1h1M349.1 248.7h1M379.0 229.6h1M423.3 228.3h1M503.0 49.4h1M466.6 168.1h1M304.2 328.3h1M461.6 169.8h1M497.9 49.6h1M482.2 105.9h1M346.3 306.3h1M493.9 42.3h1M406.1 265.4h1M410.6 251.4h1M362.7 295.0h1M465.6 187.0h1M322.3 308.6h1M482.2 116.0h1M407.4 227.5h1M377.2 283.8h1M475.5 32.4h1M476.1 32.1h1M297.3 334.5h1M404.0 253.9h1M479.7 126.6h1M358.3 273.1h1M507.6 5.9h1M294.9 336.5h1M474.5 68.0h1M281.7 312.2h1M480.2 65.9h1M330.9 271.6h1M338.1 306.2h1M442.4 219.3h1M436.0 208.5h1M402.3 258.0h1M373.3 289.1h1M335.2 311.6h1M396.3 243.2h1M496.5 28.9h1M502.4 10.0h1M457.3 187.1h1M385.3 203.3h1M264.3 383.4h1M319.9 295.2h1M350.9 289.1h1M468.2 144.3h1M433.9 189.2h1M431.3 209.2h1M368.6 271.8h1M377.8 261.4h1M296.8 300.9h1M483.8 53.8h1M491.4 92.2h1M489.5 65.0h1M498.6 62.9h1M362.6 274.3h1M453.3 174.1h1M402.7 236.6h1M409.5 219.1h1M463.9 130.3h1M308.4 312.7h1M348.4 289.6h1M374.1 276.4h1M426.2 208.1h1M487.1 24.1h1M474.7 80.4h1M314.7 302.6h1M334.8 309.8h1M352.2 289.1h1M422.8 230.9h1M486.2 83.8h1M493.2 14.4h1M470.4 105.0h1M316.7 323.5h1M488.7 6.2h1M348.8 278.1h1M336.1 263.4h1M489.6 8.7h1M399.8 262.0h1M494.7 92.3h1M465.7 103.0h1M480.7 130.9h1M489.8 55.1h1M279.5 365.3h1M307.4 343.2h1M487.4 150.9h1M474.0 122.2h1M309.6 307.9h1M466.7 136.3h1M328.7 280.0h1M300.1 324.7h1M482.4 102.7h1M492.4 49.5h1M313.0 314.4h1M262.0 355.5h1M298.9 328.2h1M349.9 308.3h1M343.1 283.1h1M434.4 222.0h1M483.1 119.6h1M490.1 59.4h1M481.2 96.0h1M479.4 144.2h1M472.9 173.3h1M486.8 11.6h1M457.6 190.8h1M476.0 24.2h1M391.0 260.8h1M446.5 225.9h1M441.7 199.1h1M474.6 134.4h1M421.4 222.2h1M502.6 36.4h1M375.2 271.4h1M447.8 170.9h1M497.8 18.5h1M352.3 299.5h1M312.2 280.8h1M326.5 304.5h1M353.2 284.2h1M390.0 273.1h1M487.7 28.3h1M380.9 282.0h1M341.9 296.2h1M304.6 310.3h1M267.0 353.4h1M480.1 123.7h1M486.6 95.7h1M442.5 220.6h1M418.6 250.4h1M496.9 3.6h1M373.7 295.5h1M479.0 106.2h1M425.1 212.9h1M397.8 265.6h1M475.8 119.1h1M458.5 56.8h1M479.9 51.6h1M485.2 109.8h1M468.2 149.5h1M314.2 302.5h1M321.1 320.4h1M275.5 308.9h1M468.2 192.0h1M410.2 226.3h1M352.5 308.9h1M500.3 44.3h1M333.1 333.4h1M478.5 119.2h1M494.3 158.8h1M498.7 61.3h1M508.1 83.9h1M391.0 284.0h1M433.8 218.6h1M410.0 243.0h1M470.8 137.6h1M436.9 197.0h1M495.5 90.1h1M292.3 342.7h1M414.5 241.0h1M464.7 115.2h1M501.0 81.3h1M358.9 244.4h1M492.8 8.5h1M493.5 73.7h1M469.4 138.3h1M494.6 25.3h1M481.6 125.0h1M478.2 5.6h1M385.0 267.0h1M485.5 14.9h1M502.5 28.0h1M411.9 231.8h1M291.1 343.7h1M295.8 317.0h1M466.1 155.9h1M476.4 170.8h1M496.2 50.7h1M364.2 279.7h1M447.4 216.1h1M447.1 188.1h1M490.3 116.7h1M486.1 48.7h1M482.8 56.0h1M445.7 204.2h1M297.1 345.4h1M382.7 273.5h1M435.7 207.1h1M494.4 50.6h1M327.2 322.8h1M460.0 170.5h1M261.2 353.4h1M355.1 282.5h1M354.5 279.5h1M378.3 289.4h1M495.5 87.1h1M467.7 84.8h1M506.1 81.0h1M490.8 22.9h1M386.4 242.6h1M373.2 297.2h1M505.3 112.7h1M386.0 272.1h1M502.3 82.1h1M412.1 214.2h1M402.0 239.1h1M483.9 101.9h1M502.7 48.7h1M477.5 147.8h1M340.9 287.5h1M476.6 127.5h1M495.6 26.6h1M466.6 170.3h1M446.7 157.4h1M486.1 86.9h1M484.5 118.6h1M491.4 97.9h1M282.9 376.1h1M324.0 272.6h1M481.9 62.1h1M405.4 268.5h1M308.6 311.7h1M351.3 289.2h1M366.5 253.1h1M490.2 104.0h1M352.3 310.3h1M434.3 213.5h1M355.7 273.5h1M482.8 80.7h1M496.4 90.0h1M290.3 339.2h1M290.2 356.2h1M443.3 207.2h1M481.5 59.6h1M496.9 43.0h1M375.0 278.2h1M459.5 198.8h1M321.3 309.7h1M306.4 325.1h1M321.8 320.7h1M449.3 198.2h1M464.7 146.5h1M489.6 77.8h1M307.3 296.8h1M315.1 330.3h1M466.6 176.0h1M465.0 188.6h1M479.2 151.9h1M502.1 54.3h1M388.1 259.5h1M421.3 219.7h1M477.4 12.6h1M482.0 145.6h1M403.8 228.8h1M271.2 324.9h1M483.2 147.8h1M509.9 108.1h1M315.4 347.8h1M350.9 304.2h1M503.5 16.8h1M391.5 238.6h1M498.2 75.4h1M472.8 116.2h1M464.7 177.2h1M434.9 222.6h1M485.3 76.7h1M508.2 23.7h1M339.7 307.5h1M427.8 208.7h1M493.9 8.4h1M500.9 41.9h1M492.0 84.1h1M420.6 234.0h1M443.0 201.0h1M468.8 136.6h1M401.4 219.9h1M286.5 333.6h1M503.0 73.1h1M392.3 248.5h1M483.3 155.0h1M409.7 236.5h1M315.0 314.9h1M329.1 316.9h1M364.1 269.9h1M442.5 181.1h1M441.1 245.2h1M317.1 318.5h1M262.2 352.9h1M466.6 166.6h1M329.3 323.2h1M480.3 88.8h1M316.4 301.3h1M264.5 315.1h1M305.1 371.4h1M465.8 170.0h1M496.4 122.7h1M411.7 237.3h1M338.5 323.2h1M347.2 284.0h1M383.8 273.7h1M336.0 281.1h1M384.9 246.3h1M454.0 185.9h1M357.8 323.5h1M277.6 360.6h1M430.1 223.5h1M293.8 338.6h1M335.5 319.8h1M390.5 284.2h1M491.4 110.8h1M456.4 171.2h1M357.8 294.1h1M471.6 126.0h1M397.3 257.5h1M402.5 225.0h1M496.5 76.0h1M311.0 313.0h1M451.3 183.8h1M475.1 145.0h1M346.2 278.3h1M445.0 170.0h1M336.1 331.0h1M504.6 33.8h1M431.5 201.9h1M398.4 247.4h1M295.9 348.8h1M395.3 250.5h1M443.7 200.9h1M297.0 289.1h1M506.3 51.8h1M395.2 250.0h1M307.4 332.7h1M486.2 89.6h1M503.8 34.7h1M336.6 312.9h1M325.2 313.5h1M379.1 267.2h1M487.5 8.7h1M342.5 284.7h1M294.3 299.1h1M460.0 153.3h1M472.2 111.4h1M496.8 14.9h1M480.3 84.9h1M297.5 357.4h1M302.4 342.5h1M490.1 61.5h1M487.2 75.5h1M388.8 287.6h1M485.7 97.5h1M451.7 202.4h1M454.8 156.6h1M350.6 311.6h1M497.8 27.0h1M333.4 307.0h1M462.7 163.7h1M486.8 39.7h1M421.9 241.3h1M454.3 203.3h1M453.2 167.4h1M397.7 243.5h1M260.0 347.0h1M318.7 309.0h1M376.7 275.2h1M388.4 261.7h1M259.5 337.6h1M452.5 210.3h1M343.7 295.6h1M470.4 180.7h1M474.6 146.9h1M289.5 341.9h1M487.9 18.8h1M303.7 304.3h1M259.4 366.8h1M421.2 236.0h1M296.8 327.2h1M359.5 308.7h1M461.7 188.4h1M483.1 148.6h1M486.5 102.0h1M318.8 312.6h1M288.3 347.6h1M318.7 310.5h1M486.2 110.5h1M315.1 306.3h1M287.9 342.4h1M315.5 307.8h1M465.9 162.1h1M346.0 309.3h1M420.9 242.2h1M506.5 28.6h1M441.5 237.6h1M480.5 90.0h1M315.9 300.4h1M342.3 303.6h1M329.8 303.3h1M442.9 211.0h1M472.9 134.5h1M507.1 7.2h1M304.2 317.3h1M461.5 206.1h1M404.7 255.6h1M300.0 326.1h1M307.6 307.3h1M318.0 328.1h1M415.4 230.1h1M459.4 173.9h1M455.7 163.2h1M321.0 325.3h1M481.7 112.3h1M293.0 368.6h1M296.8 355.8h1M506.7 68.7h1M509.8 95.3h1M402.4 267.0h1M385.5 241.0h1M278.1 328.6h1M373.8 296.5h1M485.4 22.1h1M432.2 204.1h1M291.0 348.4h1M295.9 286.2h1M306.1 296.4h1M485.0 101.1h1M449.4 210.7h1M343.8 285.3h1M345.2 289.6h1M263.9 354.2h1M488.1 144.4h1M430.8 208.2h1M381.3 270.2h1M414.4 234.7h1M312.7 318.3h1M386.2 262.1h1M365.1 279.0h1M484.7 50.3h1M469.6 162.1h1M477.6 155.7h1M484.5 95.7h1M475.1 137.3h1M314.5 328.6h1M417.4 225.8h1M431.6 230.7h1M341.1 287.9h1M310.5 339.7h1M460.7 213.6h1M506.3 78.9h1M310.2 334.5h1M300.0 326.8h1M331.6 286.1h1M491.7 4.0h1M459.2 170.9h1M396.9 234.5h1M417.0 244.5h1M258.9 333.5h1M474.2 120.6h1M278.3 324.7h1M301.3 342.3h1M366.3 277.5h1M480.6 75.7h1M429.1 203.6h1M433.1 217.6h1M493.9 151.7h1M278.4 316.2h1M485.1 97.2h1M388.3 246.0h1M441.0 181.5h1M365.5 236.5h1M386.5 250.4h1M393.0 254.0h1M306.9 292.2h1M369.6 267.4h1M478.8 85.6h1M416.0 235.0h1M493.5 48.4h1M434.2 233.3h1M335.1 303.1h1M484.8 95.2h1M497.4 120.9h1M488.6 69.7h1M317.8 332.2h1M332.2 321.2h1M484.2 101.0h1M501.2 22.0h1M393.0 277.1h1M486.9 169.9h1M490.9 128.4h1M300.5 345.8h1M281.0 346.2h1M431.6 221.3h1M372.9 252.5h1M257.7 353.1h1M295.2 338.1h1M500.1 30.4h1M326.5 291.0h1M334.9 310.6h1M369.9 255.6h1M479.3 141.7h1M442.5 200.2h1M486.9 103.5h1M336.4 311.9h1M385.6 282.0h1M357.1 295.3h1M311.4 286.7h1M479.4 62.0h1M488.9 108.4h1M502.6 80.2h1M348.1 267.3h1M487.5 24.1h1M484.6 80.7h1M469.6 181.7h1M270.3 311.6h1M461.3 205.3h1M439.1 221.7h1M342.6 263.4h1M496.9 19.4h1M484.5 174.1h1M347.4 307.2h1M358.1 313.8h1M496.4 74.8h1M332.0 299.1h1M280.5 368.6h1M398.0 262.9h1M346.5 313.9h1M443.6 177.7h1M489.6 55.7h1M474.3 177.9h1M411.4 250.6h1M308.4 322.4h1M470.6 149.0h1M477.8 60.1h1M311.3 332.3h1M452.2 214.2h1M490.6 52.6h1M329.7 294.9h1M465.7 168.0h1M421.0 213.3h1M406.8 254.6h1M363.7 277.0h1M310.2 320.7h1M491.8 117.5h1M506.3 129.8h1M426.1 217.5h1M412.2 225.5h1M305.6 344.0h1M267.2 333.6h1M282.3 318.1h1M486.3 44.8h1M470.7 204.2h1M491.5 142.8h1M471.7 117.1h1M333.2 310.7h1M325.2 270.3h1M449.8 193.3h1M491.4 18.1h1M471.4 28.1h1M264.9 379.0h1M296.3 313.6h1M308.9 318.5h1M483.8 72.2h1M486.0 94.7h1M496.8 116.2h1M345.8 316.5h1M425.3 243.8h1M508.1 98.8h1M473.8 174.7h1M324.8 301.6h1M481.6 106.5h1M473.0 129.7h1M385.9 286.3h1M366.3 272.0h1M311.1 330.8h1M422.2 242.3h1M305.7 339.6h1M317.9 324.1h1M285.1 335.9h1M432.3 205.9h1M285.8 326.2h1M350.3 287.5h1M426.0 234.9h1M487.1 58.0h1M349.1 284.5h1M311.8 337.2h1M423.4 249.7h1M345.3 269.0h1M499.2 55.6h1M330.8 310.0h1M485.8 126.6h1M467.2 135.9h1M470.8 125.6h1M325.7 321.6h1M300.2 296.9h1M417.7 237.8h1M472.4 177.8h1M464.9 103.5h1M293.4 326.5h1M495.6 74.9h1M460.3 170.3h1M412.4 257.1h1M271.6 325.6h1M370.9 306.6h1M280.8 357.6h1M459.8 14.6h1M312.5 334.0h1M480.2 36.1h1M375.3 273.1h1M297.2 311.2h1M361.7 273.4h1M290.2 322.3h1M294.7 348.8h1M310.5 328.7h1M463.0 212.5h1M329.7 327.5h1M350.8 268.9h1M483.5 55.8h1M373.3 271.9h1M485.8 59.9h1M478.6 87.0h1M517.7 20.0h1M273.1 350.5h1M492.1 12.9h1M474.1 133.3h1M475.3 107.2h1M327.0 297.1h1M488.1 22.0h1M495.7 41.4h1M478.2 140.0h1M481.0 59.8h1M488.0 34.3h1M371.4 247.5h1M490.9 8.1h1M286.5 330.2h1M450.7 187.8h1M403.4 299.1h1M480.4 129.7h1M460.1 177.6h1M447.6 178.9h1M488.3 42.4h1M402.5 225.0h1M388.9 255.6h1M312.1 344.6h1M365.7 232.5h1M330.4 305.3h1M458.8 139.7h1M291.2 340.2h1M292.0 319.5h1M401.8 236.0h1M488.8 127.1h1M295.1 307.9h1M280.1 347.7h1M459.9 121.0h1M404.5 224.0h1M361.7 247.9h1M484.0 112.2h1M461.5 195.3h1M346.2 265.4h1M474.9 97.5h1M295.7 301.2h1M354.6 308.0h1M406.5 243.0h1M482.2 29.0h1M359.5 272.6h1M305.6 326.2h1M426.8 208.1h1M266.3 337.5h1M472.5 86.7h1M344.8 322.2h1M471.4 165.2h1M282.6 342.1h1M468.8 176.5h1M341.8 293.4h1M482.2 17.3h1M484.9 58.5h1M314.6 293.8h1M462.8 188.8h1M440.4 191.9h1M423.0 234.7h1M415.0 232.1h1M307.7 301.9h1M433.8 238.4h1M363.1 257.3h1M500.4 31.4h1M331.9 295.0h1M459.1 128.4h1M494.5 72.3h1M368.3 283.0h1M449.3 195.9h1M429.0 235.1h1M432.9 245.9h1M302.3 306.6h1M483.2 74.7h1M491.2 140.2h1M268.6 364.0h1M379.6 273.2h1M429.0 229.5h1M504.5 103.7h1M476.5 13.2h1M307.0 359.6h1M486.2 106.0h1M381.3 264.6h1M375.4 245.7h1M476.0 149.4h1M450.1 184.1h1M478.0 157.6h1M279.4 340.7h1M483.8 31.2h1M398.7 238.2h1M473.8 151.1h1M310.5 335.4h1M488.1 9.3h1M347.7 250.9h1M314.0 325.0h1M489.8 17.9h1M340.9 302.7h1M320.5 291.6h1M370.7 274.7h1M490.5 40.5h1M357.7 275.9h1M344.4 309.9h1M457.2 187.5h1M416.6 226.0h1M492.0 84.1h1M512.6 45.9h1M488.8 52.2h1M443.6 191.5h1M357.6 288.4h1M471.6 7.7h1M498.2 92.9h1M497.3 142.5h1M312.5 323.1h1M286.5 338.8h1M474.0 62.2h1M497.0 18.5h1M456.4 194.9h1M423.3 218.9h1M364.4 288.2h1M453.3 169.6h1M318.0 332.3h1M487.7 31.1h1M329.7 321.9h1M474.0 110.1h1M493.3 21.1h1M486.2 141.9h1M346.3 301.8h1M485.7 9.6h1M427.6 214.3h1M474.6 157.9h1M477.3 138.5h1M371.5 252.7h1M493.2 69.3h1M428.5 205.2h1M366.3 277.2h1M366.1 269.7h1M348.9 294.0h1M490.6 107.9h1M263.2 352.7h1M407.8 243.5h1M421.2 223.9h1M421.5 237.4h1M488.1 54.0h1M478.8 58.8h1M307.1 307.6h1M386.1 273.8h1M467.6 156.9h1M508.3 115.4h1M287.3 343.0h1M337.0 292.9h1M362.2 276.1h1M273.2 356.5h1M307.2 324.6h1M486.9 140.4h1M460.9 155.6h1M463.6 127.0h1M303.0 358.3h1M455.6 171.4h1M282.7 347.6h1M374.5 294.6h1M482.9 60.4h1M487.5 111.2h1M300.8 320.4h1M281.1 362.7h1M353.1 280.7h1M297.2 308.7h1M478.7 74.7h1M485.1 94.9h1M323.6 311.5h1M449.2 177.3h1M402.2 234.8h1M373.4 271.8h1M359.6 279.6h1M406.6 222.8h1M499.4 38.9h1M310.1 310.5h1M501.5 72.1h1M386.6 246.9h1M376.6 255.3h1M481.1 104.7h1M369.3 270.2h1M336.4 280.7h1M304.5 336.2h1M300.2 340.4h1M448.0 188.7h1M310.7 304.8h1M290.1 347.9h1M405.8 213.7h1M484.5 153.9h1M519.0 31.7h1M380.1 274.8h1M291.6 324.7h1M505.9 31.4h1M300.3 339.0h1M465.5 157.0h1M351.7 299.5h1M277.4 363.5h1M409.8 236.2h1M438.0 237.0h1M495.2 119.8h1M494.9 125.7h1M491.8 45.2h1M459.1 171.6h1M461.5 168.7h1M486.9 176.1h1M361.4 268.3h1M370.2 283.0h1M513.8 42.0h1M391.5 254.1h1M289.9 333.8h1M494.3 3.9h1M304.4 327.2h1M486.8 99.3h1M486.5 96.7h1M461.8 189.8h1M421.6 235.9h1M347.2 268.9h1M294.9 333.6h1M325.0 289.6h1M335.2 305.5h1M486.4 128.8h1M288.3 348.7h1M439.0 209.8h1M488.4 136.0h1M381.6 280.2h1M312.0 301.6h1M484.9 25.4h1M288.6 330.7h1M445.6 197.8h1M400.6 228.2h1M451.1 147.1h1M309.6 331.9h1M395.1 251.7h1M306.5 308.4h1M385.1 275.2h1M388.2 298.6h1M480.9 105.1h1M432.7 232.1h1M443.6 211.1h1M347.2 320.6h1M475.4 96.6h1M282.9 349.2h1M434.6 196.6h1M346.3 275.4h1M464.2 172.4h1M360.2 273.4h1M466.8 152.4h1M304.8 315.8h1M412.1 224.4h1M494.1 84.3h1M443.4 208.0h1M420.9 231.4h1M389.4 241.3h1M479.5 111.4h1M365.5 281.6h1M323.3 309.7h1M475.0 138.3h1M465.8 204.7h1M418.7 223.8h1M310.8 301.9h1M489.8 44.9h1M447.0 171.3h1M458.3 191.9h1M292.5 365.7h1M489.1 50.9h1M257.9 354.6h1M341.3 311.3h1M481.7 50.8h1M287.1 360.6h1M500.6 24.5h1M480.4 154.9h1M467.5 144.8h1M305.2 297.8h1M273.7 334.2h1M303.6 326.1h1M477.4 124.6h1M369.8 258.3h1M446.3 167.0h1M441.6 190.5h1M512.8 48.3h1M483.3 146.8h1M368.2 277.5h1M492.7 81.6h1M316.3 330.1h1M464.6 150.1h1M486.1 9.8h1M352.9 272.5h1M362.1 274.5h1M281.2 320.9h1M336.7 321.2h1M354.2 268.3h1M473.7 170.4h1M336.2 292.1h1M464.3 213.9h1M285.4 323.5h1M467.3 94.1h1M469.1 200.2h1M501.1 29.3h1M305.4 326.2h1M459.0 159.2h1M279.6 356.9h1M374.0 262.0h1M503.4 14.2h1M459.2 189.9h1M346.4 288.5h1M326.0 302.8h1M250.3 365.4h1M287.3 343.5h1M287.8 352.5h1M302.5 309.2h1M453.9 188.5h1M472.7 87.6h1M470.9 169.4h1M493.6 134.1h1M462.5 180.3h1M478.0 16.9h1M480.6 52.9h1M481.4 19.8h1M501.4 67.9h1M440.8 226.1h1M415.6 243.8h1M449.7 162.9h1M313.8 335.3h1M456.7 189.9h1M520.1 37.6h1M318.3 329.5h1M474.7 119.9h1M384.6 245.7h1M373.0 289.9h1M417.8 242.3h1M474.4 80.7h1M316.8 323.6h1M489.9 133.1h1M364.9 275.1h1M428.9 222.1h1M272.5 341.6h1M423.7 243.0h1M448.4 155.8h1M487.5 70.8h1M476.5 98.9h1M347.1 273.5h1M453.8 186.0h1M361.2 300.1h1M482.6 104.9h1M506.3 77.2h1M486.8 107.0h1M439.6 220.2h1M477.2 115.5h1M446.8 187.1h1M472.7 114.1h1M345.3 312.7h1M308.9 328.9h1M355.9 272.5h1M365.6 269.8h1M484.4 127.5h1M292.1 339.6h1M471.5 85.4h1M500.7 123.3h1M473.7 129.2h1M394.1 237.8h1M353.9 276.0h1M469.6 199.3h1M319.6 325.9h1M503.2 64.6h1M496.6 117.1h1M480.9 133.1h1M456.1 167.9h1M383.6 273.9h1M478.3 55.3h1M499.8 32.8h1M285.2 327.1h1M410.9 227.7h1M484.2 88.4h1M463.0 174.5h1M456.7 171.6h1M487.4 20.3h1M461.8 171.4h1M349.5 258.9h1M383.8 249.2h1M335.0 270.7h1M366.8 259.6h1M467.7 111.0h1M473.1 150.1h1M336.1 320.6h1M325.0 324.7h1M491.9 12.4h1M470.9 186.2h1M374.9 278.1h1M474.2 142.9h1M279.3 362.2h1M344.3 291.7h1M422.4 226.7h1M489.5 110.1h1M288.6 346.3h1M399.1 238.4h1M483.1 38.2h1M486.6 115.5h1M373.0 281.9h1M486.7 86.4h1M438.5 220.3h1M376.0 263.3h1M254.1 362.0h1M487.2 94.6h1M372.8 233.8h1M463.5 178.1h1M345.7 272.1h1M451.3 222.0h1M412.8 222.1h1M341.4 312.6h1M464.7 188.8h1M495.6 40.8h1M451.3 239.8h1M448.5 147.8h1M308.0 290.6h1M339.6 301.8h1M345.6 270.7h1M281.7 343.3h1M487.5 107.3h1M498.2 60.3h1M382.0 267.1h1M478.7 63.2h1M345.2 307.6h1M490.9 3.2h1M295.3 329.5h1M307.9 324.0h1M329.7 275.7h1M489.6 102.7h1M485.3 101.6h1M497.4 105.0h1M381.7 251.5h1M393.0 289.8h1M464.5 151.2h1M331.3 338.6h1M492.8 124.4h1M481.8 94.3h1M489.4 136.6h1M481.5 138.0h1M470.5 179.6h1M338.4 313.7h1M371.2 281.7h1M460.6 190.3h1M496.4 40.4h1M290.3 330.9h1M452.1 197.6h1M335.7 320.8h1M456.1 172.1h1M311.9 318.5h1M488.1 133.0h1M324.4 297.4h1M441.2 209.3h1M469.3 114.0h1M426.7 237.4h1M501.3 34.0h1M478.7 144.0h1M472.3 178.2h1M357.7 285.0h1M479.4 102.8h1M393.0 248.2h1M392.7 279.9h1M425.4 241.2h1M482.1 77.6h1M300.3 351.5h1M376.0 251.6h1M495.0 32.7h1M462.1 153.9h1M402.2 237.7h1M472.0 134.3h1M504.4 41.9h1M476.8 112.0h1M513.3 46.9h1M357.5 313.6h1M483.7 13.9h1M452.3 225.8h1M422.1 242.7h1M334.1 321.3h1M476.7 49.0h1M491.4 100.1h1M312.7 321.2h1M280.4 349.5h1M304.2 323.4h1M461.7 191.3h1M264.2 361.8h1M306.2 334.8h1M341.5 301.1h1M419.3 221.3h1M501.9 12.8h1M270.3 342.9h1M300.5 330.7h1M396.0 265.4h1M402.4 224.0h1M355.5 256.2h1M377.0 279.8h1M488.8 100.7h1M316.4 351.3h1M412.3 199.6h1M480.7 17.8h1M456.3 172.8h1M488.9 126.8h1M489.1 23.4h1M444.8 222.4h1M469.6 176.5h1M356.0 323.5h1M368.7 271.8h1M481.8 68.4h1M484.4 138.8h1M269.6 355.4h1M478.1 90.6h1M477.3 46.0h1M408.1 250.2h1M485.0 35.5h1M458.1 173.0h1M482.6 104.3h1M493.3 45.9h1M477.3 81.7h1M444.6 196.5h1M466.4 158.2h1M482.1 119.7h1M243.0 368.6h1M381.6 285.3h1M414.5 220.5h1M303.2 328.9h1M440.1 190.5h1M433.0 206.7h1M481.9 100.2h1M493.9 51.7h1M430.2 246.8h1M478.5 108.2h1M316.1 322.1h1M470.8 168.4h1M353.8 281.2h1M480.4 115.2h1M432.8 195.4h1M267.2 352.9h1M308.7 319.3h1M476.8 153.8h1M393.9 260.7h1M385.0 244.8h1M330.3 316.8h1M475.4 164.6h1M275.6 332.7h1M418.1 202.5h1M292.7 329.8h1M323.5 321.1h1M286.3 336.0h1M305.4 322.1h1M479.4 76.9h1M490.5 115.5h1M304.8 298.7h1M468.9 112.5h1M384.8 254.7h1M371.7 304.4h1M324.7 305.2h1M301.8 287.2h1M317.1 318.9h1M289.6 334.6h1M470.4 166.9h1M482.9 100.5h1M270.9 332.4h1M280.2 331.4h1M304.0 331.8h1M389.5 270.5h1M338.2 284.1h1M373.6 284.3h1M396.0 237.4h1M368.9 302.0h1M327.9 302.1h1M304.2 327.1h1M481.7 153.0h1M426.1 207.1h1M409.0 241.7h1M372.5 279.9h1M345.6 289.4h1M515.4 9.8h1M336.6 307.6h1M380.3 278.8h1M404.6 243.7h1M472.5 40.4h1M291.6 315.5h1M344.7 312.7h1M396.9 249.7h1M474.4 161.5h1M387.5 252.0h1M448.3 220.9h1M323.7 356.2h1M310.5 313.5h1M394.7 224.9h1M424.6 227.6h1M436.3 198.5h1M439.2 208.8h1M488.9 56.4h1M315.2 336.2h1M297.5 348.8h1M497.3 45.0h1M455.6 167.9h1M447.5 206.5h1M463.3 199.9h1M301.3 334.5h1M415.2 234.4h1M322.4 275.2h1M432.7 223.4h1M391.6 243.1h1M463.9 199.9h1M469.8 140.1h1M490.2 95.0h1M468.9 172.4h1M397.3 280.9h1M480.0 121.7h1M501.5 88.3h1M413.6 255.1h1M402.5 245.0h1M421.2 214.5h1M471.2 24.5h1M391.9 266.8h1M432.6 239.3h1M419.2 227.2h1M518.7 30.6h1M492.4 13.0h1M342.9 301.5h1M294.1 326.8h1M405.9 281.3h1M500.3 37.9h1M326.3 317.2h1M362.6 261.8h1M478.5 99.5h1M330.8 308.1h1M484.0 18.6h1M484.5 75.2h1M419.9 242.6h1M318.2 323.8h1M492.0 23.2h1M494.3 54.9h1M491.0 103.8h1M382.6 256.3h1M312.9 323.9h1M488.5 64.7h1M459.3 162.3h1M304.8 343.9h1M456.6 192.3h1M491.4 123.6h1M304.6 299.4h1M336.4 308.3h1M477.1 77.4h1M429.7 207.6h1M261.8 356.4h1M484.6 31.5h1M309.7 315.4h1M486.0 115.0h1M481.6 65.8h1M480.1 142.9h1M464.1 161.6h1M490.3 52.6h1M304.8 317.1h1M324.5 322.8h1M366.6 280.0h1M331.5 320.2h1M406.4 227.3h1M498.2 84.5h1M425.9 231.4h1M366.1 266.2h1M473.9 120.7h1M510.5 6.5h1M452.7 209.9h1M497.8 33.7h1M498.8 83.9h1M369.9 254.9h1M335.6 333.4h1M497.7 108.0h1M471.4 109.4h1M296.0 322.3h1M333.6 314.3h1M484.9 31.2h1M486.3 144.7h1M493.2 124.0h1M318.8 309.6h1M484.5 56.6h1M405.3 251.2h1M298.6 357.8h1M492.7 41.2h1M395.2 273.4h1M350.9 294.1h1M471.6 50.0h1M408.3 233.1h1M499.9 53.0h1M472.9 35.2h1M483.3 112.4h1M466.4 190.2h1M323.0 328.4h1M483.5 110.5h1M390.1 265.4h1M261.0 305.4h1M284.5 315.5h1M342.2 311.8h1M374.6 265.9h1M302.4 311.8h1M492.5 180.8h1M324.8 305.3h1M412.9 258.5h1M440.8 197.5h1M396.0 291.3h1M349.9 280.5h1M416.0 238.6h1M462.4 158.4h1M353.7 316.1h1M421.0 214.4h1M368.5 296.5h1M335.7 311.0h1M307.6 333.8h1M414.8 238.9h1M296.4 265.2h1M357.6 320.3h1M384.1 306.9h1M449.8 255.2h1M352.2 332.0h1M277.9 349.9h1M336.9 303.7h1M311.9 335.2h1M344.8 289.3h1M416.7 290.1h1M350.6 266.1h1M355.5 292.1h1M339.5 326.8h1M283.9 343.3h1M519.0 13.3h1M250.7 338.8h1M258.8 318.2h1M441.4 282.9h1M310.8 264.4h1M307.5 307.1h1M377.4 274.2h1M395.7 245.5h1M340.2 306.7h1M318.5 346.2h1M301.3 346.6h1M286.8 315.3h1M360.4 343.9h1M348.1 316.8h1M412.4 263.3h1M322.3 293.8h1M382.6 251.6h1M296.5 303.5h1M350.2 330.5h1M498.1 68.2h1M286.4 306.6h1M360.9 262.1h1M334.0 262.5h1M337.5 325.7h1M429.2 233.6h1M262.4 333.8h1M264.2 363.8h1M279.3 320.9h1M374.5 280.7h1M247.6 388.8h1M304.3 299.5h1M438.6 238.9h1M331.8 311.0h1M298.5 307.5h1M377.7 265.8h1M323.4 286.5h1M399.4 215.3h1M348.3 303.7h1M292.3 297.6h1M254.4 312.7h1M420.7 272.4h1M439.9 228.0h1M289.2 297.4h1M353.6 292.2h1M430.6 220.6h1M491.5 151.7h1M327.6 312.8h1M462.3 153.8h1M286.1 322.8h1M312.0 336.6h1M283.5 326.5h1M461.5 207.1h1M301.1 297.9h1M312.8 321.0h1M358.4 271.3h1M405.4 233.4h1M462.1 216.7h1M313.6 312.8h1M350.8 307.0h1M322.5 327.4h1M435.9 229.3h1M269.3 312.2h1M395.6 287.3h1M424.7 235.8h1M332.4 290.7h1M283.3 359.3h1M455.3 220.3h1M316.7 330.0h1M345.3 321.0h1M330.3 344.1h1M276.0 319.5h1M437.1 188.3h1M279.7 333.1h1M410.9 235.4h1M401.0 294.2h1M292.8 302.4h1M358.5 261.1h1M297.5 342.8h1M343.5 297.9h1M448.7 192.0h1M307.5 328.3h1M302.5 305.7h1M379.7 223.5h1M304.5 345.4h1M366.1 261.1h1M356.8 318.6h1M345.9 281.9h1M408.4 273.1h1M396.8 294.7h1M348.1 331.9h1M446.4 199.6h1M318.6 311.0h1M347.7 259.9h1M405.0 313.1h1M338.8 284.5h1M437.8 235.6h1M400.2 247.9h1M367.0 253.9h1M313.5 262.4h1M316.0 316.2h1M285.1 325.2h1M295.1 320.1h1M383.0 310.0h1M371.7 307.8h1M347.2 304.1h1M316.6 282.6h1M314.8 304.0h1M262.0 353.7h1M345.9 257.3h1M339.4 274.7h1M322.8 294.8h1M400.6 317.5h1M373.0 219.3h1M372.2 282.5h1M249.3 331.3h1M335.0 310.6h1M451.2 222.6h1M275.6 349.3h1M376.9 271.2h1M395.7 236.1h1M275.8 322.4h1M466.9 186.0h1M424.8 242.1h1M359.8 310.7h1M431.2 235.4h1M344.6 339.0h1M315.3 323.3h1M346.7 326.0h1M317.3 302.4h1M341.2 298.8h1M375.3 245.6h1M326.8 323.2h1M373.1 263.2h1M402.2 228.4h1M453.0 242.9h1M318.3 297.1h1M339.0 335.8h1M324.4 294.6h1M417.7 236.2h1M474.3 79.3h1M342.0 323.5h1M413.4 208.4h1M467.3 193.1h1M481.2 161.7h1M314.5 291.3h1M444.5 161.1h1M336.5 306.6h1M388.0 280.5h1M317.0 342.3h1M274.5 360.9h1M327.0 303.0h1M309.8 322.7h1M419.8 185.3h1M458.9 217.9h1M331.7 338.1h1M380.6 252.4h1M344.4 252.1h1M342.3 353.7h1M338.3 316.2h1M285.2 335.1h1M292.8 341.3h1M395.9 264.8h1M339.6 259.8h1M298.8 325.1h1M378.8 259.3h1M417.7 248.2h1M354.0 252.8h1M303.5 333.7h1M379.3 232.8h1M359.2 325.3h1M370.1 218.9h1M390.1 230.5h1M410.9 251.6h1M401.7 284.6h1M333.2 268.6h1M365.4 273.7h1M363.1 261.9h1M333.3 289.6h1M388.3 256.8h1M360.9 284.9h1M413.1 217.0h1M453.2 173.8h1M439.3 203.6h1M285.3 321.4h1M420.5 270.0h1M355.2 276.7h1M408.9 256.5h1M468.3 38.0h1M374.7 309.1h1M286.1 340.7h1M301.4 328.6h1M328.2 354.1h1M396.8 257.0h1M402.7 266.0h1M390.4 251.5h1M358.1 276.5h1M383.4 266.2h1M363.5 271.1h1M343.0 336.2h1M371.4 269.7h1M422.9 255.9h1M321.5 289.2h1M319.6 307.4h1M492.8 219.0h1M503.1 152.7h1M337.8 306.6h1M304.0 325.3h1M299.1 297.6h1M303.1 341.5h1M457.4 221.8h1M395.4 266.2h1M309.0 300.9h1M480.8 98.1h1M375.9 264.7h1M372.7 260.8h1M318.1 254.1h1M352.7 331.4h1M414.1 229.2h1M446.4 237.6h1M368.4 338.1h1M253.8 374.9h1M370.5 282.4h1M307.5 327.2h1M337.2 293.4h1M322.9 335.7h1M393.4 245.9h1M429.2 231.7h1M330.8 294.7h1M300.0 289.9h1M335.1 309.7h1M304.7 342.9h1M408.6 279.0h1M327.1 339.8h1M365.6 288.0h1M319.4 292.2h1M517.4 115.1h1M386.2 243.0h1M424.3 233.2h1M355.2 263.9h1M382.0 229.3h1M400.5 228.7h1M289.7 317.7h1M336.8 276.0h1M275.3 339.6h1M280.0 354.7h1M395.3 245.1h1M365.1 221.5h1M382.9 244.5h1M444.4 212.6h1M381.7 245.6h1M306.9 342.4h1M312.3 256.3h1M274.0 360.0h1M347.6 253.0h1M325.3 336.8h1M423.6 206.0h1M405.6 298.2h1M348.1 283.9h1M274.0 316.6h1M351.9 283.4h1M298.5 323.2h1M360.7 276.1h1M371.2 251.6h1M316.9 261.2h1M364.7 305.8h1M353.9 238.6h1M259.9 381.5h1M287.5 296.8h1M304.5 360.6h1M393.3 260.0h1M318.2 320.4h1M481.7 212.2h1M404.1 252.7h1M292.1 289.4h1M329.2 278.2h1M423.3 189.9h1M340.0 283.9h1M318.5 353.2h1M398.6 214.2h1M412.6 320.1h1M353.9 262.7h1M332.9 346.8h1M343.0 327.5h1M283.2 295.1h1M361.4 328.8h1M284.7 350.5h1M325.0 341.7h1M335.4 324.6h1M388.5 264.2h1M316.9 317.9h1M307.3 245.5h1M332.1 284.3h1M333.8 285.0h1M464.7 167.8h1M324.9 281.0h1M313.4 313.2h1M386.7 229.4h1M346.3 279.5h1M386.9 287.5h1M440.7 209.9h1M276.8 319.6h1M259.9 378.4h1M402.4 294.2h1M341.5 311.1h1M402.3 224.5h1M314.1 331.8h1M336.9 352.8h1M383.0 265.6h1M314.3 310.5h1M252.0 339.5h1M244.8 346.5h1M386.1 264.3h1M419.3 258.7h1M399.0 245.6h1M345.1 298.8h1M458.0 162.2h1M434.3 190.7h1M293.4 353.8h1M393.9 246.2h1M396.7 253.3h1M352.5 308.7h1M405.8 267.9h1M352.3 299.8h1M316.3 309.2h1M504.9 124.0h1M399.7 227.4h1M403.1 213.7h1M365.2 248.4h1M263.5 346.0h1M439.5 188.2h1M339.3 319.9h1M339.4 329.3h1M281.2 378.0h1M429.4 232.7h1M315.8 306.2h1M260.4 377.6h1M408.3 249.9h1M299.6 318.0h1M288.8 306.4h1M302.9 309.2h1M291.7 326.2h1M316.7 304.5h1M286.4 309.1h1M304.7 315.0h1M313.5 330.4h1M291.5 328.7h1M306.1 315.3h1M301.0 326.1h1M310.6 328.7h1M308.2 315.3h1M300.6 314.8h1M300.1 310.1h1M281.0 323.6h1M307.1 326.8h1M318.6 322.1h1M295.7 330.6h1M305.2 310.0h1M280.3 324.5h1M308.4 324.5h1M292.5 342.3h1M305.9 310.0h1M305.6 326.6h1M318.2 292.6h1M315.6 314.2h1M303.9 330.0h1M301.9 320.1h1M315.9 304.2h1M303.8 313.1h1M327.0 293.2h1M309.8 317.7h1M299.3 345.1h1M295.1 311.8h1M324.4 327.0h1M310.1 317.9h1M324.5 310.4h1M294.4 319.1h1M303.4 311.2h1M335.7 309.0h1M301.9 312.0h1M291.6 331.0h1M294.1 334.5h1M287.2 326.8h1M298.1 304.4h1M302.5 342.3h1M306.9 325.5h1M299.8 315.3h1M305.8 318.7h1M296.6 305.4h1M304.8 301.9h1M291.4 341.6h1M311.8 337.6h1M293.0 314.0h1M307.1 328.0h1M291.9 333.4h1M316.7 328.6h1M300.9 309.4h1M327.2 332.8h1M298.4 319.8h1M320.8 311.4h1M318.8 310.4h1M304.3 314.1h1M293.2 320.0h1M295.3 321.0h1M305.4 317.9h1M311.2 305.0h1M325.6 312.6h1M303.8 340.2h1M309.6 318.7h1M290.7 317.0h1M304.1 329.2h1M319.0 321.0h1M291.9 308.9h1M318.2 318.7h1M307.8 312.9h1M300.1 321.2h1M315.7 307.9h1M294.4 336.1h1M302.2 322.9h1M314.1 307.7h1M302.9 334.6h1M295.2 302.2h1M297.0 337.3h1M301.3 317.2h1M288.8 308.4h1M302.7 325.3h1M324.8 305.0h1M328.8 305.6h1M326.3 321.8h1M311.7 315.8h1M292.6 317.1h1M299.3 345.6h1M286.1 349.0h1M321.7 313.0h1M292.7 326.0h1M308.4 316.0h1M297.6 306.3h1M306.7 312.7h1M294.8 323.7h1M308.3 293.5h1M307.4 314.9h1M283.5 343.6h1M290.0 299.1h1M304.3 327.0h1M292.0 321.0h1M292.5 324.6h1M308.8 331.5h1M324.1 324.5h1M309.9 319.7h1M298.0 307.1h1M320.6 275.8h1M294.1 303.7h1M297.6 340.1h1M270.9 325.1h1M333.8 302.9h1M328.9 313.8h1M307.2 324.7h1M319.2 299.9h1M294.5 311.3h1M321.5 303.0h1M288.8 332.6h1M307.7 314.2h1M327.6 328.4h1M272.7 331.8h1M298.9 326.5h1M292.8 336.1h1M305.6 324.8h1M315.5 332.0h1M307.5 325.3h1M302.7 320.3h1M317.8 317.7h1M309.2 324.2h1M298.0 324.1h1M284.8 316.2h1M325.4 311.4h1M271.4 303.2h1M316.7 311.0h1M319.7 312.8h1M320.8 313.4h1M306.2 309.9h1M365.6 289.7h1M294.5 324.3h1M316.7 307.8h1M300.4 314.2h1M299.2 307.0h1M321.0 315.6h1M294.2 317.1h1M308.7 343.4h1M312.7 337.6h1M295.5 335.8h1M320.3 308.6h1M295.2 320.9h1M296.9 324.2h1M297.6 329.0h1M314.5 307.8h1M274.9 339.1h1M306.8 307.4h1M317.3 327.9h1M315.7 320.1h1M313.8 326.7h1M287.6 315.6h1M306.8 314.1h1M303.9 319.0h1M305.9 319.9h1M294.7 319.1h1M324.9 306.0h1M306.1 330.5h1M306.2 308.7h1M291.7 315.5h1M305.1 315.3h1M302.8 339.6h1M308.0 310.2h1M293.6 304.1h1M283.0 340.6h1M277.9 326.1h1M320.8 323.7h1M299.3 339.4h1M300.8 323.2h1M312.3 344.5h1M314.0 303.5h1M324.1 320.0h1M328.5 332.5h1M308.7 330.6h1M301.1 332.6h1M313.0 305.1h1M290.7 321.2h1M325.0 333.4h1M318.2 318.6h1M286.9 329.7h1M295.0 333.4h1M309.1 335.0h1M303.6 318.4h1M303.2 291.6h1M317.3 328.6h1M296.9 308.9h1M330.2 317.6h1M310.3 311.8h1M302.2 315.5h1M305.9 313.7h1M295.4 298.0h1M321.5 303.5h1M302.2 299.3h1M291.4 319.1h1M291.9 331.6h1M307.4 307.0h1M322.2 319.6h1M325.0 315.0h1M310.6 316.9h1M312.7 324.3h1M314.4 300.5h1M302.4 293.0h1M301.3 323.4h1M309.9 310.0h1M277.3 301.6h1M284.5 323.8h1M291.8 322.1h1M301.9 339.4h1M298.4 311.2h1M313.9 308.8h1M295.4 324.0h1M308.6 314.2h1M301.4 315.4h1M299.0 328.7h1M291.4 319.9h1M320.5 321.5h1M313.0 333.8h1M322.6 310.6h1M310.2 325.4h1M314.8 324.9h1M285.4 322.1h1M305.2 319.7h1M307.4 344.9h1M315.8 332.9h1M302.4 312.0h1M296.7 340.6h1M316.5 309.7h1M310.9 311.4h1M289.5 309.9h1M318.4 311.2h1M301.6 318.8h1M301.4 320.8h1M290.3 317.6h1M312.6 324.4h1M315.0 324.6h1M305.2 330.9h1M281.9 320.9h1M282.5 341.3h1M292.2 321.1h1M302.7 318.2h1M307.0 325.8h1M326.4 333.2h1M306.4 363.0h1M309.7 320.8h1M285.0 309.3h1M320.7 327.6h1M311.2 326.2h1M292.6 321.5h1M291.4 309.7h1M334.5 312.8h1M325.1 297.0h1M316.2 336.5h1M313.4 306.1h1M289.1 316.1h1M302.6 320.6h1M302.5 309.2h1M318.7 334.3h1M304.8 323.3h1M295.1 323.8h1M330.4 313.1h1M307.4 319.0h1M287.0 321.7h1M314.0 327.8h1M310.9 311.2h1M308.5 316.3h1M313.6 310.1h1M311.2 319.9h1M332.0 306.5h1M332.2 297.8h1M321.5 298.9h1M305.2 313.2h1M298.8 303.2h1M298.4 290.6h1M332.4 324.5h1M304.7 307.5h1M321.4 308.2h1M292.9 327.8h1M305.5 302.3h1M302.5 338.5h1M297.7 296.2h1M309.2 313.9h1M324.2 295.5h1M273.4 319.0h1M284.4 331.8h1M307.9 318.0h1M302.3 303.9h1M315.5 295.4h1M301.2 322.3h1M303.6 337.8h1M296.9 348.5h1M311.5 321.9h1M300.9 321.3h1M299.5 325.1h1M302.7 315.6h1M320.0 305.5h1M301.9 337.4h1M288.4 322.7h1M318.7 304.7h1M302.9 322.1h1M292.4 320.5h1M327.4 318.8h1M299.1 326.8h1M338.7 307.1h1M305.9 307.6h1M301.7 325.6h1M309.0 335.3h1M290.1 314.6h1M316.1 293.8h1M299.0 333.5h1M310.3 343.5h1M308.5 332.5h1M284.1 326.5h1M310.4 337.2h1M306.1 313.0h1M290.1 326.5h1M289.3 332.6h1M307.1 336.5h1M319.3 317.8h1M288.7 319.3h1M293.0 318.1h1M299.9 313.5h1M308.9 307.8h1M305.0 308.5h1M297.0 308.2h1M289.3 335.4h1M300.4 321.0h1M292.6 320.7h1M302.0 350.3h1M312.6 305.3h1M301.0 325.2h1M312.9 319.5h1M288.3 307.0h1M301.1 324.8h1M309.1 307.3h1M297.5 314.9h1M280.3 323.3h1M316.4 326.8h1M320.0 305.2h1M309.7 335.3h1M312.4 312.7h1M312.8 315.9h1M288.0 339.3h1M313.0 321.1h1M309.2 313.8h1M315.9 325.7h1M321.4 307.8h1M300.1 317.2h1M313.9 297.4h1M295.5 328.1h1M314.6 312.0h1M291.4 319.5h1M287.5 298.3h1M321.1 318.5h1M294.8 330.3h1M315.7 329.4h1M301.4 313.4h1M299.3 343.6h1M300.4 306.8h1M306.0 333.1h1M306.6 322.9h1M306.6 323.9h1M280.5 315.0h1M294.4 317.9h1M309.9 307.8h1M304.5 312.9h1M301.9 297.6h1M325.1 308.9h1M331.5 309.3h1M318.2 313.7h1M304.4 318.2h1M295.9 316.1h1M304.1 315.0h1M309.3 335.4h1M311.9 318.7h1M307.7 329.4h1M283.2 310.4h1M322.9 289.3h1M322.9 303.8h1M307.4 330.5h1M286.6 340.8h1M313.1 310.1h1M286.9 346.5h1M312.8 8.8h1M429.2 9.9h1M487.5 7.4h1M224.2 21.2h1M314.3 25.3h1M345.0 27.0h1M459.6 33.3h1M484.9 30.4h1M533.1 32.4h1M374.1 35.6h1M389.5 35.7h1M304.1 38.6h1M436.5 38.2h1M298.8 42.6h1M512.3 43.6h1M264.1 54.5h1M450.8 56.8h1M455.8 57.2h1M273.8 58.7h1M354.3 60.6h1M530.4 59.1h1M207.7 64.3h1M267.3 65.6h1M336.4 65.5h1M420.0 62.3h1M451.0 64.7h1M343.4 70.0h1M236.7 70.6h1M355.8 73.0h1M342.8 81.7h1M491.2 82.1h1M310.3 87.8h1M471.0 87.3h1M502.5 87.8h1M225.3 91.0h1M242.7 90.0h1M287.1 91.1h1M302.5 90.1h1M318.5 96.7h1M351.1 94.5h1M246.6 98.3h1M289.4 99.2h1M347.5 99.7h1M354.2 101.3h1M360.7 101.7h1M564.1 101.1h1M255.6 104.2h1M256.9 104.9h1M284.9 102.4h1M328.4 104.6h1M329.7 103.8h1M344.2 103.1h1M371.5 103.5h1M417.5 103.9h1M450.5 105.0h1M303.7 108.1h1M306.2 109.7h1M352.1 107.9h1M441.7 108.4h1M253.3 113.6h1M256.2 110.2h1M254.2 112.6h1M273.2 111.2h1M305.7 111.1h1M316.4 112.5h1M371.5 113.6h1M370.2 114.1h1M378.9 117.8h1M387.0 116.4h1M395.0 114.1h1M409.1 114.4h1M231.8 121.9h1M253.0 120.6h1M284.2 119.1h1M354.1 121.8h1M366.4 118.4h1M329.8 123.4h1M356.0 125.1h1M381.1 122.4h1M413.3 124.2h1M237.1 128.5h1M276.9 127.9h1M332.3 126.0h1M425.4 126.7h1M576.3 129.8h1M233.7 131.2h1M248.4 131.7h1M311.6 130.8h1M411.0 133.3h1M438.3 130.7h1M477.1 130.6h1M239.9 136.2h1M263.0 134.7h1M365.6 136.0h1M367.4 137.6h1M367.2 135.7h1M242.3 140.6h1M256.3 139.6h1M301.5 141.5h1M310.9 140.1h1M335.5 140.9h1M502.0 138.1h1M565.3 141.6h1M193.3 142.7h1M256.3 145.6h1M269.9 144.4h1M283.3 145.2h1M299.2 145.2h1M300.9 145.1h1M302.8 145.5h1M317.3 142.7h1M324.5 144.4h1M356.3 142.8h1M372.3 142.8h1M228.1 147.4h1M231.4 146.5h1M236.2 149.4h1M258.9 149.1h1M281.2 149.4h1M371.6 149.4h1M462.0 148.6h1M469.9 147.1h1M546.3 146.9h1M287.4 152.4h1M294.2 151.7h1M307.0 151.8h1M312.9 151.0h1M320.3 150.8h1M358.1 153.4h1M367.4 151.6h1M391.1 150.9h1M255.9 154.2h1M260.3 154.1h1M261.5 157.0h1M273.6 155.2h1M352.3 155.3h1M454.8 154.8h1M467.5 155.0h1M279.3 158.1h1M286.3 161.2h1M303.0 160.7h1M312.8 158.0h1M382.3 161.5h1M460.3 160.8h1M459.9 160.2h1M196.8 164.0h1M216.9 164.0h1M266.2 162.6h1M334.2 162.3h1M339.8 165.9h1M343.2 165.8h1M379.5 163.7h1M399.9 164.7h1M420.7 164.4h1M153.8 169.9h1M173.8 169.4h1M213.0 166.7h1M272.1 167.1h1M290.2 167.9h1M304.5 169.2h1M318.9 166.5h1M338.2 166.1h1M366.6 168.4h1M401.8 166.4h1M410.5 168.7h1M415.1 167.6h1M218.5 172.9h1M221.1 171.7h1M251.9 173.5h1M250.8 172.7h1M316.3 172.8h1M344.9 171.0h1M353.1 172.9h1M375.5 173.0h1M378.1 174.0h1M224.2 174.9h1M236.2 175.3h1M310.8 174.3h1M402.2 177.6h1M403.9 176.9h1M423.5 176.6h1M473.1 175.4h1M219.1 178.6h1M252.9 180.3h1M253.2 178.5h1M258.2 178.6h1M270.2 181.4h1M362.5 181.8h1M385.5 181.8h1M417.4 181.2h1M428.5 178.4h1M492.9 178.8h1M259.5 184.9h1M264.3 183.0h1M262.2 182.4h1M281.2 185.3h1M286.5 184.7h1M325.9 182.4h1M327.1 182.9h1M349.1 182.8h1M361.1 183.9h1M385.8 182.6h1M392.9 185.8h1M411.8 185.2h1M451.6 183.5h1M176.7 188.4h1M256.7 189.4h1M274.6 187.6h1M286.9 189.6h1M342.9 188.7h1M383.3 189.0h1M394.5 188.5h1M481.9 186.0h1M168.7 191.1h1M191.0 192.8h1M199.0 191.8h1M252.3 193.4h1M281.9 190.5h1M304.5 192.3h1M256.3 197.4h1M337.1 198.0h1M360.0 195.7h1M359.8 194.5h1M473.0 196.8h1M242.9 198.3h1M247.9 201.0h1M253.7 199.0h1M267.9 198.5h1M288.3 200.9h1M310.9 200.7h1M319.8 199.8h1M319.5 200.2h1M328.1 200.2h1M356.1 199.3h1M420.7 199.7h1M489.0 198.2h1M222.9 202.5h1M229.5 202.3h1M234.9 203.7h1M269.9 205.1h1M309.9 202.3h1M327.6 204.8h1M332.2 203.9h1M330.1 204.1h1M339.6 202.4h1M373.3 205.6h1M377.4 204.0h1M382.2 204.6h1M421.8 205.6h1M459.4 204.6h1M514.3 204.6h1M247.9 206.6h1M260.2 208.2h1M266.1 209.5h1M292.5 209.1h1M336.6 208.4h1M338.2 206.8h1M356.2 206.4h1M361.5 206.2h1M368.1 208.5h1M388.3 206.8h1M400.2 208.4h1M413.1 207.6h1M423.9 208.9h1M162.8 210.9h1M196.4 212.7h1M210.8 212.8h1M302.0 210.3h1M359.1 211.6h1M360.9 210.4h1M368.0 210.3h1M375.8 212.7h1M216.2 217.9h1M218.5 215.3h1M225.4 214.6h1M259.9 215.9h1M287.9 214.6h1M309.0 217.1h1M312.5 215.7h1M326.2 217.2h1M368.9 215.5h1M381.9 218.0h1M420.7 217.5h1M512.9 215.0h1M264.2 219.7h1M265.6 219.3h1M275.4 220.4h1M322.8 218.8h1M386.8 220.6h1M400.2 219.1h1M428.7 219.3h1M433.5 220.4h1M568.9 218.0h1M202.0 224.2h1M218.8 224.4h1M245.6 223.4h1M256.3 223.2h1M279.7 222.3h1M285.4 222.4h1M334.0 224.3h1M349.5 223.3h1M364.5 222.2h1M363.2 225.1h1M366.1 223.1h1M386.9 224.6h1M391.7 223.3h1M395.5 222.5h1M412.4 223.6h1M463.3 225.9h1M476.5 222.5h1M194.5 229.5h1M294.9 227.5h1M391.2 229.2h1M396.1 228.2h1M480.4 228.6h1M552.8 227.0h1M156.0 233.7h1M216.1 231.6h1M282.3 233.3h1M289.8 231.0h1M310.4 233.7h1M315.1 230.3h1M342.7 232.6h1M350.5 230.0h1M353.7 231.0h1M377.4 232.8h1M507.8 233.4h1M183.5 234.7h1M183.1 237.6h1M223.2 237.8h1M232.5 236.3h1M234.1 237.3h1M242.9 234.9h1M278.8 236.3h1M294.6 236.0h1M303.8 236.4h1M308.3 236.4h1M325.2 234.5h1M357.4 236.4h1M364.2 234.5h1M368.3 235.1h1M486.4 234.1h1M506.9 234.0h1M515.0 237.5h1M179.6 240.2h1M203.5 238.1h1M233.5 239.6h1M323.8 238.6h1M371.0 240.7h1M375.8 241.6h1M397.4 239.1h1M402.2 241.7h1M184.2 245.1h1M232.8 242.7h1M250.9 242.9h1M251.3 242.7h1M260.7 243.4h1M279.1 242.5h1M310.7 242.1h1M310.5 245.1h1M325.0 243.4h1M333.8 243.6h1M370.0 242.4h1M381.0 245.6h1M451.8 244.6h1M459.9 244.3h1M511.7 245.5h1M236.6 248.8h1M241.5 247.5h1M258.2 249.5h1M263.0 247.8h1M277.2 247.3h1M282.9 249.4h1M292.5 246.7h1M289.6 246.9h1M310.6 248.5h1M366.1 248.1h1M397.3 246.8h1M402.0 246.1h1M466.9 248.5h1M486.3 249.4h1M161.5 253.3h1M184.1 252.7h1M228.3 253.2h1M246.9 251.6h1M271.5 253.3h1M288.7 250.6h1M299.0 250.4h1M313.9 253.3h1M332.8 250.3h1M346.6 253.6h1M361.5 251.8h1M391.8 250.0h1M428.0 252.1h1M529.5 252.0h1M147.7 255.0h1M182.2 254.5h1M220.6 256.2h1M284.4 256.5h1M285.8 257.1h1M322.5 255.5h1M367.9 254.8h1M369.2 255.1h1M387.7 257.7h1M393.0 254.5h1M418.9 256.2h1M223.4 261.3h1M230.3 260.1h1M234.2 259.4h1M266.3 261.8h1M351.0 259.9h1M383.9 260.3h1M387.9 259.4h1M420.6 258.1h1M485.5 258.9h1M290.6 263.7h1M323.5 265.3h1M321.8 265.4h1M332.9 262.3h1M336.2 265.6h1M350.1 265.7h1M364.2 263.5h1M392.0 266.0h1M396.9 265.6h1M423.8 262.6h1M434.7 262.5h1M167.2 268.0h1M215.3 266.8h1M243.5 267.5h1M259.9 269.4h1M277.8 266.3h1M317.6 267.2h1M317.5 268.6h1M343.9 269.0h1M360.3 268.7h1M383.3 268.4h1M392.9 267.1h1M400.2 268.1h1M401.9 267.3h1M473.9 266.8h1M222.2 271.7h1M224.8 273.7h1M234.1 270.8h1M253.4 271.0h1M255.4 272.9h1M270.2 270.7h1M279.6 272.2h1M297.4 271.8h1M301.9 270.0h1M307.5 270.1h1M319.3 270.5h1M333.0 272.9h1M357.5 270.9h1M360.6 271.2h1M572.2 273.4h1M217.1 275.5h1M228.7 277.0h1M253.0 275.3h1M297.5 275.7h1M308.2 276.4h1M307.7 276.0h1M317.4 277.2h1M352.9 277.5h1M368.0 276.9h1M404.9 274.7h1M417.2 275.6h1M231.3 279.1h1M236.2 280.9h1M236.4 279.9h1M250.4 279.4h1M258.1 281.9h1M268.4 280.2h1M267.0 278.2h1M265.1 281.5h1M274.3 279.4h1M273.4 281.6h1M307.9 280.6h1M340.9 281.2h1M344.8 279.4h1M344.6 280.0h1M350.2 278.4h1M393.7 281.4h1M162.2 283.6h1M221.5 283.7h1M222.3 283.2h1M265.1 283.0h1M277.3 283.5h1M289.4 283.6h1M289.4 284.4h1M295.0 284.3h1M320.5 282.9h1M330.4 283.6h1M363.9 285.8h1M375.3 283.4h1M397.9 284.5h1M401.6 282.2h1M410.5 285.5h1M422.8 285.0h1M434.1 284.9h1M152.4 286.2h1M211.8 289.0h1M240.1 288.0h1M262.7 286.5h1M299.5 286.3h1M299.3 289.8h1M297.4 289.4h1M306.5 290.0h1M310.7 288.7h1M326.4 288.8h1M365.1 286.8h1M381.1 286.2h1M433.5 286.3h1M186.3 293.9h1M217.5 291.2h1M231.3 290.6h1M235.0 293.6h1M233.2 292.7h1M234.4 291.9h1M259.9 292.5h1M263.1 291.5h1M269.2 293.1h1M288.8 290.9h1M295.5 291.0h1M295.6 292.6h1M368.3 292.5h1M380.8 291.3h1M403.8 293.0h1M420.8 293.4h1M115.0 296.2h1M214.2 296.7h1M217.6 296.7h1M230.2 297.2h1M281.2 294.5h1M298.2 295.4h1M317.7 297.0h1M327.2 295.4h1M337.3 297.4h1M375.0 294.4h1M391.9 296.3h1M395.5 294.5h1M427.7 297.8h1M440.7 295.0h1M448.5 295.8h1M112.6 299.6h1M207.4 301.9h1M206.9 299.9h1M237.8 298.6h1M251.0 298.3h1M251.0 299.9h1M281.8 299.5h1M290.9 299.9h1M297.6 300.5h1M371.5 298.9h1M375.8 300.1h1M377.2 298.7h1M436.3 300.7h1M445.0 300.9h1M175.1 305.4h1M228.1 303.1h1M247.8 303.2h1M289.1 303.1h1M299.0 302.1h1M355.0 305.6h1M365.3 304.3h1M398.6 303.8h1M423.2 305.6h1M257.2 309.6h1M299.4 307.5h1M304.0 307.3h1M311.4 306.4h1M339.2 306.8h1M364.5 307.9h1M377.6 307.0h1M382.9 309.2h1M405.5 307.4h1M416.0 308.9h1M206.2 312.7h1M216.1 312.4h1M224.7 310.3h1M230.3 311.5h1M238.8 311.1h1M241.3 311.9h1M254.0 310.5h1M292.3 313.2h1M326.3 310.8h1M336.8 310.5h1M391.9 312.3h1M415.3 312.8h1M175.8 317.1h1M201.8 314.6h1M265.1 315.5h1M278.4 314.3h1M293.9 314.0h1M340.0 317.8h1M438.0 316.0h1M182.3 318.2h1M217.8 320.3h1M224.7 321.9h1M230.2 321.2h1M233.5 318.4h1M273.0 319.3h1M283.3 319.8h1M300.1 321.0h1M300.2 318.3h1M368.5 320.4h1M390.5 320.2h1M439.6 321.3h1M445.8 322.0h1M200.5 324.0h1M229.7 322.5h1M235.5 324.6h1M256.7 324.2h1M277.4 325.8h1M293.3 325.5h1M299.8 324.8h1M319.3 324.1h1M348.1 323.0h1M387.2 325.8h1M491.2 325.9h1M200.8 328.8h1M230.0 328.9h1M238.3 327.3h1M240.7 329.5h1M250.9 328.0h1M282.4 326.0h1M297.4 327.5h1M399.1 328.9h1M224.4 331.8h1M289.9 332.4h1M300.6 333.3h1M313.2 331.8h1M369.7 331.2h1M396.5 332.1h1M403.5 331.4h1M410.9 333.3h1M200.8 334.4h1M232.9 334.4h1M245.7 335.9h1M266.5 334.7h1M302.2 337.3h1M316.2 335.1h1M318.0 335.5h1M336.0 335.8h1M368.5 334.8h1M426.5 334.8h1M438.5 335.5h1M442.0 334.5h1M194.3 340.8h1M249.6 339.6h1M267.2 340.7h1M294.9 342.0h1M301.9 340.9h1M307.1 339.1h1M346.1 340.4h1M530.8 338.7h1M232.5 344.7h1M251.9 343.7h1M259.9 346.0h1M265.2 342.8h1M271.1 343.9h1M279.7 344.0h1M281.7 344.8h1M290.3 345.3h1M309.9 343.2h1M355.3 344.8h1M191.7 349.8h1M275.1 347.2h1M285.9 346.1h1M291.1 346.9h1M299.7 347.9h1M330.9 349.7h1M380.0 346.4h1M401.4 349.8h1M477.3 347.3h1M240.8 350.8h1M250.3 353.8h1M266.1 351.0h1M284.7 352.6h1M298.3 352.6h1M298.6 351.4h1M175.4 356.1h1M231.6 358.0h1M248.7 357.4h1M315.9 357.8h1M316.0 355.6h1M359.4 354.4h1M360.1 356.1h1M376.2 354.9h1M402.8 357.2h1M420.8 355.9h1M204.9 359.8h1M268.2 359.5h1M290.4 360.2h1M363.7 359.1h1M174.7 365.6h1M224.3 363.9h1M257.5 363.6h1M257.4 364.0h1M293.6 363.0h1M305.4 363.7h1M369.0 364.3h1M156.2 368.4h1M221.8 367.6h1M229.1 367.1h1M273.6 368.4h1M279.7 369.8h1M326.6 368.2h1M333.9 368.9h1M356.8 369.7h1M376.3 369.4h1M381.3 367.6h1M416.8 368.9h1M427.0 366.2h1M240.5 370.4h1M252.1 372.1h1M315.4 374.0h1M329.2 372.5h1M379.4 371.3h1M451.7 370.6h1M254.7 377.0h1M300.1 377.4h1M317.0 375.4h1M210.4 380.3h1M240.7 381.7h1M239.5 380.9h1M257.0 380.4h1M254.7 379.0h1M279.0 380.7h1M356.0 381.2h1M377.7 381.1h1M270.8 385.3h1M269.3 383.7h1M286.6 385.8h1M308.8 382.2h1M317.5 385.6h1M329.6 384.3h1M331.3 383.1h1M342.2 384.7h1M351.1 385.6h1M358.9 382.2h1M201.5 387.4h1M270.1 389.3h1M302.0 386.5h1M399.4 389.0h1M405.2 386.1h1M222.8 391.5h1M250.5 390.6h1M353.2 392.3h1M232.9 396.7h1M234.0 400.4h1M297.5 398.3h1M325.8 398.2h1M497.7 399.7h1M281.0 404.0h1M294.0 405.0h1M294.8 405.4h1M366.0 402.6h1M464.3 404.4h1M286.2 407.4h1M410.9 408.0h1M287.2 410.2h1M286.4 412.0h1M313.0 413.9h1M371.6 411.0h1M268.4 416.1h1M292.1 417.6h1M231.5 424.1h1M267.1 425.4h1M201.3 428.9h1M210.2 432.4h1M292.3 432.4h1M479.6 432.3h1M490.5 432.2h1M247.1 434.8h1M291.8 435.0h1M320.8 435.5h1M432.9 435.4h1M223.5 439.4h1M254.0 441.8h1M257.3 440.5h1M290.9 441.0h1M293.8 440.5h1M349.5 440.8h1M442.8 438.8h1M168.9 442.6h1M282.6 442.2h1M306.6 445.1h1M271.4 448.2h1M438.9 446.1h1M258.9 450.8h1M289.0 454.9h1M295.5 454.3h1M284.8 460.1h1M374.9 458.9h1M241.8 466.8h1M253.0 468.6h1M373.9 467.0h1M441.9 476.0h1M316.7 487.9h1M320.2 489.1h1M324.4 488.1h1M281.8 495.8h1M176.1 499.4h1M323.1 503.0h1M179.5 525.7h1M334.1 525.0h1M505.9 523.2h1M152.3 526.3h1M230.0 544.6h1M227.0 548.3h1" stroke="#8c8c8c" stroke-width="1" fill="none"/><path d="M139.7 524.8 L142.7 522.9 L145.7 520.9 L148.7 518.8 L151.7 516.6 L154.7 514.3 L157.7 511.9 L160.7 509.3 L163.7 506.6 L166.7 503.8 L169.7 500.9 L172.7 497.9 L175.7 494.8 L178.7 491.6 L181.7 488.2 L184.7 484.8 L187.7 481.3 L190.7 477.7 L193.7 474.0 L196.7 470.3 L199.7 466.4 L202.7 462.5 L205.7 458.6 L208.7 454.6 L211.7 450.5 L214.7 446.4 L217.7 442.3 L220.7 438.2 L223.7 434.0 L226.7 429.8 L229.7 425.6 L232.7 421.4 L235.7 417.3 L238.7 413.1 L241.7 408.9 L244.7 404.8 L247.7 400.7 L250.7 396.7 L253.7 392.6 L256.7 388.7 L259.7 384.8 L262.7 380.9 L265.7 377.1 L268.7 373.4 L271.7 369.7 L274.7 366.2 L277.7 362.7 L280.7 359.2 L283.7 355.9 L286.7 352.6 L289.7 349.4 L292.7 346.3 L295.7 343.3 L298.7 340.3 L301.7 337.5 L304.7 334.7 L307.7 331.9 L310.7 329.3 L313.7 326.7 L316.7 324.1 L319.7 321.6 L322.7 319.2 L325.7 316.8 L328.7 314.4 L331.7 312.0 L345.0 299.0 L363.0 285.5 L380.0 272.0 L399.0 254.0 L410.0 244.5 L425.0 233.0 L440.0 224.0 L445.0 220.5 L461.7 214.2 L476.0 215.3 L484.0 221.0 L496.0 238.5 L509.3 286.7 L510.7 300.0 L515.7 340.0 L519.8 372.0 L523.0 430.0 L526.4 491.0 L526.9 566.0" stroke="#dc0000" stroke-width="2.4" fill="none" stroke-linejoin="miter"/><path d="M205.8 416.3V438.3M202.8 416.3h6.0M202.8 438.3h6.0M210.0 427.5H226.7M210.0 424.5v6.0M226.7 424.5v6.0M217.8 398.8V455.8M214.8 398.8h6.0M214.8 455.8h6.0M232.0 395.3V405.3M229.0 395.3h6.0M229.0 405.3h6.0M237.0 418.7V432.7M234.0 418.7h6.0M234.0 432.7h6.0M263.3 385.5H282.5M263.3 382.5v6.0M282.5 382.5v6.0M272.8 356.3V414.5M269.8 356.3h6.0M269.8 414.5h6.0M275.8 352.0V360.0M272.8 352.0h6.0M272.8 360.0h6.0M278.7 364.0V370.5M275.7 364.0h6.0M275.7 370.5h6.0M299.2 361.2H306.7M299.2 358.2v6.0M306.7 358.2v6.0M303.0 352.5V369.5M300.0 352.5h6.0M300.0 369.5h6.0M306.7 362.5H318.3M306.7 359.5v6.0M318.3 359.5v6.0M313.0 348.3V377.0M310.0 348.3h6.0M310.0 377.0h6.0M214.5 318.2H234.2M214.5 315.2v6.0M234.2 315.2v6.0M224.0 291.1V344.8M221.0 291.1h6.0M221.0 344.8h6.0M254.7 284.5H276.7M254.7 281.5v6.0M276.7 281.5v6.0M265.8 255.8V312.8M262.8 255.8h6.0M262.8 312.8h6.0M270.3 264.6H290.2M270.3 261.6v6.0M290.2 261.6v6.0M280.4 239.7V288.8M277.4 239.7h6.0M277.4 288.8h6.0M293.7 265.0H320.5M293.7 262.0v6.0M320.5 262.0v6.0M307.0 234.2V295.3M304.0 234.2h6.0M304.0 295.3h6.0M283.5 304.0V319.0M280.5 304.0h6.0M280.5 319.0h6.0M287.5 307.0V323.0M284.5 307.0h6.0M284.5 323.0h6.0M312.5 310.0V336.0M309.5 310.0h6.0M309.5 336.0h6.0M292.0 327.0V340.0M289.0 327.0h6.0M289.0 340.0h6.0M311.5 290.5H323.0M311.5 287.5v6.0M323.0 287.5v6.0M317.3 275.5V300.0M314.3 275.5h6.0M314.3 300.0h6.0M328.0 240.0H359.2M328.0 237.0v6.0M359.2 237.0v6.0M343.8 213.3V249.3M340.8 213.3h6.0M340.8 249.3h6.0M335.0 271.0H352.5M335.0 268.0v6.0M352.5 268.0v6.0M344.0 249.3V292.0M341.0 249.3h6.0M341.0 292.0h6.0M332.0 278.0V291.0M329.0 278.0h6.0M329.0 291.0h6.0M337.5 278.0V290.0M334.5 278.0h6.0M334.5 290.0h6.0M326.2 295.0V335.0M323.2 295.0h6.0M323.2 335.0h6.0M376.7 277.5V288.7M373.7 277.5h6.0M373.7 288.7h6.0M393.5 257.5V273.0M390.5 257.5h6.0M390.5 273.0h6.0M407.3 237.0V242.8M404.3 237.0h6.0M404.3 242.8h6.0M453.0 181.5V193.0M450.0 181.5h6.0M450.0 193.0h6.0M314.7 239.2H341.7M314.7 236.2v6.0M341.7 236.2v6.0M328.0 208.0V269.2M325.0 208.0h6.0M325.0 269.2h6.0M409.2 217.5H419.7M409.2 214.5v6.0M419.7 214.5v6.0M414.3 207.5V227.2M411.3 207.5h6.0M411.3 227.2h6.0M520.7 80.2V85.8M517.7 80.2h6.0M517.7 85.8h6.0M509.7 128.8H519.6M509.7 125.8v6.0M519.6 125.8v6.0M514.3 124.7V132.8M511.3 124.7h6.0M511.3 132.8h6.0M494.5 146.8H502.0M494.5 143.8v6.0M502.0 143.8v6.0M498.6 141.6V152.0M495.6 141.6h6.0M495.6 152.0h6.0M522.3 34.3H535.7M522.3 31.3v6.0M535.7 31.3v6.0M529.0 29.0V39.7M526.0 29.0h6.0M526.0 39.7h6.0M491.0 101.9H501.0M491.0 98.9v6.0M501.0 98.9v6.0M498.4 88.5V110.7M495.4 88.5h6.0M495.4 110.7h6.0M503.3 101.9H515.5M503.3 98.9v6.0M515.5 98.9v6.0M509.7 93.8V109.5M506.7 93.8h6.0M506.7 109.5h6.0M497.4 125.0V131.5M494.4 125.0h6.0M494.4 131.5h6.0" stroke="#111" stroke-width="1.5" fill="none"/><path d="M472.7 30.3H478.3V39.0H472.7ZM486.3 26.7H493.0V33.7H486.3ZM483.7 44.3H490.3V54.3H483.7ZM507.0 71.0H513.0V79.0H507.0ZM477.6 153.8H482.3V161.4H477.6ZM489.0 104.5H495.5V111.0H489.0ZM488.0 110.7H495.0V117.5H488.0ZM505.6 114.8H512.0V121.8H505.6ZM493.5 117.8H500.0V124.5H493.5Z" stroke="#111" stroke-width="1.5" fill="#fff"/><path d="M168.30 480.00L176.10 480.00M170.25 476.62L174.15 483.38M174.15 476.62L170.25 483.38M187.60 465.00L195.40 465.00M189.55 461.62L193.45 468.38M193.45 461.62L189.55 468.38M201.90 427.50L209.70 427.50M203.85 424.12L207.75 430.88M207.75 424.12L203.85 430.88M206.10 434.00L213.90 434.00M208.05 430.62L211.95 437.38M211.95 430.62L208.05 437.38M213.90 427.50L221.70 427.50M215.85 424.12L219.75 430.88M219.75 424.12L215.85 430.88M217.80 441.00L225.60 441.00M219.75 437.62L223.65 444.38M223.65 437.62L219.75 444.38M222.80 397.00L230.60 397.00M224.75 393.62L228.65 400.38M228.65 393.62L224.75 400.38M228.10 400.50L235.90 400.50M230.05 397.12L233.95 403.88M233.95 397.12L230.05 403.88M233.10 425.30L240.90 425.30M235.05 421.92L238.95 428.68M238.95 421.92L235.05 428.68M249.90 393.00L257.70 393.00M251.85 389.62L255.75 396.38M255.75 389.62L251.85 396.38M268.90 385.50L276.70 385.50M270.85 382.12L274.75 388.88M274.75 382.12L270.85 388.88M271.90 354.70L279.70 354.70M273.85 351.32L277.75 358.08M277.75 351.32L273.85 358.08M273.60 358.50L281.40 358.50M275.55 355.12L279.45 361.88M279.45 355.12L275.55 361.88M274.80 367.20L282.60 367.20M276.75 363.82L280.65 370.58M280.65 363.82L276.75 370.58M299.10 361.20L306.90 361.20M301.05 357.82L304.95 364.58M304.95 357.82L301.05 364.58M309.10 362.50L316.90 362.50M311.05 359.12L314.95 365.88M314.95 359.12L311.05 365.88M220.10 318.20L227.90 318.20M222.05 314.82L225.95 321.58M225.95 314.82L222.05 321.58M261.90 284.50L269.70 284.50M263.85 281.12L267.75 287.88M267.75 281.12L263.85 287.88M276.50 264.60L284.30 264.60M278.45 261.22L282.35 267.98M282.35 261.22L278.45 267.98M303.10 265.00L310.90 265.00M305.05 261.62L308.95 268.38M308.95 261.62L305.05 268.38M279.60 311.50L287.40 311.50M281.55 308.12L285.45 314.88M285.45 308.12L281.55 314.88M283.60 316.50L291.40 316.50M285.55 313.12L289.45 319.88M289.45 313.12L285.55 319.88M286.10 320.00L293.90 320.00M288.05 316.62L291.95 323.38M291.95 316.62L288.05 323.38M293.60 322.50L301.40 322.50M295.55 319.12L299.45 325.88M299.45 319.12L295.55 325.88M296.60 325.00L304.40 325.00M298.55 321.62L302.45 328.38M302.45 321.62L298.55 328.38M308.60 323.00L316.40 323.00M310.55 319.62L314.45 326.38M314.45 319.62L310.55 326.38M288.10 333.00L295.90 333.00M290.05 329.62L293.95 336.38M293.95 329.62L290.05 336.38M275.10 334.50L282.90 334.50M277.05 331.12L280.95 337.88M280.95 331.12L277.05 337.88M313.60 305.30L321.40 305.30M315.55 301.92L319.45 308.68M319.45 301.92L315.55 308.68M449.40 187.00L456.60 187.00M451.20 183.88L454.80 190.12M454.80 183.88L451.20 190.12M325.45 236.65L330.55 241.75M330.55 236.65L325.45 241.75M325.45 302.45L330.55 307.55M330.55 302.45L325.45 307.55M411.75 214.95L416.85 220.05M416.85 214.95L411.75 220.05M472.85 32.05L477.95 37.15M477.95 32.05L472.85 37.15M487.05 27.65L492.15 32.75M492.15 27.65L487.05 32.75M490.45 25.75L495.55 30.85M495.55 25.75L490.45 30.85M484.45 46.85L489.55 51.95M489.55 46.85L484.45 51.95M507.15 72.45L512.25 77.55M512.25 72.45L507.15 77.55M504.95 74.95L510.05 80.05M510.05 74.95L504.95 80.05M518.15 80.45L523.25 85.55M523.25 80.45L518.15 85.55M502.15 84.95L507.25 90.05M507.25 84.95L502.15 90.05M483.75 119.75L488.85 124.85M488.85 119.75L483.75 124.85M511.75 126.25L516.85 131.35M516.85 126.25L511.75 131.35M500.75 129.15L505.85 134.25M505.85 129.15L500.75 134.25M498.25 128.95L503.35 134.05M503.35 128.95L498.25 134.05M489.65 126.75L494.75 131.85M494.75 126.75L489.65 131.85M491.45 131.45L496.55 136.55M496.55 131.45L491.45 136.55M502.45 138.95L507.55 144.05M507.55 138.95L502.45 144.05M504.45 136.45L509.55 141.55M509.55 136.45L504.45 141.55M496.05 144.25L501.15 149.35M501.15 144.25L496.05 149.35M484.95 144.85L490.05 149.95M490.05 144.85L484.95 149.95M477.45 154.75L482.55 159.85M482.55 154.75L477.45 159.85M485.55 153.65L490.65 158.75M490.65 153.65L485.55 158.75M492.45 155.95L497.55 161.05M497.55 155.95L492.45 161.05M496.05 155.45L501.15 160.55M501.15 155.45L496.05 160.55M498.95 155.45L504.05 160.55M504.05 155.45L498.95 160.55M525.50 34.30L532.50 34.30M529.00 30.80L529.00 37.80M517.20 58.70L524.20 58.70M520.70 55.20L520.70 62.20M487.20 93.80L494.20 93.80M490.70 90.30L490.70 97.30M494.90 101.90L501.90 101.90M498.40 98.40L498.40 105.40M506.20 101.90L513.20 101.90M509.70 98.40L509.70 105.40M488.70 107.80L495.70 107.80M492.20 104.30L492.20 111.30M492.20 106.60L499.20 106.60M495.70 103.10L495.70 110.10M488.10 114.30L495.10 114.30M491.60 110.80L491.60 117.80M506.20 118.30L513.20 118.30M509.70 114.80L509.70 121.80M493.30 121.20L500.30 121.20M496.80 117.70L496.80 124.70M486.90 131.70L493.90 131.70M490.40 128.20L490.40 135.20M493.90 128.20L500.90 128.20M497.40 124.70L497.40 131.70" stroke="#111" stroke-width="1.4" fill="none"/><circle cx="172.2" cy="480" r="2.5" fill="#e000e0"/><circle cx="191.5" cy="465" r="2.5" fill="#e000e0"/><circle cx="205.8" cy="427.5" r="2.5" fill="#e000e0"/><circle cx="210" cy="434" r="2.5" fill="#e000e0"/><circle cx="217.8" cy="427.5" r="2.5" fill="#e000e0"/><circle cx="221.7" cy="441" r="2.5" fill="#e000e0"/><circle cx="226.7" cy="397" r="2.5" fill="#e000e0"/><circle cx="232" cy="400.5" r="2.5" fill="#e000e0"/><circle cx="237" cy="425.3" r="2.5" fill="#e000e0"/><circle cx="253.8" cy="393" r="2.5" fill="#e000e0"/><circle cx="272.8" cy="385.5" r="2.5" fill="#e000e0"/><circle cx="275.8" cy="354.7" r="2.5" fill="#e000e0"/><circle cx="277.5" cy="358.5" r="2.5" fill="#e000e0"/><circle cx="278.7" cy="367.2" r="2.5" fill="#e000e0"/><circle cx="303" cy="361.2" r="2.5" fill="#e000e0"/><circle cx="313" cy="362.5" r="2.5" fill="#e000e0"/><circle cx="224" cy="318.2" r="2.5" fill="#e000e0"/><circle cx="265.8" cy="284.5" r="2.5" fill="#e000e0"/><circle cx="280.4" cy="264.6" r="2.5" fill="#e000e0"/><circle cx="307" cy="265" r="2.5" fill="#e000e0"/><circle cx="283.5" cy="311.5" r="2.5" fill="#e000e0"/><circle cx="287.5" cy="316.5" r="2.5" fill="#e000e0"/><circle cx="290" cy="320" r="2.5" fill="#e000e0"/><circle cx="297.5" cy="322.5" r="2.5" fill="#e000e0"/><circle cx="300.5" cy="325" r="2.5" fill="#e000e0"/><circle cx="312.5" cy="323" r="2.5" fill="#e000e0"/><circle cx="292" cy="333" r="2.5" fill="#e000e0"/><circle cx="279" cy="334.5" r="2.5" fill="#e000e0"/><circle cx="317.5" cy="305.3" r="2.5" fill="#e000e0"/><path d="M317.3 286.7L320.8 293.3L313.8 293.3Z" fill="#10e010" stroke="#10e010" stroke-width="0.8" stroke-linejoin="round"/><path d="M343.8 236.2L347.3 242.8L340.3 242.8Z" fill="#10e010" stroke="#10e010" stroke-width="0.8" stroke-linejoin="round"/><path d="M344 267.2L347.5 273.8L340.5 273.8Z" fill="#10e010" stroke="#10e010" stroke-width="0.8" stroke-linejoin="round"/><path d="M332 279.7L335.5 286.3L328.5 286.3Z" fill="#10e010" stroke="#10e010" stroke-width="0.8" stroke-linejoin="round"/><path d="M337.5 279.7L341.0 286.3L334.0 286.3Z" fill="#10e010" stroke="#10e010" stroke-width="0.8" stroke-linejoin="round"/><path d="M340 289.7L343.5 296.3L336.5 296.3Z" fill="#10e010" stroke="#10e010" stroke-width="0.8" stroke-linejoin="round"/><path d="M342.5 290.7L346.0 297.3L339.0 297.3Z" fill="#10e010" stroke="#10e010" stroke-width="0.8" stroke-linejoin="round"/><path d="M335.5 292.7L339.0 299.3L332.0 299.3Z" fill="#10e010" stroke="#10e010" stroke-width="0.8" stroke-linejoin="round"/><path d="M334 297.2L337.5 303.8L330.5 303.8Z" fill="#10e010" stroke="#10e010" stroke-width="0.8" stroke-linejoin="round"/><path d="M326.2 310.0L329.7 316.6L322.7 316.6Z" fill="#10e010" stroke="#10e010" stroke-width="0.8" stroke-linejoin="round"/><path d="M363.3 282.9L366.8 289.5L359.8 289.5Z" fill="#10e010" stroke="#10e010" stroke-width="0.8" stroke-linejoin="round"/><path d="M376.7 279.5L380.2 286.1L373.2 286.1Z" fill="#10e010" stroke="#10e010" stroke-width="0.8" stroke-linejoin="round"/><path d="M393.5 261.59999999999997L397.0 268.2L390.0 268.2Z" fill="#10e010" stroke="#10e010" stroke-width="0.8" stroke-linejoin="round"/><path d="M407.3 236.2L410.8 242.8L403.8 242.8Z" fill="#10e010" stroke="#10e010" stroke-width="0.8" stroke-linejoin="round"/><rect x="450.2" y="183.8" width="5.6" height="6.4" fill="#0010f0"/><path d="M325.7 236.89999999999998l4.6 4.6M330.3 236.89999999999998l-4.6 4.6" stroke="#2a80e0" stroke-width="1.6"/><path d="M325.7 302.7l4.6 4.6M330.3 302.7l-4.6 4.6" stroke="#2a80e0" stroke-width="1.6"/><path d="M412.0 215.2l4.6 4.6M416.6 215.2l-4.6 4.6" stroke="#2a80e0" stroke-width="1.6"/><path d="M473.09999999999997 32.300000000000004l4.6 4.6M477.7 32.300000000000004l-4.6 4.6" stroke="#2a80e0" stroke-width="1.6"/><path d="M487.3 27.9l4.6 4.6M491.90000000000003 27.9l-4.6 4.6" stroke="#2a80e0" stroke-width="1.6"/><path d="M490.7 26.0l4.6 4.6M495.3 26.0l-4.6 4.6" stroke="#2a80e0" stroke-width="1.6"/><path d="M484.7 47.1l4.6 4.6M489.3 47.1l-4.6 4.6" stroke="#2a80e0" stroke-width="1.6"/><path d="M507.4 72.7l4.6 4.6M512.0 72.7l-4.6 4.6" stroke="#2a80e0" stroke-width="1.6"/><path d="M505.2 75.2l4.6 4.6M509.8 75.2l-4.6 4.6" stroke="#2a80e0" stroke-width="1.6"/><path d="M518.4000000000001 80.7l4.6 4.6M523.0 80.7l-4.6 4.6" stroke="#2a80e0" stroke-width="1.6"/><path d="M502.4 85.2l4.6 4.6M507.0 85.2l-4.6 4.6" stroke="#2a80e0" stroke-width="1.6"/><path d="M484.0 120.0l4.6 4.6M488.6 120.0l-4.6 4.6" stroke="#2a80e0" stroke-width="1.6"/><path d="M511.99999999999994 126.50000000000001l4.6 4.6M516.5999999999999 126.50000000000001l-4.6 4.6" stroke="#2a80e0" stroke-width="1.6"/><path d="M501.0 129.39999999999998l4.6 4.6M505.6 129.39999999999998l-4.6 4.6" stroke="#2a80e0" stroke-width="1.6"/><path d="M498.5 129.2l4.6 4.6M503.1 129.2l-4.6 4.6" stroke="#2a80e0" stroke-width="1.6"/><path d="M489.9 127.00000000000001l4.6 4.6M494.5 127.00000000000001l-4.6 4.6" stroke="#2a80e0" stroke-width="1.6"/><path d="M491.7 131.7l4.6 4.6M496.3 131.7l-4.6 4.6" stroke="#2a80e0" stroke-width="1.6"/><path d="M502.7 139.2l4.6 4.6M507.3 139.2l-4.6 4.6" stroke="#2a80e0" stroke-width="1.6"/><path d="M504.7 136.7l4.6 4.6M509.3 136.7l-4.6 4.6" stroke="#2a80e0" stroke-width="1.6"/><path d="M496.3 144.5l4.6 4.6M500.90000000000003 144.5l-4.6 4.6" stroke="#2a80e0" stroke-width="1.6"/><path d="M485.2 145.1l4.6 4.6M489.8 145.1l-4.6 4.6" stroke="#2a80e0" stroke-width="1.6"/><path d="M477.7 155.0l4.6 4.6M482.3 155.0l-4.6 4.6" stroke="#2a80e0" stroke-width="1.6"/><path d="M485.8 153.89999999999998l4.6 4.6M490.40000000000003 153.89999999999998l-4.6 4.6" stroke="#2a80e0" stroke-width="1.6"/><path d="M492.7 156.2l4.6 4.6M497.3 156.2l-4.6 4.6" stroke="#2a80e0" stroke-width="1.6"/><path d="M496.3 155.7l4.6 4.6M500.90000000000003 155.7l-4.6 4.6" stroke="#2a80e0" stroke-width="1.6"/><path d="M499.2 155.7l4.6 4.6M503.8 155.7l-4.6 4.6" stroke="#2a80e0" stroke-width="1.6"/><path d="M526.5 34.3h5M529 31.799999999999997v5" stroke="#e26a6a" stroke-width="2.2"/><circle cx="529" cy="34.3" r="1.6" fill="#e26a6a"/><path d="M518.2 58.7h5M520.7 56.2v5" stroke="#e26a6a" stroke-width="2.2"/><circle cx="520.7" cy="58.7" r="1.6" fill="#e26a6a"/><path d="M488.2 93.8h5M490.7 91.3v5" stroke="#e26a6a" stroke-width="2.2"/><circle cx="490.7" cy="93.8" r="1.6" fill="#e26a6a"/><path d="M495.9 101.9h5M498.4 99.4v5" stroke="#e26a6a" stroke-width="2.2"/><circle cx="498.4" cy="101.9" r="1.6" fill="#e26a6a"/><path d="M507.2 101.9h5M509.7 99.4v5" stroke="#e26a6a" stroke-width="2.2"/><circle cx="509.7" cy="101.9" r="1.6" fill="#e26a6a"/><path d="M489.7 107.8h5M492.2 105.3v5" stroke="#e26a6a" stroke-width="2.2"/><circle cx="492.2" cy="107.8" r="1.6" fill="#e26a6a"/><path d="M493.2 106.6h5M495.7 104.1v5" stroke="#e26a6a" stroke-width="2.2"/><circle cx="495.7" cy="106.6" r="1.6" fill="#e26a6a"/><path d="M489.1 114.3h5M491.6 111.8v5" stroke="#e26a6a" stroke-width="2.2"/><circle cx="491.6" cy="114.3" r="1.6" fill="#e26a6a"/><path d="M507.2 118.3h5M509.7 115.8v5" stroke="#e26a6a" stroke-width="2.2"/><circle cx="509.7" cy="118.3" r="1.6" fill="#e26a6a"/><path d="M494.3 121.2h5M496.8 118.7v5" stroke="#e26a6a" stroke-width="2.2"/><circle cx="496.8" cy="121.2" r="1.6" fill="#e26a6a"/><path d="M487.9 131.7h5M490.4 129.2v5" stroke="#e26a6a" stroke-width="2.2"/><circle cx="490.4" cy="131.7" r="1.6" fill="#e26a6a"/><path d="M494.9 128.2h5M497.4 125.69999999999999v5" stroke="#e26a6a" stroke-width="2.2"/><circle cx="497.4" cy="128.2" r="1.6" fill="#e26a6a"/><path d="M317.3 288.7L319.1 291.8L315.5 291.8ZM343.8 238.2L345.6 241.3L342.0 241.3ZM344 269.2L345.8 272.3L342.2 272.3ZM332 281.7L333.8 284.8L330.2 284.8ZM337.5 281.7L339.3 284.8L335.7 284.8ZM340 291.7L341.8 294.8L338.2 294.8ZM342.5 292.7L344.3 295.8L340.7 295.8ZM335.5 294.7L337.3 297.8L333.7 297.8ZM334 299.2L335.8 302.3L332.2 302.3ZM326.2 312.0L328.0 315.1L324.4 315.1ZM363.3 284.9L365.1 288.0L361.5 288.0ZM376.7 281.5L378.5 284.6L374.9 284.6ZM393.5 263.59999999999997L395.3 266.7L391.7 266.7ZM407.3 238.2L409.1 241.3L405.5 241.3Z" stroke="#143" stroke-width="0.9" fill="none"/><path d="M61.00 565.0v-11M61.00 1.5v11M78.87 565.0v-5.5M78.87 1.5v5.5M96.73 565.0v-5.5M96.73 1.5v5.5M114.60 565.0v-5.5M114.60 1.5v5.5M132.47 565.0v-5.5M132.47 1.5v5.5M150.33 565.0v-5.5M150.33 1.5v5.5M168.20 565.0v-5.5M168.20 1.5v5.5M186.07 565.0v-5.5M186.07 1.5v5.5M203.93 565.0v-5.5M203.93 1.5v5.5M221.80 565.0v-5.5M221.80 1.5v5.5M239.67 565.0v-11M239.67 1.5v11M257.53 565.0v-5.5M257.53 1.5v5.5M275.40 565.0v-5.5M275.40 1.5v5.5M293.27 565.0v-5.5M293.27 1.5v5.5M311.13 565.0v-5.5M311.13 1.5v5.5M329.00 565.0v-5.5M329.00 1.5v5.5M346.87 565.0v-5.5M346.87 1.5v5.5M364.73 565.0v-5.5M364.73 1.5v5.5M382.60 565.0v-5.5M382.60 1.5v5.5M400.47 565.0v-5.5M400.47 1.5v5.5M418.33 565.0v-11M418.33 1.5v11M436.20 565.0v-5.5M436.20 1.5v5.5M454.07 565.0v-5.5M454.07 1.5v5.5M471.93 565.0v-5.5M471.93 1.5v5.5M489.80 565.0v-5.5M489.80 1.5v5.5M507.67 565.0v-5.5M507.67 1.5v5.5M525.53 565.0v-5.5M525.53 1.5v5.5M543.40 565.0v-5.5M543.40 1.5v5.5M561.27 565.0v-5.5M561.27 1.5v5.5M579.13 565.0v-5.5M579.13 1.5v5.5M597.00 565.0v-11M597.00 1.5v11M61.0 565.00h5.5M597.0 565.00h-5.5M61.0 546.22h5.5M597.0 546.22h-5.5M61.0 527.43h11M597.0 527.43h-11M61.0 508.65h5.5M597.0 508.65h-5.5M61.0 489.87h5.5M597.0 489.87h-5.5M61.0 471.08h5.5M597.0 471.08h-5.5M61.0 452.30h11M597.0 452.30h-11M61.0 433.52h5.5M597.0 433.52h-5.5M61.0 414.73h5.5M597.0 414.73h-5.5M61.0 395.95h5.5M597.0 395.95h-5.5M61.0 377.17h11M597.0 377.17h-11M61.0 358.38h5.5M597.0 358.38h-5.5M61.0 339.60h5.5M597.0 339.60h-5.5M61.0 320.82h5.5M597.0 320.82h-5.5M61.0 302.03h11M597.0 302.03h-11M61.0 283.25h5.5M597.0 283.25h-5.5M61.0 264.47h5.5M597.0 264.47h-5.5M61.0 245.68h5.5M597.0 245.68h-5.5M61.0 226.90h11M597.0 226.90h-11M61.0 208.12h5.5M597.0 208.12h-5.5M61.0 189.33h5.5M597.0 189.33h-5.5M61.0 170.55h5.5M597.0 170.55h-5.5M61.0 151.77h11M597.0 151.77h-11M61.0 132.98h5.5M597.0 132.98h-5.5M61.0 114.20h5.5M597.0 114.20h-5.5M61.0 95.42h5.5M597.0 95.42h-5.5M61.0 76.63h11M597.0 76.63h-11M61.0 57.85h5.5M597.0 57.85h-5.5M61.0 39.07h5.5M597.0 39.07h-5.5M61.0 20.28h5.5M597.0 20.28h-5.5M61.0 1.50h11M597.0 1.50h-11" stroke="#5a5a5a" stroke-width="1.3" fill="none"/><rect x="61.0" y="1.5" width="536.0" height="563.5" fill="none" stroke="#707070" stroke-width="2"/><g font-size="15" fill="#000"><text x="239.7" y="586" text-anchor="middle">0</text><text x="597.0" y="586" text-anchor="middle">2</text><text x="56" y="11" text-anchor="end">.0</text><text x="56" y="82.6" text-anchor="end">0.8</text><text x="56" y="157.8" text-anchor="end">0.6</text><text x="56" y="232.9" text-anchor="end">0.4</text><text x="56" y="308.0" text-anchor="end">0.2</text><text x="56" y="383.2" text-anchor="end">0.0</text><text x="56" y="458.3" text-anchor="end">−0.2</text><text x="56" y="533.4" text-anchor="end">−0.4</text><text x="316.3" y="603" textLength="25" lengthAdjust="spacingAndGlyphs">g−r</text><text transform="translate(10.7 293.2) rotate(-90)" x="0" y="0" textLength="19.5" lengthAdjust="spacingAndGlyphs">r−i</text></g><path d="M52.2 581.6H60.3M64.6 577.9L67 576.3V585.6M416.1 577.7L418.5 576V585.6M37.2 3.2L39.6 1.3V10.9" stroke="#000" stroke-width="1.55" fill="none" stroke-linejoin="round"/><g font-size="13" fill="#000" stroke="#000" stroke-width="0.75"><text x="471" y="221.3" textLength="44.6" lengthAdjust="spacingAndGlyphs">4000K</text><text x="518.7" y="289" textLength="44.2" lengthAdjust="spacingAndGlyphs">3000K</text><text x="336" y="332.4" textLength="43.6" lengthAdjust="spacingAndGlyphs">6000K</text><text x="247.3" y="429.4" textLength="51.8" lengthAdjust="spacingAndGlyphs">10000K</text><text x="210.3" y="477.5" textLength="51.5" lengthAdjust="spacingAndGlyphs">15000K</text></g><g font-size="14" fill="#000"><rect x="71.6" y="17.6" width="169.2" height="87.7" fill="none" stroke="#444" stroke-width="1.4"/><text x="96.3" y="33.3" textLength="7.6" lengthAdjust="spacingAndGlyphs">T</text><text x="108.6" y="33.3" textLength="11.6" lengthAdjust="spacingAndGlyphs">≦</text><text x="122.3" y="33.3" textLength="43.5" lengthAdjust="spacingAndGlyphs">4000K</text><text x="96.0" y="49.7" textLength="44.5" lengthAdjust="spacingAndGlyphs">4000K</text><text x="148.3" y="49.7" textLength="9.4" lengthAdjust="spacingAndGlyphs">&lt;</text><text x="165.0" y="49.7" textLength="7.8" lengthAdjust="spacingAndGlyphs">T</text><text x="177.3" y="49.7" textLength="11.6" lengthAdjust="spacingAndGlyphs">≦</text><text x="191.0" y="49.7" textLength="44.2" lengthAdjust="spacingAndGlyphs">5500K</text><text x="96.0" y="65.6" textLength="44.5" lengthAdjust="spacingAndGlyphs">5500K</text><text x="148.3" y="65.6" textLength="9.4" lengthAdjust="spacingAndGlyphs">&lt;</text><text x="165.0" y="65.6" textLength="7.8" lengthAdjust="spacingAndGlyphs">T</text><text x="96.3" y="81.3" textLength="19.2" lengthAdjust="spacingAndGlyphs">MS</text><text x="96.3" y="97.3" textLength="18.2" lengthAdjust="spacingAndGlyphs">SD</text><path d="M81.9 29.3h9.0M86.4 24.8v9.0M83.16000000000001 26.060000000000002l6.4799999999999995 6.4799999999999995M89.64 26.060000000000002l-6.4799999999999995 6.4799999999999995" stroke="#1414e6" stroke-width="1.4"/><path d="M86.4 41.2L90.9 49.7L81.9 49.7Z" stroke="#22dd22" stroke-width="1.4" fill="none" stroke-linejoin="miter"/><path d="M86.4 57.5L90.9 61.8L86.4 66.1L81.9 61.8Z" stroke="#dd22dd" stroke-width="1.4" fill="none"/><path d="M81.9 73.5l9 8.2M90.9 73.5l-9 8.2" stroke="#2a7ee8" stroke-width="1.4"/><path d="M82.2 93.5h8.4M86.4 89.2v8.6" stroke="#e05a5a" stroke-width="1.4"/></g>
</svg></body></html>
